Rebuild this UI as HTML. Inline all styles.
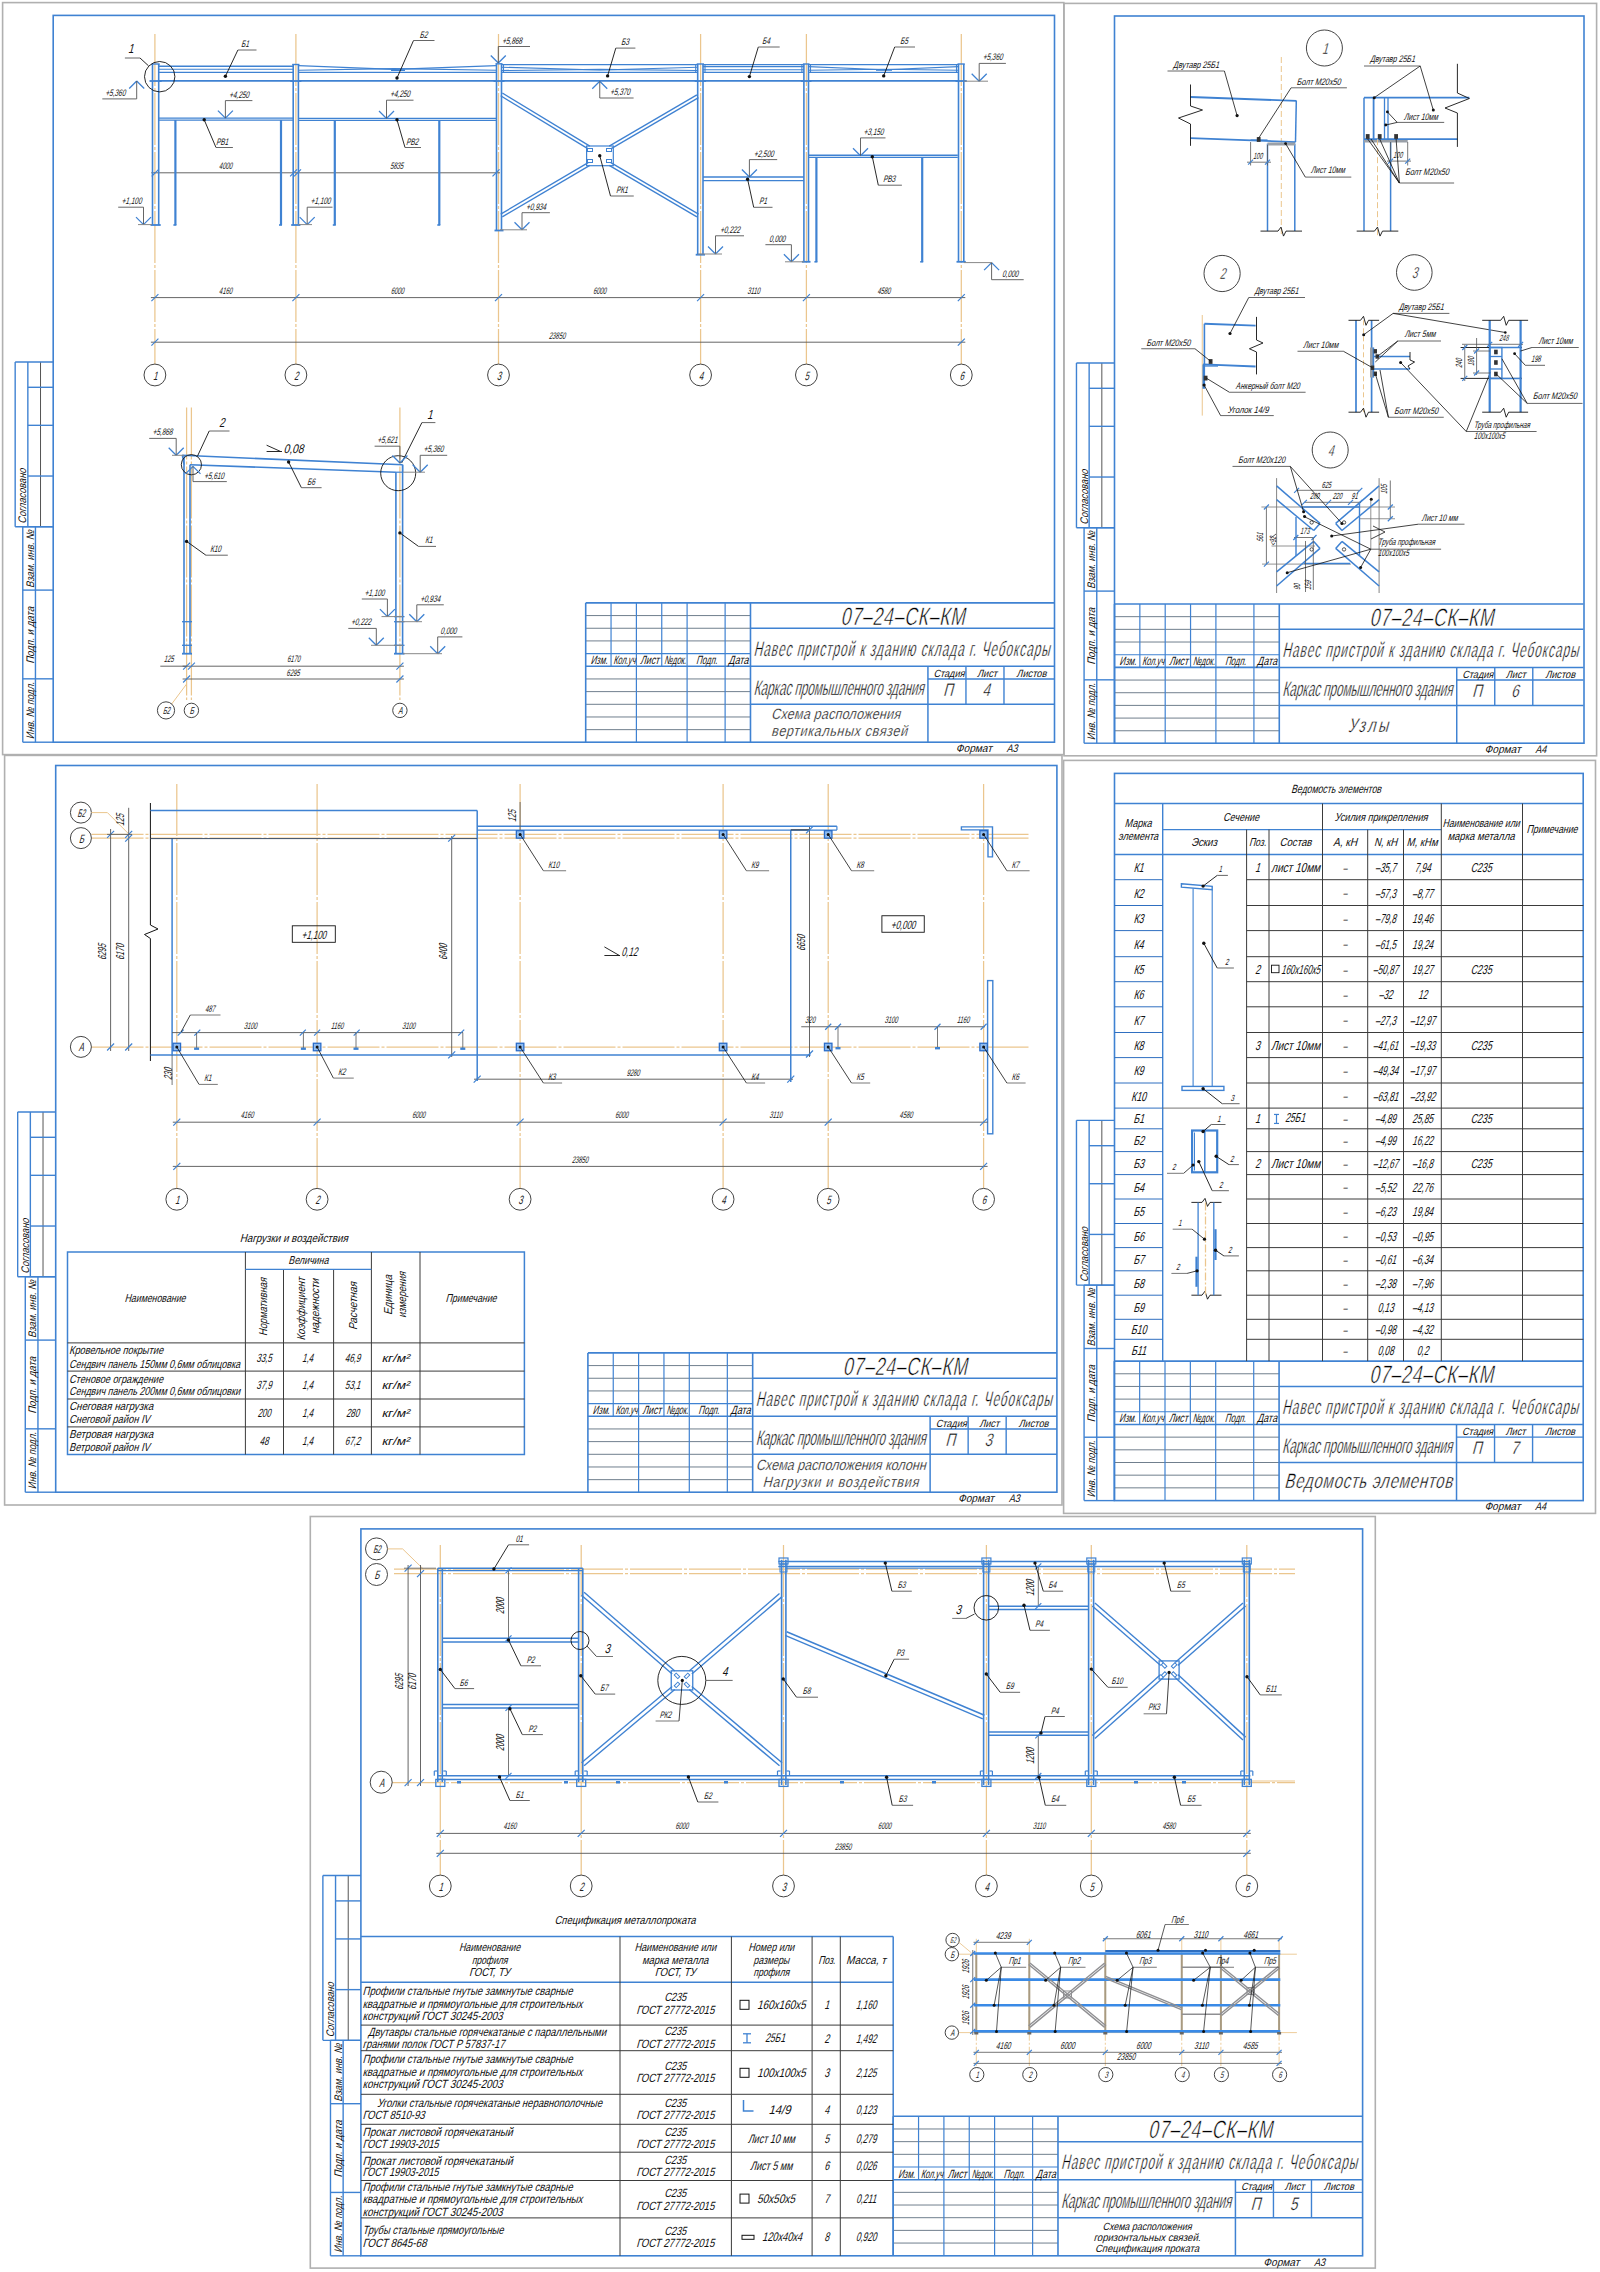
<!DOCTYPE html><html><head><meta charset="utf-8"><style>html,body{margin:0;padding:0;background:#fff;}svg{display:block;}</style></head><body><svg width="1600" height="2272" viewBox="0 0 1600 2272" font-family="Liberation Sans, sans-serif">
<rect width="1600" height="2272" fill="#fff"/>
<rect x="2.6" y="2.6" width="1061.2" height="752" fill="none" stroke="#b0b0b0" stroke-width="1.6"/>
<rect x="53.2" y="15.4" width="1001.3" height="726.8" fill="none" stroke="#3f82d2" stroke-width="1.6"/>
<line x1="22.78" y1="526.73" x2="22.78" y2="742.2" stroke="#3f82d2" stroke-width="1.4"/>
<line x1="35.45" y1="526.73" x2="35.45" y2="742.2" stroke="#3f82d2" stroke-width="1.4"/>
<line x1="22.78" y1="742.2" x2="53.2" y2="742.2" stroke="#3f82d2" stroke-width="1.4"/>
<line x1="22.78" y1="678.83" x2="53.2" y2="678.83" stroke="#3f82d2" stroke-width="1.4"/>
<line x1="22.78" y1="590.1" x2="53.2" y2="590.1" stroke="#3f82d2" stroke-width="1.4"/>
<line x1="22.78" y1="526.73" x2="53.2" y2="526.73" stroke="#3f82d2" stroke-width="1.4"/>
<text transform="translate(33.95,739.2) rotate(-90) skewX(-15) scale(0.72,1)" font-size="11" text-anchor="start" fill="#111111" textLength="79.17" lengthAdjust="spacingAndGlyphs">Инв. № подл.</text>
<text transform="translate(33.95,663.83) rotate(-90) skewX(-15) scale(0.72,1)" font-size="11" text-anchor="start" fill="#111111" textLength="79.17" lengthAdjust="spacingAndGlyphs">Подп. и дата</text>
<text transform="translate(33.95,588.1) rotate(-90) skewX(-15) scale(0.72,1)" font-size="11" text-anchor="start" fill="#111111" textLength="80.56" lengthAdjust="spacingAndGlyphs">Взам. инв. №</text>
<line x1="15.17" y1="361.95" x2="15.17" y2="526.73" stroke="#3f82d2" stroke-width="1.4"/>
<line x1="27.85" y1="361.95" x2="27.85" y2="526.73" stroke="#3f82d2" stroke-width="1.4"/>
<line x1="40.53" y1="361.95" x2="40.53" y2="526.73" stroke="#555" stroke-width="1.0"/>
<line x1="15.17" y1="361.95" x2="53.2" y2="361.95" stroke="#3f82d2" stroke-width="1.4"/>
<line x1="15.17" y1="526.73" x2="53.2" y2="526.73" stroke="#3f82d2" stroke-width="1.4"/>
<line x1="27.85" y1="476.03" x2="53.2" y2="476.03" stroke="#3f82d2" stroke-width="1.4"/>
<line x1="27.85" y1="425.33" x2="53.2" y2="425.33" stroke="#3f82d2" stroke-width="1.4"/>
<line x1="27.85" y1="387.3" x2="53.2" y2="387.3" stroke="#3f82d2" stroke-width="1.4"/>
<text transform="translate(26.35,523.73) rotate(-90) skewX(-15) scale(0.72,1)" font-size="11" text-anchor="start" fill="#111111" textLength="76.39" lengthAdjust="spacingAndGlyphs">Согласовано</text>
<line x1="585.7" y1="615.57" x2="750.48" y2="615.57" stroke="#607080" stroke-width="0.9"/>
<line x1="585.7" y1="628.25" x2="750.48" y2="628.25" stroke="#607080" stroke-width="0.9"/>
<line x1="585.7" y1="640.92" x2="750.48" y2="640.92" stroke="#607080" stroke-width="0.9"/>
<line x1="585.7" y1="653.6" x2="750.48" y2="653.6" stroke="#3f82d2" stroke-width="1.1"/>
<line x1="585.7" y1="666.27" x2="750.48" y2="666.27" stroke="#3f82d2" stroke-width="1.6"/>
<line x1="585.7" y1="678.95" x2="750.48" y2="678.95" stroke="#607080" stroke-width="0.9"/>
<line x1="585.7" y1="691.62" x2="750.48" y2="691.62" stroke="#607080" stroke-width="0.9"/>
<line x1="585.7" y1="704.3" x2="750.48" y2="704.3" stroke="#607080" stroke-width="0.9"/>
<line x1="585.7" y1="716.98" x2="750.48" y2="716.98" stroke="#607080" stroke-width="0.9"/>
<line x1="585.7" y1="729.65" x2="750.48" y2="729.65" stroke="#607080" stroke-width="0.9"/>
<line x1="611.05" y1="602.9" x2="611.05" y2="666.27" stroke="#3f82d2" stroke-width="1.2"/>
<line x1="636.4" y1="602.9" x2="636.4" y2="666.27" stroke="#3f82d2" stroke-width="1.2"/>
<line x1="661.75" y1="602.9" x2="661.75" y2="666.27" stroke="#3f82d2" stroke-width="1.2"/>
<line x1="687.1" y1="602.9" x2="687.1" y2="666.27" stroke="#3f82d2" stroke-width="1.2"/>
<line x1="725.12" y1="602.9" x2="725.12" y2="666.27" stroke="#3f82d2" stroke-width="1.2"/>
<line x1="636.4" y1="666.27" x2="636.4" y2="742.33" stroke="#3f82d2" stroke-width="1.2"/>
<line x1="687.1" y1="666.27" x2="687.1" y2="742.33" stroke="#3f82d2" stroke-width="1.2"/>
<line x1="725.12" y1="666.27" x2="725.12" y2="742.33" stroke="#3f82d2" stroke-width="1.2"/>
<line x1="585.7" y1="602.9" x2="585.7" y2="742.33" stroke="#3f82d2" stroke-width="1.6"/>
<line x1="750.48" y1="602.9" x2="750.48" y2="742.33" stroke="#3f82d2" stroke-width="1.6"/>
<line x1="585.7" y1="602.9" x2="1054.68" y2="602.9" stroke="#3f82d2" stroke-width="1.6"/>
<line x1="750.48" y1="628.25" x2="1054.68" y2="628.25" stroke="#3f82d2" stroke-width="1.5"/>
<line x1="750.48" y1="666.27" x2="1054.68" y2="666.27" stroke="#3f82d2" stroke-width="1.5"/>
<line x1="750.48" y1="704.3" x2="1054.68" y2="704.3" stroke="#3f82d2" stroke-width="1.5"/>
<line x1="927.93" y1="678.95" x2="1054.68" y2="678.95" stroke="#3f82d2" stroke-width="1.4"/>
<line x1="927.93" y1="666.27" x2="927.93" y2="742.33" stroke="#3f82d2" stroke-width="1.5"/>
<line x1="965.95" y1="666.27" x2="965.95" y2="704.3" stroke="#3f82d2" stroke-width="1.4"/>
<line x1="1003.98" y1="666.27" x2="1003.98" y2="704.3" stroke="#3f82d2" stroke-width="1.4"/>
<text transform="translate(598.88,664.25) skewX(-15) scale(0.62,1)" font-size="12" text-anchor="middle" fill="#111111" textLength="27.42" lengthAdjust="spacingAndGlyphs">Изм.</text>
<text transform="translate(624.23,664.25) skewX(-15) scale(0.62,1)" font-size="12" text-anchor="middle" fill="#111111" textLength="35.48" lengthAdjust="spacingAndGlyphs">Кол.уч</text>
<text transform="translate(649.58,664.25) skewX(-15) scale(0.62,1)" font-size="12" text-anchor="middle" fill="#111111" textLength="30.65" lengthAdjust="spacingAndGlyphs">Лист</text>
<text transform="translate(674.93,664.25) skewX(-15) scale(0.62,1)" font-size="12" text-anchor="middle" fill="#111111" textLength="35.48" lengthAdjust="spacingAndGlyphs">№док.</text>
<text transform="translate(706.61,664.25) skewX(-15) scale(0.62,1)" font-size="12" text-anchor="middle" fill="#111111" textLength="33.87" lengthAdjust="spacingAndGlyphs">Подп.</text>
<text transform="translate(738.3,664.25) skewX(-15) scale(0.62,1)" font-size="12" text-anchor="middle" fill="#111111" textLength="32.26" lengthAdjust="spacingAndGlyphs">Дата</text>
<text transform="translate(902.58,624.7) skewX(-12) scale(0.7,1)" font-size="25" text-anchor="middle" fill="#000" stroke="#fff" stroke-width="0.55" textLength="177.14" lengthAdjust="spacing">07–24–СК–КМ</text>
<text transform="translate(753.48,655.63) skewX(-13) scale(0.56,1)" font-size="21" text-anchor="start" fill="#000" stroke="#fff" stroke-width="0.46" textLength="528.57" lengthAdjust="spacing">Навес пристрой к зданию склада г. Чебоксары</text>
<text transform="translate(753.48,694.92) skewX(-13) scale(0.58,1)" font-size="21" text-anchor="start" fill="#000" stroke="#fff" stroke-width="0.46" textLength="293.1" lengthAdjust="spacingAndGlyphs">Каркас промышленного здания</text>
<text transform="translate(948.94,676.92) skewX(-15) scale(0.65,1)" font-size="10.5" text-anchor="middle" fill="#111111" textLength="47.69" lengthAdjust="spacingAndGlyphs">Стадия</text>
<text transform="translate(986.96,676.92) skewX(-15) scale(0.65,1)" font-size="10.5" text-anchor="middle" fill="#111111" textLength="30.77" lengthAdjust="spacingAndGlyphs">Лист</text>
<text transform="translate(1031.33,676.92) skewX(-15) scale(0.65,1)" font-size="10.5" text-anchor="middle" fill="#111111" textLength="46.15" lengthAdjust="spacingAndGlyphs">Листов</text>
<text transform="translate(947.94,696.19) skewX(-15) scale(0.75,1)" font-size="18" text-anchor="middle" fill="#000" stroke="#fff" stroke-width="0.4">П</text>
<text transform="translate(985.96,696.19) skewX(-15) scale(0.75,1)" font-size="18" text-anchor="middle" fill="#000" stroke="#fff" stroke-width="0.4">4</text>
<text transform="translate(955.81,752.12) skewX(-15) scale(0.68,1)" font-size="11" text-anchor="start" fill="#111111" textLength="52.94" lengthAdjust="spacingAndGlyphs">Формат</text>
<text transform="translate(1006.51,752.12) skewX(-15) scale(0.75,1)" font-size="11" text-anchor="start" fill="#111111" textLength="14.67" lengthAdjust="spacingAndGlyphs">А3</text>
<text transform="translate(771,718.6) skewX(-15) scale(0.84,1)" font-size="15" text-anchor="start" fill="#000" stroke="#fff" stroke-width="0.33" textLength="153.57" lengthAdjust="spacing">Схема расположения</text>
<text transform="translate(771,735.5) skewX(-15) scale(0.84,1)" font-size="15" text-anchor="start" fill="#000" stroke="#fff" stroke-width="0.33" textLength="161.9" lengthAdjust="spacing">вертикальных связей</text>
<line x1="154.9" y1="34" x2="154.9" y2="364" stroke="#ebc68e" stroke-width="1.25" stroke-dasharray="52 2 3 2"/>
<line x1="295.9" y1="34" x2="295.9" y2="364" stroke="#ebc68e" stroke-width="1.25" stroke-dasharray="52 2 3 2"/>
<line x1="498.5" y1="34" x2="498.5" y2="364" stroke="#ebc68e" stroke-width="1.25" stroke-dasharray="52 2 3 2"/>
<line x1="700.6" y1="34" x2="700.6" y2="364" stroke="#ebc68e" stroke-width="1.25" stroke-dasharray="52 2 3 2"/>
<line x1="806.4" y1="34" x2="806.4" y2="364" stroke="#ebc68e" stroke-width="1.25" stroke-dasharray="52 2 3 2"/>
<line x1="961.3" y1="34" x2="961.3" y2="364" stroke="#ebc68e" stroke-width="1.25" stroke-dasharray="52 2 3 2"/>
<circle cx="154.9" cy="375" r="10.9" fill="#fff" stroke="#3a3a3a" stroke-width="0.95"/>
<text transform="translate(155.2,379.55) skewX(-15) scale(0.644,1)" font-size="12.09" text-anchor="middle" fill="#222">1</text>
<circle cx="295.9" cy="375" r="10.9" fill="#fff" stroke="#3a3a3a" stroke-width="0.95"/>
<text transform="translate(296.2,379.55) skewX(-15) scale(0.644,1)" font-size="12.09" text-anchor="middle" fill="#222">2</text>
<circle cx="498.5" cy="375" r="10.9" fill="#fff" stroke="#3a3a3a" stroke-width="0.95"/>
<text transform="translate(498.8,379.55) skewX(-15) scale(0.644,1)" font-size="12.09" text-anchor="middle" fill="#222">3</text>
<circle cx="700.6" cy="375" r="10.9" fill="#fff" stroke="#3a3a3a" stroke-width="0.95"/>
<text transform="translate(700.9,379.55) skewX(-15) scale(0.644,1)" font-size="12.09" text-anchor="middle" fill="#222">4</text>
<circle cx="806.4" cy="375" r="10.9" fill="#fff" stroke="#3a3a3a" stroke-width="0.95"/>
<text transform="translate(806.7,379.55) skewX(-15) scale(0.644,1)" font-size="12.09" text-anchor="middle" fill="#222">5</text>
<circle cx="961.3" cy="375" r="10.9" fill="#fff" stroke="#3a3a3a" stroke-width="0.95"/>
<text transform="translate(961.6,379.55) skewX(-15) scale(0.644,1)" font-size="12.09" text-anchor="middle" fill="#222">6</text>
<line x1="150.9" y1="297.6" x2="965.3" y2="297.6" stroke="#555555" stroke-width="0.9"/>
<line x1="151.4" y1="301.1" x2="158.4" y2="294.1" stroke="#3f82d2" stroke-width="1.2"/>
<line x1="292.4" y1="301.1" x2="299.4" y2="294.1" stroke="#3f82d2" stroke-width="1.2"/>
<line x1="495" y1="301.1" x2="502" y2="294.1" stroke="#3f82d2" stroke-width="1.2"/>
<line x1="697.1" y1="301.1" x2="704.1" y2="294.1" stroke="#3f82d2" stroke-width="1.2"/>
<line x1="802.9" y1="301.1" x2="809.9" y2="294.1" stroke="#3f82d2" stroke-width="1.2"/>
<line x1="957.8" y1="301.1" x2="964.8" y2="294.1" stroke="#3f82d2" stroke-width="1.2"/>
<text transform="translate(225.4,294.2) skewX(-15) scale(0.62,1)" font-size="9.5" text-anchor="middle" fill="#111111">4160</text>
<text transform="translate(397.2,294.2) skewX(-15) scale(0.62,1)" font-size="9.5" text-anchor="middle" fill="#111111">6000</text>
<text transform="translate(599.55,294.2) skewX(-15) scale(0.62,1)" font-size="9.5" text-anchor="middle" fill="#111111">6000</text>
<text transform="translate(753.5,294.2) skewX(-15) scale(0.62,1)" font-size="9.5" text-anchor="middle" fill="#111111">3110</text>
<text transform="translate(883.85,294.2) skewX(-15) scale(0.62,1)" font-size="9.5" text-anchor="middle" fill="#111111">4580</text>
<line x1="150.9" y1="342.2" x2="965.3" y2="342.2" stroke="#555555" stroke-width="0.9"/>
<line x1="151.4" y1="345.7" x2="158.4" y2="338.7" stroke="#3f82d2" stroke-width="1.2"/>
<line x1="957.8" y1="345.7" x2="964.8" y2="338.7" stroke="#3f82d2" stroke-width="1.2"/>
<text transform="translate(557,338.8) skewX(-15) scale(0.62,1)" font-size="9.5" text-anchor="middle" fill="#111111">23850</text>
<line x1="151.2" y1="172.8" x2="500" y2="172.8" stroke="#555555" stroke-width="0.9"/>
<line x1="151.7" y1="176.3" x2="158.7" y2="169.3" stroke="#3f82d2" stroke-width="1.2"/>
<line x1="290.1" y1="176.3" x2="297.1" y2="169.3" stroke="#3f82d2" stroke-width="1.2"/>
<line x1="294" y1="176.3" x2="301" y2="169.3" stroke="#3f82d2" stroke-width="1.2"/>
<line x1="492.5" y1="176.3" x2="499.5" y2="169.3" stroke="#3f82d2" stroke-width="1.2"/>
<text transform="translate(225.4,169) skewX(-15) scale(0.62,1)" font-size="9.5" text-anchor="middle" fill="#111111">4000</text>
<text transform="translate(396.6,169) skewX(-15) scale(0.62,1)" font-size="9.5" text-anchor="middle" fill="#111111">5835</text>
<line x1="152.5" y1="64" x2="152.5" y2="225" stroke="#3f82d2" stroke-width="1.6"/>
<line x1="158.7" y1="64" x2="158.7" y2="225" stroke="#3f82d2" stroke-width="1.6"/>
<line x1="151.5" y1="64" x2="159.7" y2="64" stroke="#3f82d2" stroke-width="1.4"/>
<line x1="150.5" y1="225" x2="160.7" y2="225" stroke="#3f82d2" stroke-width="1.8"/>
<line x1="293.2" y1="64.5" x2="293.2" y2="225" stroke="#3f82d2" stroke-width="1.6"/>
<line x1="298.4" y1="64.5" x2="298.4" y2="225" stroke="#3f82d2" stroke-width="1.6"/>
<line x1="292.2" y1="64.5" x2="299.4" y2="64.5" stroke="#3f82d2" stroke-width="1.4"/>
<line x1="291.2" y1="225" x2="300.4" y2="225" stroke="#3f82d2" stroke-width="1.8"/>
<line x1="496.5" y1="63.8" x2="496.5" y2="230.5" stroke="#3f82d2" stroke-width="1.6"/>
<line x1="501.5" y1="63.8" x2="501.5" y2="230.5" stroke="#3f82d2" stroke-width="1.6"/>
<line x1="495.5" y1="63.8" x2="502.5" y2="63.8" stroke="#3f82d2" stroke-width="1.4"/>
<line x1="494.5" y1="230.5" x2="503.5" y2="230.5" stroke="#3f82d2" stroke-width="1.8"/>
<line x1="697.7" y1="64" x2="697.7" y2="254.7" stroke="#3f82d2" stroke-width="1.6"/>
<line x1="703" y1="64" x2="703" y2="254.7" stroke="#3f82d2" stroke-width="1.6"/>
<line x1="696.7" y1="64" x2="704" y2="64" stroke="#3f82d2" stroke-width="1.4"/>
<line x1="695.7" y1="254.7" x2="705" y2="254.7" stroke="#3f82d2" stroke-width="1.8"/>
<line x1="803.9" y1="64" x2="803.9" y2="261.8" stroke="#3f82d2" stroke-width="1.6"/>
<line x1="808.5" y1="64" x2="808.5" y2="261.8" stroke="#3f82d2" stroke-width="1.6"/>
<line x1="802.9" y1="64" x2="809.5" y2="64" stroke="#3f82d2" stroke-width="1.4"/>
<line x1="801.9" y1="261.8" x2="810.5" y2="261.8" stroke="#3f82d2" stroke-width="1.8"/>
<line x1="958.5" y1="64" x2="958.5" y2="261.8" stroke="#3f82d2" stroke-width="1.6"/>
<line x1="963.8" y1="64" x2="963.8" y2="261.8" stroke="#3f82d2" stroke-width="1.6"/>
<line x1="957.5" y1="64" x2="964.8" y2="64" stroke="#3f82d2" stroke-width="1.4"/>
<line x1="956.5" y1="261.8" x2="965.8" y2="261.8" stroke="#3f82d2" stroke-width="1.8"/>
<line x1="158.7" y1="80.8" x2="293.2" y2="80.8" stroke="#3f82d2" stroke-width="1.8"/>
<line x1="158.7" y1="72.3" x2="293.2" y2="72.3" stroke="#3f82d2" stroke-width="1.3"/>
<line x1="298.4" y1="80.8" x2="496.5" y2="80.8" stroke="#3f82d2" stroke-width="1.8"/>
<line x1="298.4" y1="72.3" x2="496.5" y2="72.3" stroke="#3f82d2" stroke-width="1.3"/>
<line x1="501.5" y1="80.8" x2="697.7" y2="80.8" stroke="#3f82d2" stroke-width="1.8"/>
<line x1="501.5" y1="72.3" x2="697.7" y2="72.3" stroke="#3f82d2" stroke-width="1.3"/>
<line x1="501.5" y1="64.6" x2="697.7" y2="64.6" stroke="#3f82d2" stroke-width="1.4"/>
<line x1="503.5" y1="64.6" x2="503.5" y2="72.3" stroke="#3f82d2" stroke-width="1.1"/>
<line x1="695.7" y1="64.6" x2="695.7" y2="72.3" stroke="#3f82d2" stroke-width="1.1"/>
<line x1="703" y1="80.8" x2="803.9" y2="80.8" stroke="#3f82d2" stroke-width="1.8"/>
<line x1="703" y1="72.3" x2="803.9" y2="72.3" stroke="#3f82d2" stroke-width="1.3"/>
<line x1="703" y1="64.6" x2="803.9" y2="64.6" stroke="#3f82d2" stroke-width="1.4"/>
<line x1="705" y1="64.6" x2="705" y2="72.3" stroke="#3f82d2" stroke-width="1.1"/>
<line x1="801.9" y1="64.6" x2="801.9" y2="72.3" stroke="#3f82d2" stroke-width="1.1"/>
<line x1="808.5" y1="80.8" x2="958.5" y2="80.8" stroke="#3f82d2" stroke-width="1.8"/>
<line x1="808.5" y1="72.3" x2="958.5" y2="72.3" stroke="#3f82d2" stroke-width="1.3"/>
<line x1="808.5" y1="64.6" x2="958.5" y2="64.6" stroke="#3f82d2" stroke-width="1.4"/>
<line x1="810.5" y1="64.6" x2="810.5" y2="72.3" stroke="#3f82d2" stroke-width="1.1"/>
<line x1="956.5" y1="64.6" x2="956.5" y2="72.3" stroke="#3f82d2" stroke-width="1.1"/>
<line x1="158.7" y1="66.2" x2="293.2" y2="66.2" stroke="#3f82d2" stroke-width="1.4"/>
<line x1="158.7" y1="69.2" x2="293.2" y2="69.2" stroke="#3f82d2" stroke-width="1.1"/>
<polyline points="298.4,65.6 394,69.4 496.5,65.6" fill="none" stroke="#3f82d2" stroke-width="1.4"/>
<polyline points="298.4,70.2 394,68.6 496.5,70.2" fill="none" stroke="#3f82d2" stroke-width="1.1"/>
<line x1="391" y1="70.2" x2="405" y2="70.2" stroke="#3f82d2" stroke-width="1.6"/>
<polyline points="501.5,67.2 600,70 697.7,67.2" fill="none" stroke="#3f82d2" stroke-width="1.1"/>
<polyline points="501.5,70.5 600,69.4 697.7,70.5" fill="none" stroke="#3f82d2" stroke-width="1.1"/>
<line x1="703" y1="66.6" x2="803.9" y2="66.6" stroke="#3f82d2" stroke-width="1.1"/>
<line x1="703" y1="69.8" x2="803.9" y2="69.8" stroke="#3f82d2" stroke-width="1.1"/>
<polyline points="808.5,66.6 884,69.8 958.5,66.6" fill="none" stroke="#3f82d2" stroke-width="1.1"/>
<polyline points="808.5,70.3 884,69.2 958.5,70.3" fill="none" stroke="#3f82d2" stroke-width="1.1"/>
<line x1="876" y1="70" x2="892" y2="70" stroke="#3f82d2" stroke-width="1.6"/>
<line x1="149.5" y1="81" x2="161.7" y2="81" stroke="#3f82d2" stroke-width="1.8"/>
<line x1="290.2" y1="81" x2="301.4" y2="81" stroke="#3f82d2" stroke-width="1.8"/>
<line x1="493.5" y1="81" x2="504.5" y2="81" stroke="#3f82d2" stroke-width="1.8"/>
<line x1="694.7" y1="81" x2="706" y2="81" stroke="#3f82d2" stroke-width="1.8"/>
<line x1="800.9" y1="81" x2="811.5" y2="81" stroke="#3f82d2" stroke-width="1.8"/>
<line x1="955.5" y1="81" x2="966.8" y2="81" stroke="#3f82d2" stroke-width="1.8"/>
<line x1="158.7" y1="118.2" x2="293.2" y2="118.2" stroke="#3f82d2" stroke-width="1.3"/>
<line x1="158.7" y1="120.2" x2="293.2" y2="120.2" stroke="#3f82d2" stroke-width="1.3"/>
<line x1="175.4" y1="120" x2="175.4" y2="225" stroke="#3f82d2" stroke-width="2.2"/>
<line x1="173.4" y1="225" x2="176.4" y2="225" stroke="#3f82d2" stroke-width="1.6"/>
<line x1="281" y1="120" x2="281" y2="225" stroke="#3f82d2" stroke-width="2.2"/>
<line x1="279" y1="225" x2="282" y2="225" stroke="#3f82d2" stroke-width="1.6"/>
<line x1="298.4" y1="118.4" x2="496.5" y2="118.4" stroke="#3f82d2" stroke-width="1.3"/>
<line x1="298.4" y1="120.4" x2="496.5" y2="120.4" stroke="#3f82d2" stroke-width="1.3"/>
<line x1="334.8" y1="120" x2="334.8" y2="225" stroke="#3f82d2" stroke-width="2.2"/>
<line x1="332.8" y1="225" x2="335.8" y2="225" stroke="#3f82d2" stroke-width="1.6"/>
<line x1="439.3" y1="120" x2="439.3" y2="225" stroke="#3f82d2" stroke-width="2.2"/>
<line x1="437.3" y1="225" x2="440.3" y2="225" stroke="#3f82d2" stroke-width="1.6"/>
<line x1="500.67" y1="95.77" x2="588.17" y2="148.87" stroke="#3f82d2" stroke-width="1.3"/>
<line x1="502.33" y1="93.03" x2="589.83" y2="146.13" stroke="#3f82d2" stroke-width="1.3"/>
<line x1="610.81" y1="148.88" x2="698.51" y2="97.58" stroke="#3f82d2" stroke-width="1.3"/>
<line x1="609.19" y1="146.12" x2="696.89" y2="94.82" stroke="#3f82d2" stroke-width="1.3"/>
<line x1="502.31" y1="216.88" x2="589.81" y2="165.38" stroke="#3f82d2" stroke-width="1.3"/>
<line x1="500.69" y1="214.12" x2="588.19" y2="162.62" stroke="#3f82d2" stroke-width="1.3"/>
<line x1="609.19" y1="165.38" x2="696.89" y2="216.88" stroke="#3f82d2" stroke-width="1.3"/>
<line x1="610.81" y1="162.62" x2="698.51" y2="214.12" stroke="#3f82d2" stroke-width="1.3"/>
<rect x="586.6" y="146" width="26.7" height="19.7" fill="none" stroke="#3f82d2" stroke-width="1.2"/>
<rect x="587.5" y="148.5" width="5" height="3" fill="none" stroke="#3f82d2" stroke-width="1.0"/>
<rect x="606.5" y="148.5" width="5" height="3" fill="none" stroke="#3f82d2" stroke-width="1.0"/>
<rect x="587.5" y="159.5" width="5" height="3" fill="none" stroke="#3f82d2" stroke-width="1.0"/>
<rect x="606.5" y="159.5" width="5" height="3" fill="none" stroke="#3f82d2" stroke-width="1.0"/>
<line x1="703" y1="177" x2="803.9" y2="177" stroke="#3f82d2" stroke-width="1.3"/>
<line x1="703" y1="180.6" x2="803.9" y2="180.6" stroke="#3f82d2" stroke-width="1.3"/>
<line x1="808.5" y1="155.2" x2="957.8" y2="155.2" stroke="#3f82d2" stroke-width="1.4"/>
<line x1="808.5" y1="157.4" x2="957.8" y2="157.4" stroke="#3f82d2" stroke-width="1.4"/>
<line x1="816.4" y1="157" x2="816.4" y2="261.8" stroke="#3f82d2" stroke-width="2.2"/>
<line x1="814.4" y1="261.8" x2="817.4" y2="261.8" stroke="#3f82d2" stroke-width="1.6"/>
<line x1="922.2" y1="157" x2="922.2" y2="261.8" stroke="#3f82d2" stroke-width="2.2"/>
<line x1="920.2" y1="261.8" x2="923.2" y2="261.8" stroke="#3f82d2" stroke-width="1.6"/>
<circle cx="159.7" cy="76.7" r="15.2" fill="none" stroke="#111111" stroke-width="0.9"/>
<line x1="124.9" y1="58" x2="140" y2="58" stroke="#555555" stroke-width="0.9"/>
<line x1="140" y1="58" x2="148.5" y2="65.8" stroke="#111111" stroke-width="0.9"/>
<text transform="translate(128,53.3) skewX(-15) scale(0.75,1)" font-size="13" text-anchor="start" fill="#111111">1</text>
<circle cx="225.4" cy="76.3" r="1.7" fill="#111"/>
<line x1="225.4" y1="76.3" x2="237.9" y2="50" stroke="#111111" stroke-width="0.9"/>
<line x1="237.9" y1="50" x2="256.5" y2="50" stroke="#555555" stroke-width="0.9"/>
<text transform="translate(240.9,47) skewX(-15) scale(0.68,1)" font-size="9.5" text-anchor="start" fill="#111111">Б1</text>
<circle cx="397" cy="78" r="1.7" fill="#111"/>
<line x1="397" y1="78" x2="413.5" y2="40.5" stroke="#111111" stroke-width="0.9"/>
<line x1="413.5" y1="40.5" x2="434.5" y2="40.5" stroke="#555555" stroke-width="0.9"/>
<text transform="translate(419.5,37.5) skewX(-15) scale(0.68,1)" font-size="9.5" text-anchor="start" fill="#111111">Б2</text>
<circle cx="607.6" cy="75.9" r="1.7" fill="#111"/>
<line x1="607.6" y1="75.9" x2="615.8" y2="48.1" stroke="#111111" stroke-width="0.9"/>
<line x1="615.8" y1="48.1" x2="635.4" y2="48.1" stroke="#555555" stroke-width="0.9"/>
<text transform="translate(621,45.1) skewX(-15) scale(0.68,1)" font-size="9.5" text-anchor="start" fill="#111111">Б3</text>
<circle cx="749.4" cy="76.6" r="1.7" fill="#111"/>
<line x1="749.4" y1="76.6" x2="758.3" y2="47" stroke="#111111" stroke-width="0.9"/>
<line x1="758.3" y1="47" x2="779.7" y2="47" stroke="#555555" stroke-width="0.9"/>
<text transform="translate(762,44) skewX(-15) scale(0.68,1)" font-size="9.5" text-anchor="start" fill="#111111">Б4</text>
<circle cx="883.7" cy="75.9" r="1.7" fill="#111"/>
<line x1="883.7" y1="75.9" x2="894.7" y2="47" stroke="#111111" stroke-width="0.9"/>
<line x1="894.7" y1="47" x2="915" y2="47" stroke="#555555" stroke-width="0.9"/>
<text transform="translate(900,44) skewX(-15) scale(0.68,1)" font-size="9.5" text-anchor="start" fill="#111111">Б5</text>
<circle cx="204.2" cy="119.8" r="1.7" fill="#111"/>
<line x1="204.2" y1="119.8" x2="216" y2="147.5" stroke="#111111" stroke-width="0.9"/>
<line x1="216" y1="147.5" x2="232.9" y2="147.5" stroke="#555555" stroke-width="0.9"/>
<text transform="translate(216,144.5) skewX(-15) scale(0.68,1)" font-size="9.5" text-anchor="start" fill="#111111">РВ1</text>
<circle cx="397" cy="119.8" r="1.7" fill="#111"/>
<line x1="397" y1="119.8" x2="405" y2="147.5" stroke="#111111" stroke-width="0.9"/>
<line x1="405" y1="147.5" x2="421" y2="147.5" stroke="#555555" stroke-width="0.9"/>
<text transform="translate(406,144.5) skewX(-15) scale(0.68,1)" font-size="9.5" text-anchor="start" fill="#111111">РВ2</text>
<circle cx="599.75" cy="155.7" r="1.7" fill="#111"/>
<line x1="599.75" y1="155.7" x2="610.5" y2="196" stroke="#111111" stroke-width="0.9"/>
<line x1="610.5" y1="196" x2="633.75" y2="196" stroke="#555555" stroke-width="0.9"/>
<text transform="translate(616,193) skewX(-15) scale(0.68,1)" font-size="9.5" text-anchor="start" fill="#111111">РК1</text>
<circle cx="747.6" cy="179.2" r="1.7" fill="#111"/>
<line x1="747.6" y1="179.2" x2="753.7" y2="207.3" stroke="#111111" stroke-width="0.9"/>
<line x1="753.7" y1="207.3" x2="772.5" y2="207.3" stroke="#555555" stroke-width="0.9"/>
<text transform="translate(759,204.3) skewX(-15) scale(0.68,1)" font-size="9.5" text-anchor="start" fill="#111111">Р1</text>
<circle cx="872.3" cy="156.7" r="1.7" fill="#111"/>
<line x1="872.3" y1="156.7" x2="878.3" y2="185.2" stroke="#111111" stroke-width="0.9"/>
<line x1="878.3" y1="185.2" x2="901.9" y2="185.2" stroke="#555555" stroke-width="0.9"/>
<text transform="translate(883,182.2) skewX(-15) scale(0.68,1)" font-size="9.5" text-anchor="start" fill="#111111">РВ3</text>
<line x1="129.2" y1="88.5" x2="136.7" y2="81" stroke="#3f82d2" stroke-width="1.3"/>
<line x1="136.7" y1="81" x2="144.2" y2="88.5" stroke="#3f82d2" stroke-width="1.3"/>
<line x1="136.7" y1="81" x2="136.7" y2="98.9" stroke="#555555" stroke-width="0.9"/>
<line x1="136.7" y1="98.9" x2="102.3" y2="98.9" stroke="#555555" stroke-width="0.9"/>
<text transform="translate(105.3,95.9) skewX(-15) scale(0.68,1)" font-size="9.5" text-anchor="start" fill="#111111">+5,360</text>
<line x1="490.8" y1="55.5" x2="498.3" y2="63" stroke="#3f82d2" stroke-width="1.3"/>
<line x1="498.3" y1="63" x2="505.8" y2="55.5" stroke="#3f82d2" stroke-width="1.3"/>
<line x1="498.3" y1="63" x2="498.3" y2="46.5" stroke="#555555" stroke-width="0.9"/>
<line x1="498.3" y1="46.5" x2="530" y2="46.5" stroke="#555555" stroke-width="0.9"/>
<text transform="translate(502,43.5) skewX(-15) scale(0.68,1)" font-size="9.5" text-anchor="start" fill="#111111">+5,868</text>
<line x1="592.25" y1="88.7" x2="599.75" y2="81.2" stroke="#3f82d2" stroke-width="1.3"/>
<line x1="599.75" y1="81.2" x2="607.25" y2="88.7" stroke="#3f82d2" stroke-width="1.3"/>
<line x1="599.75" y1="81.2" x2="599.75" y2="98" stroke="#555555" stroke-width="0.9"/>
<line x1="599.75" y1="98" x2="633.6" y2="98" stroke="#555555" stroke-width="0.9"/>
<text transform="translate(610,95) skewX(-15) scale(0.68,1)" font-size="9.5" text-anchor="start" fill="#111111">+5,370</text>
<line x1="217.9" y1="110.6" x2="225.4" y2="118.1" stroke="#3f82d2" stroke-width="1.3"/>
<line x1="225.4" y1="118.1" x2="232.9" y2="110.6" stroke="#3f82d2" stroke-width="1.3"/>
<line x1="225.4" y1="118.1" x2="225.4" y2="100.6" stroke="#555555" stroke-width="0.9"/>
<line x1="225.4" y1="100.6" x2="252.4" y2="100.6" stroke="#555555" stroke-width="0.9"/>
<text transform="translate(229,97.6) skewX(-15) scale(0.68,1)" font-size="9.5" text-anchor="start" fill="#111111">+4,250</text>
<line x1="379" y1="111" x2="386.5" y2="118.5" stroke="#3f82d2" stroke-width="1.3"/>
<line x1="386.5" y1="118.5" x2="394" y2="111" stroke="#3f82d2" stroke-width="1.3"/>
<line x1="386.5" y1="118.5" x2="386.5" y2="100.2" stroke="#555555" stroke-width="0.9"/>
<line x1="386.5" y1="100.2" x2="413.5" y2="100.2" stroke="#555555" stroke-width="0.9"/>
<text transform="translate(390,97.2) skewX(-15) scale(0.68,1)" font-size="9.5" text-anchor="start" fill="#111111">+4,250</text>
<line x1="136" y1="217.1" x2="143.5" y2="224.6" stroke="#3f82d2" stroke-width="1.3"/>
<line x1="143.5" y1="224.6" x2="151" y2="217.1" stroke="#3f82d2" stroke-width="1.3"/>
<line x1="143.5" y1="224.6" x2="143.5" y2="207.2" stroke="#555555" stroke-width="0.9"/>
<line x1="143.5" y1="207.2" x2="118.2" y2="207.2" stroke="#555555" stroke-width="0.9"/>
<line x1="138" y1="224.6" x2="152" y2="224.6" stroke="#888" stroke-width="1.0"/>
<text transform="translate(121.6,204.2) skewX(-15) scale(0.68,1)" font-size="9.5" text-anchor="start" fill="#111111">+1,100</text>
<line x1="299.7" y1="217.1" x2="307.2" y2="224.6" stroke="#3f82d2" stroke-width="1.3"/>
<line x1="307.2" y1="224.6" x2="314.7" y2="217.1" stroke="#3f82d2" stroke-width="1.3"/>
<line x1="307.2" y1="224.6" x2="307.2" y2="207.2" stroke="#555555" stroke-width="0.9"/>
<line x1="307.2" y1="207.2" x2="332.5" y2="207.2" stroke="#555555" stroke-width="0.9"/>
<line x1="298" y1="224.6" x2="312" y2="224.6" stroke="#888" stroke-width="1.0"/>
<text transform="translate(310.5,204.2) skewX(-15) scale(0.68,1)" font-size="9.5" text-anchor="start" fill="#111111">+1,100</text>
<line x1="514.5" y1="222.3" x2="522" y2="229.8" stroke="#3f82d2" stroke-width="1.3"/>
<line x1="522" y1="229.8" x2="529.5" y2="222.3" stroke="#3f82d2" stroke-width="1.3"/>
<line x1="522" y1="229.8" x2="522" y2="212.7" stroke="#555555" stroke-width="0.9"/>
<line x1="522" y1="212.7" x2="549.9" y2="212.7" stroke="#555555" stroke-width="0.9"/>
<line x1="500" y1="229.8" x2="527" y2="229.8" stroke="#888" stroke-width="1.0"/>
<text transform="translate(526,209.7) skewX(-15) scale(0.68,1)" font-size="9.5" text-anchor="start" fill="#111111">+0,934</text>
<line x1="741.9" y1="169.5" x2="749.4" y2="177" stroke="#3f82d2" stroke-width="1.3"/>
<line x1="749.4" y1="177" x2="756.9" y2="169.5" stroke="#3f82d2" stroke-width="1.3"/>
<line x1="749.4" y1="177" x2="749.4" y2="159.6" stroke="#555555" stroke-width="0.9"/>
<line x1="749.4" y1="159.6" x2="777.2" y2="159.6" stroke="#555555" stroke-width="0.9"/>
<text transform="translate(753.7,156.6) skewX(-15) scale(0.68,1)" font-size="9.5" text-anchor="start" fill="#111111">+2,500</text>
<line x1="708" y1="246.5" x2="715.5" y2="254" stroke="#3f82d2" stroke-width="1.3"/>
<line x1="715.5" y1="254" x2="723" y2="246.5" stroke="#3f82d2" stroke-width="1.3"/>
<line x1="715.5" y1="254" x2="715.5" y2="235.8" stroke="#555555" stroke-width="0.9"/>
<line x1="715.5" y1="235.8" x2="744" y2="235.8" stroke="#555555" stroke-width="0.9"/>
<line x1="698" y1="254" x2="722" y2="254" stroke="#888" stroke-width="1.0"/>
<text transform="translate(720,232.8) skewX(-15) scale(0.68,1)" font-size="9.5" text-anchor="start" fill="#111111">+0,222</text>
<line x1="783.9" y1="254.3" x2="791.4" y2="261.8" stroke="#3f82d2" stroke-width="1.3"/>
<line x1="791.4" y1="261.8" x2="798.9" y2="254.3" stroke="#3f82d2" stroke-width="1.3"/>
<line x1="791.4" y1="261.8" x2="791.4" y2="244.7" stroke="#555555" stroke-width="0.9"/>
<line x1="791.4" y1="244.7" x2="765.4" y2="244.7" stroke="#555555" stroke-width="0.9"/>
<line x1="785" y1="261.8" x2="804" y2="261.8" stroke="#888" stroke-width="1.0"/>
<text transform="translate(769,241.7) skewX(-15) scale(0.68,1)" font-size="9.5" text-anchor="start" fill="#111111">0,000</text>
<line x1="971.7" y1="73.7" x2="979.2" y2="81.2" stroke="#3f82d2" stroke-width="1.3"/>
<line x1="979.2" y1="81.2" x2="986.7" y2="73.7" stroke="#3f82d2" stroke-width="1.3"/>
<line x1="979.2" y1="81.2" x2="979.2" y2="63.4" stroke="#555555" stroke-width="0.9"/>
<line x1="979.2" y1="63.4" x2="1005.9" y2="63.4" stroke="#555555" stroke-width="0.9"/>
<line x1="963.8" y1="81.2" x2="988" y2="81.2" stroke="#888" stroke-width="1.0"/>
<text transform="translate(982.7,60.4) skewX(-15) scale(0.68,1)" font-size="9.5" text-anchor="start" fill="#111111">+5,360</text>
<line x1="853" y1="148.2" x2="860.5" y2="155.7" stroke="#3f82d2" stroke-width="1.3"/>
<line x1="860.5" y1="155.7" x2="868" y2="148.2" stroke="#3f82d2" stroke-width="1.3"/>
<line x1="860.5" y1="155.7" x2="860.5" y2="137.9" stroke="#555555" stroke-width="0.9"/>
<line x1="860.5" y1="137.9" x2="885.5" y2="137.9" stroke="#555555" stroke-width="0.9"/>
<text transform="translate(863.5,134.9) skewX(-15) scale(0.68,1)" font-size="9.5" text-anchor="start" fill="#111111">+3,150</text>
<line x1="984.1" y1="270.1" x2="991.6" y2="262.6" stroke="#3f82d2" stroke-width="1.3"/>
<line x1="991.6" y1="262.6" x2="999.1" y2="270.1" stroke="#3f82d2" stroke-width="1.3"/>
<line x1="991.6" y1="262.6" x2="991.6" y2="279.7" stroke="#555555" stroke-width="0.9"/>
<line x1="991.6" y1="279.7" x2="1023.7" y2="279.7" stroke="#555555" stroke-width="0.9"/>
<line x1="963.8" y1="262.6" x2="992" y2="262.6" stroke="#888" stroke-width="1.0"/>
<text transform="translate(1002,276.7) skewX(-15) scale(0.68,1)" font-size="9.5" text-anchor="start" fill="#111111">0,000</text>
<line x1="186.6" y1="407.4" x2="186.6" y2="700" stroke="#ebc68e" stroke-width="1.25" stroke-dasharray="52 2 3 2"/>
<line x1="191.4" y1="407.4" x2="191.4" y2="700" stroke="#ebc68e" stroke-width="1.25" stroke-dasharray="52 2 3 2"/>
<line x1="399.9" y1="407.4" x2="399.9" y2="700" stroke="#ebc68e" stroke-width="1.25" stroke-dasharray="52 2 3 2"/>
<line x1="171.4" y1="704.4" x2="186.6" y2="684" stroke="#ebc68e" stroke-width="1.0"/>
<circle cx="166" cy="710.4" r="8.6" fill="#fff" stroke="#3a3a3a" stroke-width="0.95"/>
<text transform="translate(166.3,714.25) skewX(-15) scale(0.5704,1)" font-size="10.23" text-anchor="middle" fill="#222">Б2</text>
<circle cx="191.4" cy="710.4" r="7.2" fill="#fff" stroke="#3a3a3a" stroke-width="0.95"/>
<text transform="translate(191.7,714.25) skewX(-15) scale(0.644,1)" font-size="10.23" text-anchor="middle" fill="#222">Б</text>
<circle cx="399.9" cy="710.4" r="7.2" fill="#fff" stroke="#3a3a3a" stroke-width="0.95"/>
<text transform="translate(400.2,714.25) skewX(-15) scale(0.644,1)" font-size="10.23" text-anchor="middle" fill="#222">А</text>
<line x1="184" y1="455.3" x2="184" y2="653.7" stroke="#3f82d2" stroke-width="1.6"/>
<line x1="190" y1="464.7" x2="190" y2="653.7" stroke="#3f82d2" stroke-width="1.6"/>
<line x1="182" y1="653.7" x2="192" y2="653.7" stroke="#3f82d2" stroke-width="1.8"/>
<line x1="395.9" y1="472.2" x2="395.9" y2="653.7" stroke="#3f82d2" stroke-width="1.6"/>
<line x1="402.6" y1="464.7" x2="402.6" y2="653.7" stroke="#3f82d2" stroke-width="1.6"/>
<line x1="394" y1="653.7" x2="404.5" y2="653.7" stroke="#3f82d2" stroke-width="1.8"/>
<line x1="182" y1="621.7" x2="192" y2="621.7" stroke="#3f82d2" stroke-width="1.3"/>
<line x1="182" y1="645.3" x2="192" y2="645.3" stroke="#3f82d2" stroke-width="1.3"/>
<line x1="394" y1="616.6" x2="404.5" y2="616.6" stroke="#3f82d2" stroke-width="1.3"/>
<line x1="394" y1="621.7" x2="404.5" y2="621.7" stroke="#3f82d2" stroke-width="1.3"/>
<line x1="394" y1="645.3" x2="404.5" y2="645.3" stroke="#3f82d2" stroke-width="1.3"/>
<line x1="182.2" y1="455.3" x2="402.6" y2="464.7" stroke="#3f82d2" stroke-width="1.6"/>
<line x1="190" y1="464.7" x2="395.9" y2="472.2" stroke="#3f82d2" stroke-width="1.6"/>
<line x1="182.2" y1="455.3" x2="184" y2="464.7" stroke="#3f82d2" stroke-width="1.2"/>
<line x1="395.9" y1="472.2" x2="402.6" y2="472.2" stroke="#3f82d2" stroke-width="1.2"/>
<line x1="402.6" y1="464.7" x2="402.6" y2="472.2" stroke="#3f82d2" stroke-width="1.3"/>
<circle cx="191.4" cy="464.7" r="10.1" fill="none" stroke="#111111" stroke-width="0.9"/>
<circle cx="398.2" cy="473.2" r="17.5" fill="none" stroke="#111111" stroke-width="0.9"/>
<line x1="209.2" y1="431" x2="229.5" y2="431" stroke="#555555" stroke-width="0.9"/>
<line x1="209.2" y1="431" x2="197.4" y2="456.3" stroke="#111111" stroke-width="0.9"/>
<text transform="translate(219,427) skewX(-15) scale(0.75,1)" font-size="13" text-anchor="start" fill="#111111">2</text>
<line x1="421.9" y1="422.6" x2="435.4" y2="422.6" stroke="#555555" stroke-width="0.9"/>
<line x1="421.9" y1="422.6" x2="401.6" y2="463" stroke="#111111" stroke-width="0.9"/>
<text transform="translate(427,419.2) skewX(-15) scale(0.75,1)" font-size="13" text-anchor="start" fill="#111111">1</text>
<line x1="168.7" y1="447.8" x2="176.2" y2="455.3" stroke="#3f82d2" stroke-width="1.3"/>
<line x1="176.2" y1="455.3" x2="183.7" y2="447.8" stroke="#3f82d2" stroke-width="1.3"/>
<line x1="176.2" y1="455.3" x2="176.2" y2="438.4" stroke="#555555" stroke-width="0.9"/>
<line x1="176.2" y1="438.4" x2="149.2" y2="438.4" stroke="#555555" stroke-width="0.9"/>
<line x1="172" y1="455.3" x2="184" y2="455.3" stroke="#888" stroke-width="1.0"/>
<text transform="translate(152.5,435.4) skewX(-15) scale(0.68,1)" font-size="9.5" text-anchor="start" fill="#111111">+5,868</text>
<line x1="266.6" y1="445.2" x2="280.6" y2="451.5" stroke="#111111" stroke-width="0.9"/>
<line x1="266.6" y1="451.5" x2="282" y2="451.5" stroke="#111111" stroke-width="0.9"/>
<text transform="translate(283.5,453) skewX(-15) scale(0.62,1)" font-size="12.5" text-anchor="start" fill="#111111" textLength="32.26" lengthAdjust="spacingAndGlyphs">0,08</text>
<circle cx="288.6" cy="462" r="1.7" fill="#111"/>
<line x1="288.6" y1="462" x2="301.4" y2="487.7" stroke="#111111" stroke-width="0.9"/>
<line x1="301.4" y1="487.7" x2="321.6" y2="487.7" stroke="#555555" stroke-width="0.9"/>
<text transform="translate(307,484.7) skewX(-15) scale(0.68,1)" font-size="9.5" text-anchor="start" fill="#111111">Б6</text>
<line x1="185.5" y1="473.9" x2="193" y2="466.4" stroke="#3f82d2" stroke-width="1.3"/>
<line x1="193" y1="466.4" x2="200.5" y2="473.9" stroke="#3f82d2" stroke-width="1.3"/>
<line x1="193" y1="466.4" x2="193" y2="481.6" stroke="#555555" stroke-width="0.9"/>
<line x1="193" y1="481.6" x2="226.8" y2="481.6" stroke="#555555" stroke-width="0.9"/>
<text transform="translate(204,478.6) skewX(-15) scale(0.68,1)" font-size="9.5" text-anchor="start" fill="#111111">+5,610</text>
<line x1="392.4" y1="455.5" x2="399.9" y2="463" stroke="#3f82d2" stroke-width="1.3"/>
<line x1="399.9" y1="463" x2="407.4" y2="455.5" stroke="#3f82d2" stroke-width="1.3"/>
<line x1="399.9" y1="463" x2="399.9" y2="446.2" stroke="#555555" stroke-width="0.9"/>
<line x1="399.9" y1="446.2" x2="374.6" y2="446.2" stroke="#555555" stroke-width="0.9"/>
<text transform="translate(377.3,443.2) skewX(-15) scale(0.68,1)" font-size="9.5" text-anchor="start" fill="#111111">+5,621</text>
<line x1="412.7" y1="464.7" x2="420.2" y2="472.2" stroke="#3f82d2" stroke-width="1.3"/>
<line x1="420.2" y1="472.2" x2="427.7" y2="464.7" stroke="#3f82d2" stroke-width="1.3"/>
<line x1="420.2" y1="472.2" x2="420.2" y2="455.3" stroke="#555555" stroke-width="0.9"/>
<line x1="420.2" y1="455.3" x2="447.2" y2="455.3" stroke="#555555" stroke-width="0.9"/>
<line x1="403" y1="472.2" x2="425" y2="472.2" stroke="#888" stroke-width="1.0"/>
<text transform="translate(423.5,452.3) skewX(-15) scale(0.68,1)" font-size="9.5" text-anchor="start" fill="#111111">+5,360</text>
<circle cx="186.6" cy="541.4" r="1.7" fill="#111"/>
<line x1="186.6" y1="541.4" x2="205.9" y2="555.2" stroke="#111111" stroke-width="0.9"/>
<line x1="205.9" y1="555.2" x2="227.8" y2="555.2" stroke="#555555" stroke-width="0.9"/>
<text transform="translate(210,552.2) skewX(-15) scale(0.68,1)" font-size="9.5" text-anchor="start" fill="#111111">К10</text>
<circle cx="399.9" cy="532.9" r="1.7" fill="#111"/>
<line x1="399.9" y1="532.9" x2="418.5" y2="546.4" stroke="#111111" stroke-width="0.9"/>
<line x1="418.5" y1="546.4" x2="436" y2="546.4" stroke="#555555" stroke-width="0.9"/>
<text transform="translate(425,543.4) skewX(-15) scale(0.68,1)" font-size="9.5" text-anchor="start" fill="#111111">К1</text>
<line x1="379.9" y1="609.1" x2="387.4" y2="616.6" stroke="#3f82d2" stroke-width="1.3"/>
<line x1="387.4" y1="616.6" x2="394.9" y2="609.1" stroke="#3f82d2" stroke-width="1.3"/>
<line x1="387.4" y1="616.6" x2="387.4" y2="599" stroke="#555555" stroke-width="0.9"/>
<line x1="387.4" y1="599" x2="361.8" y2="599" stroke="#555555" stroke-width="0.9"/>
<line x1="381.5" y1="616.6" x2="403" y2="616.6" stroke="#888" stroke-width="1.0"/>
<text transform="translate(364.5,596) skewX(-15) scale(0.68,1)" font-size="9.5" text-anchor="start" fill="#111111">+1,100</text>
<line x1="409.3" y1="614.2" x2="416.8" y2="621.7" stroke="#3f82d2" stroke-width="1.3"/>
<line x1="416.8" y1="621.7" x2="424.3" y2="614.2" stroke="#3f82d2" stroke-width="1.3"/>
<line x1="416.8" y1="621.7" x2="416.8" y2="604.8" stroke="#555555" stroke-width="0.9"/>
<line x1="416.8" y1="604.8" x2="443.8" y2="604.8" stroke="#555555" stroke-width="0.9"/>
<line x1="396.5" y1="621.7" x2="422" y2="621.7" stroke="#888" stroke-width="1.0"/>
<text transform="translate(420.2,601.8) skewX(-15) scale(0.68,1)" font-size="9.5" text-anchor="start" fill="#111111">+0,934</text>
<line x1="368.8" y1="637.8" x2="376.3" y2="645.3" stroke="#3f82d2" stroke-width="1.3"/>
<line x1="376.3" y1="645.3" x2="383.8" y2="637.8" stroke="#3f82d2" stroke-width="1.3"/>
<line x1="376.3" y1="645.3" x2="376.3" y2="628.4" stroke="#555555" stroke-width="0.9"/>
<line x1="376.3" y1="628.4" x2="348.3" y2="628.4" stroke="#555555" stroke-width="0.9"/>
<line x1="371" y1="645.3" x2="403" y2="645.3" stroke="#888" stroke-width="1.0"/>
<text transform="translate(351,625.4) skewX(-15) scale(0.68,1)" font-size="9.5" text-anchor="start" fill="#111111">+0,222</text>
<line x1="430.2" y1="646.2" x2="437.7" y2="653.7" stroke="#3f82d2" stroke-width="1.3"/>
<line x1="437.7" y1="653.7" x2="445.2" y2="646.2" stroke="#3f82d2" stroke-width="1.3"/>
<line x1="437.7" y1="653.7" x2="437.7" y2="636.9" stroke="#555555" stroke-width="0.9"/>
<line x1="437.7" y1="636.9" x2="462.4" y2="636.9" stroke="#555555" stroke-width="0.9"/>
<line x1="403" y1="653.7" x2="442" y2="653.7" stroke="#888" stroke-width="1.0"/>
<text transform="translate(440.3,633.9) skewX(-15) scale(0.68,1)" font-size="9.5" text-anchor="start" fill="#111111">0,000</text>
<line x1="182.6" y1="666.2" x2="403.9" y2="666.2" stroke="#555555" stroke-width="0.9"/>
<line x1="183.1" y1="669.7" x2="190.1" y2="662.7" stroke="#3f82d2" stroke-width="1.2"/>
<line x1="187.9" y1="669.7" x2="194.9" y2="662.7" stroke="#3f82d2" stroke-width="1.2"/>
<line x1="396.4" y1="669.7" x2="403.4" y2="662.7" stroke="#3f82d2" stroke-width="1.2"/>
<line x1="160.3" y1="666.2" x2="186.6" y2="666.2" stroke="#555555" stroke-width="0.9"/>
<text transform="translate(163.7,662.2) skewX(-15) scale(0.62,1)" font-size="9.5" text-anchor="start" fill="#111111">125</text>
<text transform="translate(293.6,662.2) skewX(-15) scale(0.62,1)" font-size="9.5" text-anchor="middle" fill="#111111">6170</text>
<line x1="182.6" y1="679" x2="403.9" y2="679" stroke="#555555" stroke-width="0.9"/>
<line x1="183.1" y1="682.5" x2="190.1" y2="675.5" stroke="#3f82d2" stroke-width="1.2"/>
<line x1="396.4" y1="682.5" x2="403.4" y2="675.5" stroke="#3f82d2" stroke-width="1.2"/>
<text transform="translate(292.9,675.7) skewX(-15) scale(0.62,1)" font-size="9.5" text-anchor="middle" fill="#111111">6295</text>
<rect x="1064" y="3.4" width="532.6" height="752.4" fill="none" stroke="#b0b0b0" stroke-width="1.6"/>
<rect x="1114.5" y="16" width="469.5" height="727.2" fill="none" stroke="#3f82d2" stroke-width="1.6"/>
<line x1="1084.08" y1="527.73" x2="1084.08" y2="743.2" stroke="#3f82d2" stroke-width="1.4"/>
<line x1="1096.76" y1="527.73" x2="1096.76" y2="743.2" stroke="#3f82d2" stroke-width="1.4"/>
<line x1="1084.08" y1="743.2" x2="1114.5" y2="743.2" stroke="#3f82d2" stroke-width="1.4"/>
<line x1="1084.08" y1="679.83" x2="1114.5" y2="679.83" stroke="#3f82d2" stroke-width="1.4"/>
<line x1="1084.08" y1="591.1" x2="1114.5" y2="591.1" stroke="#3f82d2" stroke-width="1.4"/>
<line x1="1084.08" y1="527.73" x2="1114.5" y2="527.73" stroke="#3f82d2" stroke-width="1.4"/>
<text transform="translate(1095.26,740.2) rotate(-90) skewX(-15) scale(0.72,1)" font-size="11" text-anchor="start" fill="#111111" textLength="79.17" lengthAdjust="spacingAndGlyphs">Инв. № подл.</text>
<text transform="translate(1095.26,664.83) rotate(-90) skewX(-15) scale(0.72,1)" font-size="11" text-anchor="start" fill="#111111" textLength="79.17" lengthAdjust="spacingAndGlyphs">Подп. и дата</text>
<text transform="translate(1095.26,589.1) rotate(-90) skewX(-15) scale(0.72,1)" font-size="11" text-anchor="start" fill="#111111" textLength="80.56" lengthAdjust="spacingAndGlyphs">Взам. инв. №</text>
<line x1="1076.47" y1="362.95" x2="1076.47" y2="527.73" stroke="#3f82d2" stroke-width="1.4"/>
<line x1="1089.15" y1="362.95" x2="1089.15" y2="527.73" stroke="#3f82d2" stroke-width="1.4"/>
<line x1="1101.83" y1="362.95" x2="1101.83" y2="527.73" stroke="#555" stroke-width="1.0"/>
<line x1="1076.47" y1="362.95" x2="1114.5" y2="362.95" stroke="#3f82d2" stroke-width="1.4"/>
<line x1="1076.47" y1="527.73" x2="1114.5" y2="527.73" stroke="#3f82d2" stroke-width="1.4"/>
<line x1="1089.15" y1="477.03" x2="1114.5" y2="477.03" stroke="#3f82d2" stroke-width="1.4"/>
<line x1="1089.15" y1="426.33" x2="1114.5" y2="426.33" stroke="#3f82d2" stroke-width="1.4"/>
<line x1="1089.15" y1="388.3" x2="1114.5" y2="388.3" stroke="#3f82d2" stroke-width="1.4"/>
<text transform="translate(1087.65,524.73) rotate(-90) skewX(-15) scale(0.72,1)" font-size="11" text-anchor="start" fill="#111111" textLength="76.39" lengthAdjust="spacingAndGlyphs">Согласовано</text>
<line x1="1114.5" y1="616.67" x2="1279.28" y2="616.67" stroke="#607080" stroke-width="0.9"/>
<line x1="1114.5" y1="629.35" x2="1279.28" y2="629.35" stroke="#607080" stroke-width="0.9"/>
<line x1="1114.5" y1="642.02" x2="1279.28" y2="642.02" stroke="#607080" stroke-width="0.9"/>
<line x1="1114.5" y1="654.7" x2="1279.28" y2="654.7" stroke="#3f82d2" stroke-width="1.1"/>
<line x1="1114.5" y1="667.38" x2="1279.28" y2="667.38" stroke="#3f82d2" stroke-width="1.6"/>
<line x1="1114.5" y1="680.05" x2="1279.28" y2="680.05" stroke="#607080" stroke-width="0.9"/>
<line x1="1114.5" y1="692.73" x2="1279.28" y2="692.73" stroke="#607080" stroke-width="0.9"/>
<line x1="1114.5" y1="705.4" x2="1279.28" y2="705.4" stroke="#607080" stroke-width="0.9"/>
<line x1="1114.5" y1="718.08" x2="1279.28" y2="718.08" stroke="#607080" stroke-width="0.9"/>
<line x1="1114.5" y1="730.75" x2="1279.28" y2="730.75" stroke="#607080" stroke-width="0.9"/>
<line x1="1139.85" y1="604" x2="1139.85" y2="667.38" stroke="#3f82d2" stroke-width="1.2"/>
<line x1="1165.2" y1="604" x2="1165.2" y2="667.38" stroke="#3f82d2" stroke-width="1.2"/>
<line x1="1190.55" y1="604" x2="1190.55" y2="667.38" stroke="#3f82d2" stroke-width="1.2"/>
<line x1="1215.9" y1="604" x2="1215.9" y2="667.38" stroke="#3f82d2" stroke-width="1.2"/>
<line x1="1253.92" y1="604" x2="1253.92" y2="667.38" stroke="#3f82d2" stroke-width="1.2"/>
<line x1="1165.2" y1="667.38" x2="1165.2" y2="743.42" stroke="#3f82d2" stroke-width="1.2"/>
<line x1="1215.9" y1="667.38" x2="1215.9" y2="743.42" stroke="#3f82d2" stroke-width="1.2"/>
<line x1="1253.92" y1="667.38" x2="1253.92" y2="743.42" stroke="#3f82d2" stroke-width="1.2"/>
<line x1="1114.5" y1="604" x2="1114.5" y2="743.42" stroke="#3f82d2" stroke-width="1.6"/>
<line x1="1279.28" y1="604" x2="1279.28" y2="743.42" stroke="#3f82d2" stroke-width="1.6"/>
<line x1="1114.5" y1="604" x2="1583.47" y2="604" stroke="#3f82d2" stroke-width="1.6"/>
<line x1="1279.28" y1="629.35" x2="1583.47" y2="629.35" stroke="#3f82d2" stroke-width="1.5"/>
<line x1="1279.28" y1="667.38" x2="1583.47" y2="667.38" stroke="#3f82d2" stroke-width="1.5"/>
<line x1="1279.28" y1="705.4" x2="1583.47" y2="705.4" stroke="#3f82d2" stroke-width="1.5"/>
<line x1="1456.72" y1="680.05" x2="1583.47" y2="680.05" stroke="#3f82d2" stroke-width="1.4"/>
<line x1="1456.72" y1="667.38" x2="1456.72" y2="743.42" stroke="#3f82d2" stroke-width="1.5"/>
<line x1="1494.75" y1="667.38" x2="1494.75" y2="705.4" stroke="#3f82d2" stroke-width="1.4"/>
<line x1="1532.78" y1="667.38" x2="1532.78" y2="705.4" stroke="#3f82d2" stroke-width="1.4"/>
<text transform="translate(1127.67,665.35) skewX(-15) scale(0.62,1)" font-size="12" text-anchor="middle" fill="#111111" textLength="27.42" lengthAdjust="spacingAndGlyphs">Изм.</text>
<text transform="translate(1153.03,665.35) skewX(-15) scale(0.62,1)" font-size="12" text-anchor="middle" fill="#111111" textLength="35.48" lengthAdjust="spacingAndGlyphs">Кол.уч</text>
<text transform="translate(1178.38,665.35) skewX(-15) scale(0.62,1)" font-size="12" text-anchor="middle" fill="#111111" textLength="30.65" lengthAdjust="spacingAndGlyphs">Лист</text>
<text transform="translate(1203.72,665.35) skewX(-15) scale(0.62,1)" font-size="12" text-anchor="middle" fill="#111111" textLength="35.48" lengthAdjust="spacingAndGlyphs">№док.</text>
<text transform="translate(1235.41,665.35) skewX(-15) scale(0.62,1)" font-size="12" text-anchor="middle" fill="#111111" textLength="33.87" lengthAdjust="spacingAndGlyphs">Подп.</text>
<text transform="translate(1267.1,665.35) skewX(-15) scale(0.62,1)" font-size="12" text-anchor="middle" fill="#111111" textLength="32.26" lengthAdjust="spacingAndGlyphs">Дата</text>
<text transform="translate(1431.38,625.8) skewX(-12) scale(0.7,1)" font-size="25" text-anchor="middle" fill="#000" stroke="#fff" stroke-width="0.55" textLength="177.14" lengthAdjust="spacing">07–24–СК–КМ</text>
<text transform="translate(1282.28,656.73) skewX(-13) scale(0.56,1)" font-size="21" text-anchor="start" fill="#000" stroke="#fff" stroke-width="0.46" textLength="528.57" lengthAdjust="spacing">Навес пристрой к зданию склада г. Чебоксары</text>
<text transform="translate(1282.28,696.02) skewX(-13) scale(0.58,1)" font-size="21" text-anchor="start" fill="#000" stroke="#fff" stroke-width="0.46" textLength="293.1" lengthAdjust="spacingAndGlyphs">Каркас промышленного здания</text>
<text transform="translate(1477.74,678.02) skewX(-15) scale(0.65,1)" font-size="10.5" text-anchor="middle" fill="#111111" textLength="47.69" lengthAdjust="spacingAndGlyphs">Стадия</text>
<text transform="translate(1515.76,678.02) skewX(-15) scale(0.65,1)" font-size="10.5" text-anchor="middle" fill="#111111" textLength="30.77" lengthAdjust="spacingAndGlyphs">Лист</text>
<text transform="translate(1560.12,678.02) skewX(-15) scale(0.65,1)" font-size="10.5" text-anchor="middle" fill="#111111" textLength="46.15" lengthAdjust="spacingAndGlyphs">Листов</text>
<text transform="translate(1476.74,697.29) skewX(-15) scale(0.75,1)" font-size="18" text-anchor="middle" fill="#000" stroke="#fff" stroke-width="0.4">П</text>
<text transform="translate(1514.76,697.29) skewX(-15) scale(0.75,1)" font-size="18" text-anchor="middle" fill="#000" stroke="#fff" stroke-width="0.4">6</text>
<text transform="translate(1484.61,753.22) skewX(-15) scale(0.68,1)" font-size="11" text-anchor="start" fill="#111111" textLength="52.94" lengthAdjust="spacingAndGlyphs">Формат</text>
<text transform="translate(1535.31,753.22) skewX(-15) scale(0.75,1)" font-size="11" text-anchor="start" fill="#111111" textLength="14.67" lengthAdjust="spacingAndGlyphs">А4</text>
<text transform="translate(1367.7,732) skewX(-15) scale(0.7,1)" font-size="20" text-anchor="middle" fill="#000" stroke="#fff" stroke-width="0.44" textLength="57.14" lengthAdjust="spacing">Узлы</text>
<circle cx="1324.4" cy="48" r="18" fill="#fff" stroke="#3a3a3a" stroke-width="0.95"/>
<text transform="translate(1324.7,53.95) skewX(-15) scale(0.644,1)" font-size="15.81" text-anchor="middle" fill="#000" stroke="#fff" stroke-width="0.35">1</text>
<line x1="1281.3" y1="57" x2="1281.3" y2="236.6" stroke="#ebc68e" stroke-width="1.0" stroke-dasharray="6 3"/>
<line x1="1190.5" y1="97" x2="1296.6" y2="100.9" stroke="#3f82d2" stroke-width="1.8"/>
<line x1="1190.5" y1="138.1" x2="1295.5" y2="142.1" stroke="#3f82d2" stroke-width="1.8"/>
<line x1="1296.3" y1="100.9" x2="1295.5" y2="142.1" stroke="#3f82d2" stroke-width="1.5"/>
<line x1="1190.5" y1="84.5" x2="1190.5" y2="106" stroke="#111111" stroke-width="0.9"/>
<polyline points="1190.5,106 1202.5,110 1178.5,118 1190.5,124" fill="none" stroke="#111111" stroke-width="0.9"/>
<line x1="1190.5" y1="124" x2="1190.5" y2="145.8" stroke="#111111" stroke-width="0.9"/>
<line x1="1267.5" y1="143.6" x2="1267.5" y2="231.1" stroke="#3f82d2" stroke-width="1.5"/>
<line x1="1294.8" y1="143.6" x2="1294.8" y2="231.1" stroke="#3f82d2" stroke-width="1.5"/>
<rect x="1267.5" y="142.5" width="27.5" height="3" fill="#9aa0a8"/>
<line x1="1250.6" y1="140" x2="1267.5" y2="140" stroke="#3f82d2" stroke-width="1.2"/>
<line x1="1260.5" y1="231.1" x2="1278" y2="231.1" stroke="#111111" stroke-width="0.9"/>
<polyline points="1278,231.1 1281,227.1 1283.5,236.1 1286,231.1" fill="none" stroke="#111111" stroke-width="0.9"/>
<line x1="1286" y1="231.1" x2="1302" y2="231.1" stroke="#111111" stroke-width="0.9"/>
<rect x="1256.8" y="137.1" width="3.8" height="4.8" fill="#333"/>
<line x1="1250.6" y1="142" x2="1250.6" y2="165.5" stroke="#555555" stroke-width="0.8"/>
<line x1="1267.5" y1="145" x2="1267.5" y2="165.5" stroke="#555555" stroke-width="0.8"/>
<line x1="1247" y1="162.2" x2="1271" y2="162.2" stroke="#555555" stroke-width="0.8"/>
<line x1="1248.1" y1="164.7" x2="1253.1" y2="159.7" stroke="#3f82d2" stroke-width="1.2"/>
<line x1="1265" y1="164.7" x2="1270" y2="159.7" stroke="#3f82d2" stroke-width="1.2"/>
<text transform="translate(1253,158.5) skewX(-15) scale(0.62,1)" font-size="9" text-anchor="start" fill="#111111">100</text>
<circle cx="1237.1" cy="115.6" r="1.6" fill="#111"/>
<text transform="translate(1173,68.1) skewX(-15) scale(0.68,1)" font-size="9.5" text-anchor="start" fill="#111111" textLength="67.65" lengthAdjust="spacingAndGlyphs">Двутавр 25Б1</text>
<line x1="1167.5" y1="71" x2="1224.4" y2="71" stroke="#555555" stroke-width="0.9"/>
<line x1="1224.4" y1="71" x2="1237.1" y2="115.6" stroke="#111111" stroke-width="0.8"/>
<text transform="translate(1296.6,84.5) skewX(-15) scale(0.68,1)" font-size="9.5" text-anchor="start" fill="#111111" textLength="64.71" lengthAdjust="spacingAndGlyphs">Болт М20х50</text>
<line x1="1291.1" y1="87.8" x2="1346.9" y2="87.8" stroke="#555555" stroke-width="0.9"/>
<line x1="1291.1" y1="87.8" x2="1258.7" y2="138.1" stroke="#111111" stroke-width="0.8"/>
<circle cx="1285.6" cy="143.6" r="1.4" fill="#111"/>
<text transform="translate(1310.8,173.1) skewX(-15) scale(0.68,1)" font-size="9.5" text-anchor="start" fill="#111111" textLength="50" lengthAdjust="spacingAndGlyphs">Лист 10мм</text>
<line x1="1305.3" y1="177.1" x2="1351.3" y2="177.1" stroke="#555555" stroke-width="0.9"/>
<line x1="1305.3" y1="177.1" x2="1285.6" y2="143.6" stroke="#111111" stroke-width="0.8"/>
<line x1="1364" y1="97.7" x2="1364" y2="231.1" stroke="#3f82d2" stroke-width="1.5"/>
<line x1="1390.6" y1="139.2" x2="1390.6" y2="231.1" stroke="#3f82d2" stroke-width="1.5"/>
<line x1="1373.6" y1="97.7" x2="1373.6" y2="139.2" stroke="#3f82d2" stroke-width="1.8"/>
<line x1="1384.5" y1="97.7" x2="1384.5" y2="139.2" stroke="#3f82d2" stroke-width="1.3"/>
<line x1="1388" y1="97.7" x2="1388" y2="139.2" stroke="#3f82d2" stroke-width="1.3"/>
<line x1="1364" y1="97.7" x2="1469.4" y2="97.7" stroke="#3f82d2" stroke-width="1.8"/>
<line x1="1364" y1="139.2" x2="1457.4" y2="139.2" stroke="#3f82d2" stroke-width="1.8"/>
<rect x="1364" y="140" width="43.7" height="2.5" fill="#9aa0a8"/>
<line x1="1377.5" y1="139.2" x2="1377.5" y2="236.6" stroke="#ebc68e" stroke-width="1.0" stroke-dasharray="6 3"/>
<line x1="1356.7" y1="231.1" x2="1374.5" y2="231.1" stroke="#111111" stroke-width="0.9"/>
<polyline points="1374.5,231.1 1377.5,227.1 1380,236.1 1382.5,231.1" fill="none" stroke="#111111" stroke-width="0.9"/>
<line x1="1382.5" y1="231.1" x2="1398.3" y2="231.1" stroke="#111111" stroke-width="0.9"/>
<line x1="1457.4" y1="63.8" x2="1457.4" y2="93" stroke="#111111" stroke-width="0.9"/>
<polyline points="1457.4,93 1469.4,98.5 1445,108 1457.4,113" fill="none" stroke="#111111" stroke-width="0.9"/>
<line x1="1457.4" y1="113" x2="1457.4" y2="146.9" stroke="#111111" stroke-width="0.9"/>
<rect x="1365.8" y="134.1" width="3.8" height="4.8" fill="#333"/>
<rect x="1377.8" y="134.1" width="3.8" height="4.8" fill="#333"/>
<rect x="1394.2" y="134.1" width="3.8" height="4.8" fill="#333"/>
<line x1="1390.6" y1="142" x2="1390.6" y2="165.5" stroke="#555555" stroke-width="0.8"/>
<line x1="1407.7" y1="142" x2="1407.7" y2="165.5" stroke="#555555" stroke-width="0.8"/>
<line x1="1387" y1="161.1" x2="1411" y2="161.1" stroke="#555555" stroke-width="0.8"/>
<line x1="1388.1" y1="163.6" x2="1393.1" y2="158.6" stroke="#3f82d2" stroke-width="1.2"/>
<line x1="1405.2" y1="163.6" x2="1410.2" y2="158.6" stroke="#3f82d2" stroke-width="1.2"/>
<text transform="translate(1393,157.5) skewX(-15) scale(0.62,1)" font-size="9" text-anchor="start" fill="#111111">100</text>
<circle cx="1374.2" cy="97.7" r="1.5" fill="#111"/>
<circle cx="1433.3" cy="110.1" r="1.5" fill="#111"/>
<text transform="translate(1369.9,62) skewX(-15) scale(0.68,1)" font-size="9.5" text-anchor="start" fill="#111111" textLength="66.18" lengthAdjust="spacingAndGlyphs">Двутавр 25Б1</text>
<line x1="1364" y1="66" x2="1420.2" y2="66" stroke="#555555" stroke-width="0.9"/>
<line x1="1420.2" y1="66" x2="1374.2" y2="97.7" stroke="#111111" stroke-width="0.8"/>
<line x1="1420.2" y1="66" x2="1433.3" y2="110.1" stroke="#111111" stroke-width="0.8"/>
<circle cx="1387.4" cy="111.9" r="1.4" fill="#111"/>
<circle cx="1385.8" cy="125" r="1.4" fill="#111"/>
<text transform="translate(1403.8,119.5) skewX(-15) scale(0.68,1)" font-size="9.5" text-anchor="start" fill="#111111" textLength="50" lengthAdjust="spacingAndGlyphs">Лист 10мм</text>
<line x1="1397.2" y1="122.4" x2="1444.2" y2="122.4" stroke="#555555" stroke-width="0.9"/>
<line x1="1397.2" y1="122.4" x2="1387.4" y2="111.9" stroke="#111111" stroke-width="0.8"/>
<line x1="1397.2" y1="122.4" x2="1385.8" y2="125" stroke="#111111" stroke-width="0.8"/>
<text transform="translate(1404.9,175.3) skewX(-15) scale(0.68,1)" font-size="9.5" text-anchor="start" fill="#111111" textLength="64.71" lengthAdjust="spacingAndGlyphs">Болт М20х50</text>
<line x1="1399.4" y1="183" x2="1454.1" y2="183" stroke="#555555" stroke-width="0.9"/>
<line x1="1399.4" y1="183" x2="1367.7" y2="139" stroke="#111111" stroke-width="0.8"/>
<line x1="1399.4" y1="183" x2="1371" y2="139" stroke="#111111" stroke-width="0.8"/>
<line x1="1399.4" y1="183" x2="1379.7" y2="139" stroke="#111111" stroke-width="0.8"/>
<line x1="1399.4" y1="183" x2="1396.1" y2="139" stroke="#111111" stroke-width="0.8"/>
<circle cx="1222.1" cy="273.5" r="18.1" fill="#fff" stroke="#3a3a3a" stroke-width="0.95"/>
<text transform="translate(1222.4,279.45) skewX(-15) scale(0.644,1)" font-size="15.81" text-anchor="middle" fill="#000" stroke="#fff" stroke-width="0.35">2</text>
<line x1="1202.25" y1="315" x2="1202.25" y2="415.6" stroke="#ebc68e" stroke-width="1.0" stroke-dasharray="40 0"/>
<line x1="1204.4" y1="323.75" x2="1255.6" y2="325.6" stroke="#3f82d2" stroke-width="1.8"/>
<line x1="1203.1" y1="364.4" x2="1255.6" y2="366.5" stroke="#3f82d2" stroke-width="1.8"/>
<line x1="1204.4" y1="323.75" x2="1204.4" y2="364.4" stroke="#3f82d2" stroke-width="1.6"/>
<line x1="1256.5" y1="316.9" x2="1256.5" y2="340" stroke="#111111" stroke-width="0.9"/>
<polyline points="1256.5,340 1263,343 1249.4,348.75 1256.5,352" fill="none" stroke="#111111" stroke-width="0.9"/>
<line x1="1256.5" y1="352" x2="1256.5" y2="374.4" stroke="#111111" stroke-width="0.9"/>
<line x1="1203.8" y1="364.4" x2="1203.8" y2="388.75" stroke="#3f82d2" stroke-width="2.6"/>
<line x1="1203" y1="366" x2="1218" y2="366" stroke="#3f82d2" stroke-width="1.3"/>
<rect x="1208.7" y="359.1" width="3.8" height="4.8" fill="#333"/>
<rect x="1203.7" y="375.7" width="3.8" height="4.8" fill="#333"/>
<circle cx="1204.1" cy="385" r="1.6" fill="#111"/>
<circle cx="1230" cy="333.5" r="1.6" fill="#111"/>
<text transform="translate(1254.4,294.4) skewX(-15) scale(0.68,1)" font-size="9.5" text-anchor="start" fill="#111111" textLength="64.71" lengthAdjust="spacingAndGlyphs">Двутавр 25Б1</text>
<line x1="1248.75" y1="297.5" x2="1305" y2="297.5" stroke="#555555" stroke-width="0.9"/>
<line x1="1248.75" y1="297.5" x2="1230" y2="333.5" stroke="#111111" stroke-width="0.8"/>
<text transform="translate(1146.25,345.6) skewX(-15) scale(0.68,1)" font-size="9.5" text-anchor="start" fill="#111111" textLength="64.71" lengthAdjust="spacingAndGlyphs">Болт М20х50</text>
<line x1="1141.25" y1="348.75" x2="1195" y2="348.75" stroke="#555555" stroke-width="0.9"/>
<line x1="1195" y1="348.75" x2="1210.6" y2="361.25" stroke="#111111" stroke-width="0.8"/>
<text transform="translate(1235.6,388.75) skewX(-15) scale(0.68,1)" font-size="9.5" text-anchor="start" fill="#111111" textLength="94.12" lengthAdjust="spacingAndGlyphs">Анкерный болт М20</text>
<line x1="1229.4" y1="392.25" x2="1305.6" y2="392.25" stroke="#555555" stroke-width="0.9"/>
<line x1="1229.4" y1="392.25" x2="1206.25" y2="378.1" stroke="#111111" stroke-width="0.8"/>
<text transform="translate(1227.5,412.5) skewX(-15) scale(0.68,1)" font-size="9.5" text-anchor="start" fill="#111111" textLength="60.29" lengthAdjust="spacingAndGlyphs">Уголок 14/9</text>
<line x1="1220.6" y1="415.6" x2="1273.75" y2="415.6" stroke="#555555" stroke-width="0.9"/>
<line x1="1220.6" y1="415.6" x2="1204.1" y2="385" stroke="#111111" stroke-width="0.8"/>
<circle cx="1414.3" cy="272.5" r="17.8" fill="#fff" stroke="#3a3a3a" stroke-width="0.95"/>
<text transform="translate(1414.6,278.45) skewX(-15) scale(0.644,1)" font-size="15.81" text-anchor="middle" fill="#000" stroke="#fff" stroke-width="0.35">3</text>
<line x1="1356" y1="320.3" x2="1356" y2="412.2" stroke="#3f82d2" stroke-width="1.7"/>
<line x1="1371.6" y1="320.3" x2="1371.6" y2="412.2" stroke="#3f82d2" stroke-width="1.7"/>
<line x1="1363.5" y1="320.3" x2="1363.5" y2="412.2" stroke="#ebc68e" stroke-width="1.0" stroke-dasharray="5 3"/>
<line x1="1348.5" y1="320.3" x2="1360.5" y2="320.3" stroke="#111111" stroke-width="0.9"/>
<polyline points="1360.5,320.3 1363.5,316.3 1366,325.3 1368.5,320.3" fill="none" stroke="#111111" stroke-width="0.9"/>
<line x1="1368.5" y1="320.3" x2="1379.1" y2="320.3" stroke="#111111" stroke-width="0.9"/>
<line x1="1348.5" y1="412.2" x2="1360.5" y2="412.2" stroke="#111111" stroke-width="0.9"/>
<polyline points="1360.5,412.2 1363.5,408.2 1366,417.2 1368.5,412.2" fill="none" stroke="#111111" stroke-width="0.9"/>
<line x1="1368.5" y1="412.2" x2="1379.1" y2="412.2" stroke="#111111" stroke-width="0.9"/>
<rect x="1370" y="347.5" width="3.5" height="30" fill="#9aa0a8"/>
<line x1="1373.4" y1="347.5" x2="1373.4" y2="377.5" stroke="#3f82d2" stroke-width="1.6"/>
<line x1="1373.5" y1="356.5" x2="1410" y2="356.5" stroke="#3f82d2" stroke-width="1.5"/>
<line x1="1373.5" y1="369" x2="1410" y2="369" stroke="#3f82d2" stroke-width="1.5"/>
<line x1="1410" y1="352" x2="1410" y2="360" stroke="#111111" stroke-width="0.9"/>
<polyline points="1410,360 1414.6,362 1408,366 1410,369" fill="none" stroke="#111111" stroke-width="0.9"/>
<rect x="1373.6" y="349.1" width="3.4" height="4.4" fill="#333"/>
<rect x="1375.5" y="354.3" width="3.4" height="4.4" fill="#333"/>
<rect x="1370.8" y="365.55" width="3.4" height="4.4" fill="#333"/>
<rect x="1373.6" y="371.55" width="3.4" height="4.4" fill="#333"/>
<circle cx="1363.7" cy="334.75" r="1.5" fill="#111"/>
<circle cx="1505.3" cy="332.5" r="1.3" fill="#111"/>
<circle cx="1400.6" cy="362.5" r="1.5" fill="#111"/>
<text transform="translate(1398.75,310) skewX(-15) scale(0.68,1)" font-size="9.5" text-anchor="start" fill="#111111" textLength="66.18" lengthAdjust="spacingAndGlyphs">Двутавр 25Б1</text>
<line x1="1393.1" y1="313.4" x2="1449.4" y2="313.4" stroke="#555555" stroke-width="0.9"/>
<line x1="1393.1" y1="313.4" x2="1363.7" y2="334.75" stroke="#111111" stroke-width="0.8"/>
<line x1="1393.1" y1="313.4" x2="1505.3" y2="332.5" stroke="#111111" stroke-width="0.8"/>
<text transform="translate(1404.4,337.2) skewX(-15) scale(0.68,1)" font-size="9.5" text-anchor="start" fill="#111111" textLength="45.59" lengthAdjust="spacingAndGlyphs">Лист 5мм</text>
<line x1="1397.8" y1="341" x2="1441" y2="341" stroke="#555555" stroke-width="0.9"/>
<line x1="1397.8" y1="341" x2="1377.2" y2="356.5" stroke="#111111" stroke-width="0.8"/>
<line x1="1397.8" y1="341" x2="1375.3" y2="362" stroke="#111111" stroke-width="0.8"/>
<text transform="translate(1303.1,347.5) skewX(-15) scale(0.68,1)" font-size="9.5" text-anchor="start" fill="#111111" textLength="51.47" lengthAdjust="spacingAndGlyphs">Лист 10мм</text>
<line x1="1297.5" y1="351.25" x2="1343.4" y2="351.25" stroke="#555555" stroke-width="0.9"/>
<line x1="1343.4" y1="351.25" x2="1372.5" y2="367.75" stroke="#111111" stroke-width="0.8"/>
<text transform="translate(1394,414) skewX(-15) scale(0.68,1)" font-size="9.5" text-anchor="start" fill="#111111" textLength="64.71" lengthAdjust="spacingAndGlyphs">Болт М20х50</text>
<line x1="1388.4" y1="417.25" x2="1443.75" y2="417.25" stroke="#555555" stroke-width="0.9"/>
<line x1="1388.4" y1="417.25" x2="1375.3" y2="373.75" stroke="#111111" stroke-width="0.8"/>
<line x1="1388.4" y1="417.25" x2="1380" y2="370" stroke="#111111" stroke-width="0.8"/>
<text transform="translate(1473.75,428.1) skewX(-15) scale(0.68,1)" font-size="9.5" text-anchor="start" fill="#111111" textLength="82.35" lengthAdjust="spacingAndGlyphs">Труба профильная</text>
<text transform="translate(1473.75,439.4) skewX(-15) scale(0.68,1)" font-size="9.5" text-anchor="start" fill="#111111" textLength="45.59" lengthAdjust="spacingAndGlyphs">100х100х5</text>
<line x1="1466.25" y1="431.5" x2="1536.6" y2="431.5" stroke="#555555" stroke-width="0.9"/>
<line x1="1466.25" y1="431.5" x2="1400.6" y2="362.5" stroke="#111111" stroke-width="0.8"/>
<line x1="1466.25" y1="431.5" x2="1490.6" y2="371.9" stroke="#111111" stroke-width="0.8"/>
<line x1="1489.7" y1="320.3" x2="1489.7" y2="412.2" stroke="#3f82d2" stroke-width="2.2"/>
<line x1="1520.6" y1="320.3" x2="1520.6" y2="412.2" stroke="#3f82d2" stroke-width="2.2"/>
<line x1="1482.2" y1="320.3" x2="1500.7" y2="320.3" stroke="#111111" stroke-width="0.9"/>
<polyline points="1500.7,320.3 1503.7,316.3 1506.2,325.3 1508.7,320.3" fill="none" stroke="#111111" stroke-width="0.9"/>
<line x1="1508.7" y1="320.3" x2="1528.1" y2="320.3" stroke="#111111" stroke-width="0.9"/>
<line x1="1482.2" y1="412.2" x2="1500.7" y2="412.2" stroke="#111111" stroke-width="0.9"/>
<polyline points="1500.7,412.2 1503.7,408.2 1506.2,417.2 1508.7,412.2" fill="none" stroke="#111111" stroke-width="0.9"/>
<line x1="1508.7" y1="412.2" x2="1528.1" y2="412.2" stroke="#111111" stroke-width="0.9"/>
<line x1="1460.6" y1="347.5" x2="1521.6" y2="347.5" stroke="#111111" stroke-width="0.9"/>
<line x1="1460.6" y1="378.4" x2="1521.6" y2="378.4" stroke="#111111" stroke-width="0.9"/>
<line x1="1489.7" y1="347.5" x2="1521.6" y2="347.5" stroke="#3f82d2" stroke-width="1.5"/>
<line x1="1489.7" y1="378.4" x2="1521.6" y2="378.4" stroke="#3f82d2" stroke-width="1.5"/>
<rect x="1489.7" y="347.5" width="12.2" height="30.9" fill="none" stroke="#3f82d2" stroke-width="1.4"/>
<line x1="1489.7" y1="356.5" x2="1501.9" y2="356.5" stroke="#3f82d2" stroke-width="1.3"/>
<line x1="1489.7" y1="369" x2="1501.9" y2="369" stroke="#3f82d2" stroke-width="1.3"/>
<line x1="1462" y1="344.3" x2="1523" y2="344.3" stroke="#555555" stroke-width="0.8"/>
<line x1="1487.2" y1="346.8" x2="1492.2" y2="341.8" stroke="#3f82d2" stroke-width="1.2"/>
<line x1="1518.1" y1="346.8" x2="1523.1" y2="341.8" stroke="#3f82d2" stroke-width="1.2"/>
<text transform="translate(1499,341) skewX(-15) scale(0.62,1)" font-size="9" text-anchor="start" fill="#111111">248</text>
<line x1="1464.75" y1="345" x2="1464.75" y2="381" stroke="#555555" stroke-width="0.8"/>
<line x1="1462.25" y1="350" x2="1467.25" y2="345" stroke="#3f82d2" stroke-width="1.2"/>
<line x1="1462.25" y1="380.9" x2="1467.25" y2="375.9" stroke="#3f82d2" stroke-width="1.2"/>
<text transform="translate(1461.5,368) rotate(-90) skewX(-15) scale(0.62,1)" font-size="9" text-anchor="start" fill="#111111">240</text>
<line x1="1476.6" y1="338" x2="1476.6" y2="375" stroke="#555555" stroke-width="0.8"/>
<line x1="1473" y1="351" x2="1490" y2="351" stroke="#555555" stroke-width="0.8"/>
<line x1="1473" y1="373" x2="1490" y2="373" stroke="#555555" stroke-width="0.8"/>
<line x1="1474.1" y1="353.5" x2="1479.1" y2="348.5" stroke="#3f82d2" stroke-width="1.2"/>
<line x1="1474.1" y1="375.5" x2="1479.1" y2="370.5" stroke="#3f82d2" stroke-width="1.2"/>
<text transform="translate(1473.5,366) rotate(-90) skewX(-15) scale(0.62,1)" font-size="9" text-anchor="start" fill="#111111">180</text>
<rect x="1494.1" y="349.7" width="3.6" height="4.6" fill="#333"/>
<rect x="1494.1" y="360.2" width="3.6" height="4.6" fill="#333"/>
<rect x="1494.1" y="371.7" width="3.6" height="4.6" fill="#333"/>
<circle cx="1514.6" cy="353.7" r="1.4" fill="#111"/>
<text transform="translate(1538.4,343.75) skewX(-15) scale(0.68,1)" font-size="9.5" text-anchor="start" fill="#111111" textLength="50" lengthAdjust="spacingAndGlyphs">Лист 10мм</text>
<line x1="1531.9" y1="347.5" x2="1578.75" y2="347.5" stroke="#555555" stroke-width="0.9"/>
<line x1="1531.9" y1="347.5" x2="1520.6" y2="351" stroke="#111111" stroke-width="0.8"/>
<text transform="translate(1531,362.1) skewX(-15) scale(0.68,1)" font-size="9.5" text-anchor="start" fill="#111111" textLength="13.97" lengthAdjust="spacingAndGlyphs">198</text>
<line x1="1525.3" y1="365.3" x2="1545" y2="365.3" stroke="#555555" stroke-width="0.9"/>
<line x1="1525.3" y1="365.3" x2="1514.6" y2="353.7" stroke="#111111" stroke-width="0.8"/>
<text transform="translate(1532.8,399) skewX(-15) scale(0.68,1)" font-size="9.5" text-anchor="start" fill="#111111" textLength="64.71" lengthAdjust="spacingAndGlyphs">Болт М20х50</text>
<line x1="1527.2" y1="403.4" x2="1582.5" y2="403.4" stroke="#555555" stroke-width="0.9"/>
<line x1="1527.2" y1="403.4" x2="1495.9" y2="373.75" stroke="#111111" stroke-width="0.8"/>
<line x1="1527.2" y1="403.4" x2="1501.9" y2="358.75" stroke="#111111" stroke-width="0.8"/>
<circle cx="1330.2" cy="450" r="18" fill="#fff" stroke="#3a3a3a" stroke-width="0.95"/>
<text transform="translate(1330.5,455.95) skewX(-15) scale(0.644,1)" font-size="15.81" text-anchor="middle" fill="#000" stroke="#fff" stroke-width="0.35">4</text>
<line x1="1276.6" y1="478.1" x2="1276.6" y2="593" stroke="#777" stroke-width="0.9"/>
<line x1="1379.1" y1="478.1" x2="1379.1" y2="593" stroke="#777" stroke-width="0.9"/>
<line x1="1261.4" y1="507" x2="1395" y2="507" stroke="#777" stroke-width="0.8"/>
<line x1="1359.1" y1="518.75" x2="1395" y2="518.75" stroke="#777" stroke-width="0.8"/>
<line x1="1262" y1="564.1" x2="1351" y2="564.1" stroke="#777" stroke-width="0.8"/>
<line x1="1271.5" y1="546" x2="1315" y2="546" stroke="#777" stroke-width="0.8"/>
<line x1="1370.8" y1="499" x2="1370.8" y2="549" stroke="#777" stroke-width="0.8"/>
<line x1="1302.5" y1="507" x2="1360" y2="507" stroke="#3f82d2" stroke-width="1.4"/>
<line x1="1359.5" y1="503" x2="1359.5" y2="556" stroke="#3f82d2" stroke-width="1.4"/>
<line x1="1304" y1="563.5" x2="1350" y2="563.5" stroke="#3f82d2" stroke-width="1.4"/>
<line x1="1296" y1="517" x2="1296" y2="556" stroke="#3f82d2" stroke-width="1.4"/>
<line x1="1276.6" y1="485.9" x2="1320" y2="523.4" stroke="#3f82d2" stroke-width="1.5"/>
<line x1="1276.6" y1="499.7" x2="1313.75" y2="530.5" stroke="#3f82d2" stroke-width="1.5"/>
<line x1="1320" y1="523.4" x2="1313.75" y2="530.5" stroke="#3f82d2" stroke-width="1.5"/>
<circle cx="1311.67" cy="522.45" r="1.7" fill="none" stroke="#111111" stroke-width="0.7"/>
<line x1="1379.1" y1="485.9" x2="1335.7" y2="523.4" stroke="#3f82d2" stroke-width="1.5"/>
<line x1="1379.1" y1="499.7" x2="1341.95" y2="530.5" stroke="#3f82d2" stroke-width="1.5"/>
<line x1="1335.7" y1="523.4" x2="1341.95" y2="530.5" stroke="#3f82d2" stroke-width="1.5"/>
<circle cx="1344.03" cy="522.45" r="1.7" fill="none" stroke="#111111" stroke-width="0.7"/>
<line x1="1276.6" y1="586" x2="1320" y2="548.4" stroke="#3f82d2" stroke-width="1.5"/>
<line x1="1276.6" y1="571.9" x2="1313.75" y2="541.4" stroke="#3f82d2" stroke-width="1.5"/>
<line x1="1320" y1="548.4" x2="1313.75" y2="541.4" stroke="#3f82d2" stroke-width="1.5"/>
<circle cx="1311.67" cy="549.41" r="1.7" fill="none" stroke="#111111" stroke-width="0.7"/>
<line x1="1379.1" y1="586" x2="1335.7" y2="548.4" stroke="#3f82d2" stroke-width="1.5"/>
<line x1="1379.1" y1="571.9" x2="1341.95" y2="541.4" stroke="#3f82d2" stroke-width="1.5"/>
<line x1="1335.7" y1="548.4" x2="1341.95" y2="541.4" stroke="#3f82d2" stroke-width="1.5"/>
<circle cx="1344.03" cy="549.41" r="1.7" fill="none" stroke="#111111" stroke-width="0.7"/>
<line x1="1296.6" y1="490.3" x2="1359.8" y2="490.3" stroke="#555555" stroke-width="0.8"/>
<line x1="1294.1" y1="492.8" x2="1299.1" y2="487.8" stroke="#3f82d2" stroke-width="1.2"/>
<line x1="1357.3" y1="492.8" x2="1362.3" y2="487.8" stroke="#3f82d2" stroke-width="1.2"/>
<text transform="translate(1321.6,487.5) skewX(-15) scale(0.62,1)" font-size="9" text-anchor="start" fill="#111111">625</text>
<line x1="1304.4" y1="502.3" x2="1361" y2="502.3" stroke="#555555" stroke-width="0.8"/>
<line x1="1301.9" y1="504.8" x2="1306.9" y2="499.8" stroke="#3f82d2" stroke-width="1.2"/>
<line x1="1326.1" y1="504.8" x2="1331.1" y2="499.8" stroke="#3f82d2" stroke-width="1.2"/>
<line x1="1348" y1="504.8" x2="1353" y2="499.8" stroke="#3f82d2" stroke-width="1.2"/>
<line x1="1357.3" y1="504.8" x2="1362.3" y2="499.8" stroke="#3f82d2" stroke-width="1.2"/>
<text transform="translate(1309.8,499.2) skewX(-15) scale(0.62,1)" font-size="9" text-anchor="start" fill="#111111">280</text>
<text transform="translate(1332.5,499.2) skewX(-15) scale(0.62,1)" font-size="9" text-anchor="start" fill="#111111">220</text>
<text transform="translate(1351.3,499.2) skewX(-15) scale(0.62,1)" font-size="9" text-anchor="start" fill="#111111">91</text>
<line x1="1266.4" y1="507" x2="1266.4" y2="564.1" stroke="#555555" stroke-width="0.8"/>
<line x1="1263.9" y1="509.5" x2="1268.9" y2="504.5" stroke="#3f82d2" stroke-width="1.2"/>
<line x1="1263.9" y1="566.6" x2="1268.9" y2="561.6" stroke="#3f82d2" stroke-width="1.2"/>
<text transform="translate(1262.5,542) rotate(-90) skewX(-15) scale(0.62,1)" font-size="9" text-anchor="start" fill="#111111">561</text>
<text transform="translate(1276,546) rotate(-90) skewX(-15) scale(0.62,1)" font-size="9" text-anchor="start" fill="#111111">&lt;92</text>
<line x1="1271" y1="538" x2="1276" y2="534" stroke="#111111" stroke-width="0.7"/>
<line x1="1294" y1="537.5" x2="1315" y2="537.5" stroke="#555555" stroke-width="0.8"/>
<line x1="1293.3" y1="540" x2="1298.3" y2="535" stroke="#3f82d2" stroke-width="1.2"/>
<line x1="1311.5" y1="540" x2="1316.5" y2="535" stroke="#3f82d2" stroke-width="1.2"/>
<text transform="translate(1300,534) skewX(-15) scale(0.62,1)" font-size="9" text-anchor="start" fill="#111111">173</text>
<line x1="1305.5" y1="541" x2="1305.5" y2="592" stroke="#555555" stroke-width="0.8"/>
<line x1="1313.3" y1="538" x2="1313.3" y2="590" stroke="#555555" stroke-width="0.8"/>
<text transform="translate(1299.5,590) rotate(-90) skewX(-15) scale(0.62,1)" font-size="9" text-anchor="start" fill="#111111">90</text>
<text transform="translate(1311,590) rotate(-90) skewX(-15) scale(0.62,1)" font-size="9" text-anchor="start" fill="#111111">159</text>
<line x1="1390.3" y1="480.5" x2="1390.3" y2="518.75" stroke="#555555" stroke-width="0.8"/>
<line x1="1387.8" y1="509.5" x2="1392.8" y2="504.5" stroke="#3f82d2" stroke-width="1.2"/>
<line x1="1387.8" y1="521.25" x2="1392.8" y2="516.25" stroke="#3f82d2" stroke-width="1.2"/>
<text transform="translate(1386.5,494) rotate(-90) skewX(-15) scale(0.62,1)" font-size="9" text-anchor="start" fill="#111111">105</text>
<circle cx="1303.6" cy="511.7" r="1.5" fill="#111"/>
<circle cx="1304.6" cy="516.5" r="1.5" fill="#111"/>
<circle cx="1341.9" cy="523.4" r="1.5" fill="#111"/>
<circle cx="1331.7" cy="536" r="1.5" fill="#111"/>
<circle cx="1287.2" cy="572.7" r="1.5" fill="#111"/>
<circle cx="1360.6" cy="567.5" r="1.5" fill="#111"/>
<circle cx="1371.25" cy="499.2" r="1.5" fill="#111"/>
<text transform="translate(1238,463.3) skewX(-15) scale(0.68,1)" font-size="9.5" text-anchor="start" fill="#111111" textLength="69.12" lengthAdjust="spacingAndGlyphs">Болт М20х120</text>
<line x1="1232.5" y1="466.4" x2="1290.3" y2="466.4" stroke="#555555" stroke-width="0.9"/>
<line x1="1290.3" y1="466.4" x2="1303.6" y2="511.7" stroke="#111111" stroke-width="0.8"/>
<line x1="1290.3" y1="466.4" x2="1341.9" y2="523.4" stroke="#111111" stroke-width="0.8"/>
<text transform="translate(1421.6,520.6) skewX(-15) scale(0.68,1)" font-size="9.5" text-anchor="start" fill="#111111" textLength="52.94" lengthAdjust="spacingAndGlyphs">Лист 10 мм</text>
<line x1="1418.4" y1="524.2" x2="1464.5" y2="524.2" stroke="#555555" stroke-width="0.9"/>
<line x1="1418.4" y1="524.2" x2="1331.7" y2="536" stroke="#111111" stroke-width="0.8"/>
<polyline points="1373,526 1385,532 1371,539" fill="none" stroke="#111111" stroke-width="0.8"/>
<text transform="translate(1377.8,545.3) skewX(-15) scale(0.68,1)" font-size="9.5" text-anchor="start" fill="#111111" textLength="83.82" lengthAdjust="spacingAndGlyphs">Труба профильная</text>
<text transform="translate(1377.8,556.25) skewX(-15) scale(0.68,1)" font-size="9.5" text-anchor="start" fill="#111111" textLength="45.59" lengthAdjust="spacingAndGlyphs">100х100х5</text>
<line x1="1370.8" y1="549.2" x2="1441.1" y2="549.2" stroke="#555555" stroke-width="0.9"/>
<line x1="1370.8" y1="549.2" x2="1287.2" y2="572.7" stroke="#111111" stroke-width="0.8"/>
<line x1="1370.8" y1="549.2" x2="1360.6" y2="567.5" stroke="#111111" stroke-width="0.8"/>
<line x1="1370.8" y1="549.2" x2="1303" y2="516" stroke="#111111" stroke-width="0.8"/>
<rect x="4.6" y="755.4" width="1057.4" height="749.6" fill="none" stroke="#b0b0b0" stroke-width="1.6"/>
<rect x="55.7" y="765.5" width="1001.2" height="726.7" fill="none" stroke="#3f82d2" stroke-width="1.6"/>
<line x1="25.28" y1="1276.72" x2="25.28" y2="1492.2" stroke="#3f82d2" stroke-width="1.4"/>
<line x1="37.95" y1="1276.72" x2="37.95" y2="1492.2" stroke="#3f82d2" stroke-width="1.4"/>
<line x1="25.28" y1="1492.2" x2="55.7" y2="1492.2" stroke="#3f82d2" stroke-width="1.4"/>
<line x1="25.28" y1="1428.83" x2="55.7" y2="1428.83" stroke="#3f82d2" stroke-width="1.4"/>
<line x1="25.28" y1="1340.1" x2="55.7" y2="1340.1" stroke="#3f82d2" stroke-width="1.4"/>
<line x1="25.28" y1="1276.72" x2="55.7" y2="1276.72" stroke="#3f82d2" stroke-width="1.4"/>
<text transform="translate(36.45,1489.2) rotate(-90) skewX(-15) scale(0.72,1)" font-size="11" text-anchor="start" fill="#111111" textLength="79.17" lengthAdjust="spacingAndGlyphs">Инв. № подл.</text>
<text transform="translate(36.45,1413.83) rotate(-90) skewX(-15) scale(0.72,1)" font-size="11" text-anchor="start" fill="#111111" textLength="79.17" lengthAdjust="spacingAndGlyphs">Подп. и дата</text>
<text transform="translate(36.45,1338.1) rotate(-90) skewX(-15) scale(0.72,1)" font-size="11" text-anchor="start" fill="#111111" textLength="80.56" lengthAdjust="spacingAndGlyphs">Взам. инв. №</text>
<line x1="17.67" y1="1111.95" x2="17.67" y2="1276.72" stroke="#3f82d2" stroke-width="1.4"/>
<line x1="30.35" y1="1111.95" x2="30.35" y2="1276.72" stroke="#3f82d2" stroke-width="1.4"/>
<line x1="43.03" y1="1111.95" x2="43.03" y2="1276.72" stroke="#555" stroke-width="1.0"/>
<line x1="17.67" y1="1111.95" x2="55.7" y2="1111.95" stroke="#3f82d2" stroke-width="1.4"/>
<line x1="17.67" y1="1276.72" x2="55.7" y2="1276.72" stroke="#3f82d2" stroke-width="1.4"/>
<line x1="30.35" y1="1226.03" x2="55.7" y2="1226.03" stroke="#3f82d2" stroke-width="1.4"/>
<line x1="30.35" y1="1175.33" x2="55.7" y2="1175.33" stroke="#3f82d2" stroke-width="1.4"/>
<line x1="30.35" y1="1137.3" x2="55.7" y2="1137.3" stroke="#3f82d2" stroke-width="1.4"/>
<text transform="translate(28.85,1273.72) rotate(-90) skewX(-15) scale(0.72,1)" font-size="11" text-anchor="start" fill="#111111" textLength="76.39" lengthAdjust="spacingAndGlyphs">Согласовано</text>
<line x1="587.9" y1="1365.58" x2="752.67" y2="1365.58" stroke="#607080" stroke-width="0.9"/>
<line x1="587.9" y1="1378.25" x2="752.67" y2="1378.25" stroke="#607080" stroke-width="0.9"/>
<line x1="587.9" y1="1390.93" x2="752.67" y2="1390.93" stroke="#607080" stroke-width="0.9"/>
<line x1="587.9" y1="1403.6" x2="752.67" y2="1403.6" stroke="#3f82d2" stroke-width="1.1"/>
<line x1="587.9" y1="1416.28" x2="752.67" y2="1416.28" stroke="#3f82d2" stroke-width="1.6"/>
<line x1="587.9" y1="1428.95" x2="752.67" y2="1428.95" stroke="#607080" stroke-width="0.9"/>
<line x1="587.9" y1="1441.62" x2="752.67" y2="1441.62" stroke="#607080" stroke-width="0.9"/>
<line x1="587.9" y1="1454.3" x2="752.67" y2="1454.3" stroke="#607080" stroke-width="0.9"/>
<line x1="587.9" y1="1466.98" x2="752.67" y2="1466.98" stroke="#607080" stroke-width="0.9"/>
<line x1="587.9" y1="1479.65" x2="752.67" y2="1479.65" stroke="#607080" stroke-width="0.9"/>
<line x1="613.25" y1="1352.9" x2="613.25" y2="1416.28" stroke="#3f82d2" stroke-width="1.2"/>
<line x1="638.6" y1="1352.9" x2="638.6" y2="1416.28" stroke="#3f82d2" stroke-width="1.2"/>
<line x1="663.95" y1="1352.9" x2="663.95" y2="1416.28" stroke="#3f82d2" stroke-width="1.2"/>
<line x1="689.3" y1="1352.9" x2="689.3" y2="1416.28" stroke="#3f82d2" stroke-width="1.2"/>
<line x1="727.33" y1="1352.9" x2="727.33" y2="1416.28" stroke="#3f82d2" stroke-width="1.2"/>
<line x1="638.6" y1="1416.28" x2="638.6" y2="1492.33" stroke="#3f82d2" stroke-width="1.2"/>
<line x1="689.3" y1="1416.28" x2="689.3" y2="1492.33" stroke="#3f82d2" stroke-width="1.2"/>
<line x1="727.33" y1="1416.28" x2="727.33" y2="1492.33" stroke="#3f82d2" stroke-width="1.2"/>
<line x1="587.9" y1="1352.9" x2="587.9" y2="1492.33" stroke="#3f82d2" stroke-width="1.6"/>
<line x1="752.67" y1="1352.9" x2="752.67" y2="1492.33" stroke="#3f82d2" stroke-width="1.6"/>
<line x1="587.9" y1="1352.9" x2="1056.88" y2="1352.9" stroke="#3f82d2" stroke-width="1.6"/>
<line x1="752.67" y1="1378.25" x2="1056.88" y2="1378.25" stroke="#3f82d2" stroke-width="1.5"/>
<line x1="752.67" y1="1416.28" x2="1056.88" y2="1416.28" stroke="#3f82d2" stroke-width="1.5"/>
<line x1="752.67" y1="1454.3" x2="1056.88" y2="1454.3" stroke="#3f82d2" stroke-width="1.5"/>
<line x1="930.12" y1="1428.95" x2="1056.88" y2="1428.95" stroke="#3f82d2" stroke-width="1.4"/>
<line x1="930.12" y1="1416.28" x2="930.12" y2="1492.33" stroke="#3f82d2" stroke-width="1.5"/>
<line x1="968.15" y1="1416.28" x2="968.15" y2="1454.3" stroke="#3f82d2" stroke-width="1.4"/>
<line x1="1006.17" y1="1416.28" x2="1006.17" y2="1454.3" stroke="#3f82d2" stroke-width="1.4"/>
<text transform="translate(601.07,1414.25) skewX(-15) scale(0.62,1)" font-size="12" text-anchor="middle" fill="#111111" textLength="27.42" lengthAdjust="spacingAndGlyphs">Изм.</text>
<text transform="translate(626.42,1414.25) skewX(-15) scale(0.62,1)" font-size="12" text-anchor="middle" fill="#111111" textLength="35.48" lengthAdjust="spacingAndGlyphs">Кол.уч</text>
<text transform="translate(651.77,1414.25) skewX(-15) scale(0.62,1)" font-size="12" text-anchor="middle" fill="#111111" textLength="30.65" lengthAdjust="spacingAndGlyphs">Лист</text>
<text transform="translate(677.12,1414.25) skewX(-15) scale(0.62,1)" font-size="12" text-anchor="middle" fill="#111111" textLength="35.48" lengthAdjust="spacingAndGlyphs">№док.</text>
<text transform="translate(708.81,1414.25) skewX(-15) scale(0.62,1)" font-size="12" text-anchor="middle" fill="#111111" textLength="33.87" lengthAdjust="spacingAndGlyphs">Подп.</text>
<text transform="translate(740.5,1414.25) skewX(-15) scale(0.62,1)" font-size="12" text-anchor="middle" fill="#111111" textLength="32.26" lengthAdjust="spacingAndGlyphs">Дата</text>
<text transform="translate(904.77,1374.7) skewX(-12) scale(0.7,1)" font-size="25" text-anchor="middle" fill="#000" stroke="#fff" stroke-width="0.55" textLength="177.14" lengthAdjust="spacing">07–24–СК–КМ</text>
<text transform="translate(755.67,1405.63) skewX(-13) scale(0.56,1)" font-size="21" text-anchor="start" fill="#000" stroke="#fff" stroke-width="0.46" textLength="528.57" lengthAdjust="spacing">Навес пристрой к зданию склада г. Чебоксары</text>
<text transform="translate(755.67,1444.92) skewX(-13) scale(0.58,1)" font-size="21" text-anchor="start" fill="#000" stroke="#fff" stroke-width="0.46" textLength="293.1" lengthAdjust="spacingAndGlyphs">Каркас промышленного здания</text>
<text transform="translate(951.14,1426.92) skewX(-15) scale(0.65,1)" font-size="10.5" text-anchor="middle" fill="#111111" textLength="47.69" lengthAdjust="spacingAndGlyphs">Стадия</text>
<text transform="translate(989.16,1426.92) skewX(-15) scale(0.65,1)" font-size="10.5" text-anchor="middle" fill="#111111" textLength="30.77" lengthAdjust="spacingAndGlyphs">Лист</text>
<text transform="translate(1033.53,1426.92) skewX(-15) scale(0.65,1)" font-size="10.5" text-anchor="middle" fill="#111111" textLength="46.15" lengthAdjust="spacingAndGlyphs">Листов</text>
<text transform="translate(950.14,1446.19) skewX(-15) scale(0.75,1)" font-size="18" text-anchor="middle" fill="#000" stroke="#fff" stroke-width="0.4">П</text>
<text transform="translate(988.16,1446.19) skewX(-15) scale(0.75,1)" font-size="18" text-anchor="middle" fill="#000" stroke="#fff" stroke-width="0.4">3</text>
<text transform="translate(958.01,1502.12) skewX(-15) scale(0.68,1)" font-size="11" text-anchor="start" fill="#111111" textLength="52.94" lengthAdjust="spacingAndGlyphs">Формат</text>
<text transform="translate(1008.71,1502.12) skewX(-15) scale(0.75,1)" font-size="11" text-anchor="start" fill="#111111" textLength="14.67" lengthAdjust="spacingAndGlyphs">А3</text>
<text transform="translate(755.7,1470) skewX(-15) scale(0.84,1)" font-size="15" text-anchor="start" fill="#000" stroke="#fff" stroke-width="0.33" textLength="202.38" lengthAdjust="spacing">Схема расположения колонн</text>
<text transform="translate(762.4,1487) skewX(-15) scale(0.84,1)" font-size="15" text-anchor="start" fill="#000" stroke="#fff" stroke-width="0.33" textLength="185.71" lengthAdjust="spacing">Нагрузки и воздействия</text>
<line x1="176.8" y1="784" x2="176.8" y2="1188.5" stroke="#ebc68e" stroke-width="1.25" stroke-dasharray="52 2 3 2"/>
<line x1="317.1" y1="784" x2="317.1" y2="1188.5" stroke="#ebc68e" stroke-width="1.25" stroke-dasharray="52 2 3 2"/>
<line x1="520.1" y1="784" x2="520.1" y2="1188.5" stroke="#ebc68e" stroke-width="1.25" stroke-dasharray="52 2 3 2"/>
<line x1="723.1" y1="784" x2="723.1" y2="1188.5" stroke="#ebc68e" stroke-width="1.25" stroke-dasharray="52 2 3 2"/>
<line x1="828.2" y1="784" x2="828.2" y2="1188.5" stroke="#ebc68e" stroke-width="1.25" stroke-dasharray="52 2 3 2"/>
<line x1="983.6" y1="784" x2="983.6" y2="1188.5" stroke="#ebc68e" stroke-width="1.25" stroke-dasharray="52 2 3 2"/>
<circle cx="176.8" cy="1199.3" r="10.9" fill="#fff" stroke="#3a3a3a" stroke-width="0.95"/>
<text transform="translate(177.1,1203.85) skewX(-15) scale(0.644,1)" font-size="12.09" text-anchor="middle" fill="#222">1</text>
<circle cx="317.1" cy="1199.3" r="10.9" fill="#fff" stroke="#3a3a3a" stroke-width="0.95"/>
<text transform="translate(317.4,1203.85) skewX(-15) scale(0.644,1)" font-size="12.09" text-anchor="middle" fill="#222">2</text>
<circle cx="520.1" cy="1199.3" r="10.9" fill="#fff" stroke="#3a3a3a" stroke-width="0.95"/>
<text transform="translate(520.4,1203.85) skewX(-15) scale(0.644,1)" font-size="12.09" text-anchor="middle" fill="#222">3</text>
<circle cx="723.1" cy="1199.3" r="10.9" fill="#fff" stroke="#3a3a3a" stroke-width="0.95"/>
<text transform="translate(723.4,1203.85) skewX(-15) scale(0.644,1)" font-size="12.09" text-anchor="middle" fill="#222">4</text>
<circle cx="828.2" cy="1199.3" r="10.9" fill="#fff" stroke="#3a3a3a" stroke-width="0.95"/>
<text transform="translate(828.5,1203.85) skewX(-15) scale(0.644,1)" font-size="12.09" text-anchor="middle" fill="#222">5</text>
<circle cx="983.6" cy="1199.3" r="10.9" fill="#fff" stroke="#3a3a3a" stroke-width="0.95"/>
<text transform="translate(983.9,1203.85) skewX(-15) scale(0.644,1)" font-size="12.09" text-anchor="middle" fill="#222">6</text>
<line x1="91.5" y1="834.4" x2="1030" y2="834.4" stroke="#ebc68e" stroke-width="1.25" stroke-dasharray="52 2 3 2"/>
<line x1="91.5" y1="838.1" x2="1030" y2="838.1" stroke="#ebc68e" stroke-width="1.25" stroke-dasharray="52 2 3 2"/>
<line x1="91.5" y1="1047" x2="1030" y2="1047" stroke="#ebc68e" stroke-width="1.25" stroke-dasharray="52 2 3 2"/>
<circle cx="80.9" cy="812.6" r="10.5" fill="#fff" stroke="#3a3a3a" stroke-width="0.95"/>
<text transform="translate(81.2,816.8) skewX(-15) scale(0.5704,1)" font-size="11.16" text-anchor="middle" fill="#222">Б2</text>
<circle cx="80.9" cy="838.1" r="10.5" fill="#fff" stroke="#3a3a3a" stroke-width="0.95"/>
<text transform="translate(81.2,842.65) skewX(-15) scale(0.644,1)" font-size="12.09" text-anchor="middle" fill="#222">Б</text>
<circle cx="80.9" cy="1046.9" r="10.5" fill="#fff" stroke="#3a3a3a" stroke-width="0.95"/>
<text transform="translate(81.2,1051.45) skewX(-15) scale(0.644,1)" font-size="12.09" text-anchor="middle" fill="#222">А</text>
<polyline points="91.4,812.6 107.4,812.6 128.1,833.3" fill="none" stroke="#ebc68e" stroke-width="1.0"/>
<line x1="110.6" y1="829" x2="110.6" y2="1051" stroke="#555555" stroke-width="0.9"/>
<line x1="107.1" y1="837.9" x2="114.1" y2="830.9" stroke="#3f82d2" stroke-width="1.2"/>
<line x1="107.1" y1="1050.5" x2="114.1" y2="1043.5" stroke="#3f82d2" stroke-width="1.2"/>
<line x1="128.7" y1="807.8" x2="128.7" y2="1051" stroke="#555555" stroke-width="0.9"/>
<line x1="125.2" y1="837.9" x2="132.2" y2="830.9" stroke="#3f82d2" stroke-width="1.2"/>
<line x1="125.2" y1="841.6" x2="132.2" y2="834.6" stroke="#3f82d2" stroke-width="1.2"/>
<line x1="125.2" y1="1050.5" x2="132.2" y2="1043.5" stroke="#3f82d2" stroke-width="1.2"/>
<line x1="107" y1="834.4" x2="132" y2="834.4" stroke="#555555" stroke-width="0.8"/>
<text transform="translate(106,960) rotate(-90) skewX(-15) scale(0.62,1)" font-size="11.5" text-anchor="start" fill="#111111">6295</text>
<text transform="translate(124,960) rotate(-90) skewX(-15) scale(0.62,1)" font-size="11.5" text-anchor="start" fill="#111111">6170</text>
<text transform="translate(124,826) rotate(-90) skewX(-15) scale(0.62,1)" font-size="11.5" text-anchor="start" fill="#111111">125</text>
<line x1="150.4" y1="803" x2="150.4" y2="925" stroke="#111111" stroke-width="1.0"/>
<polyline points="150.4,925 158,929 144.5,934.5 150.4,938.5" fill="none" stroke="#111111" stroke-width="1.0"/>
<line x1="150.4" y1="938.5" x2="150.4" y2="1061" stroke="#111111" stroke-width="1.0"/>
<line x1="150.4" y1="810.4" x2="477.2" y2="810.4" stroke="#3f82d2" stroke-width="1.5"/>
<line x1="477.2" y1="810.4" x2="477.2" y2="1081" stroke="#3f82d2" stroke-width="1.5"/>
<line x1="172.1" y1="838.1" x2="172.1" y2="1054.9" stroke="#3f82d2" stroke-width="1.5"/>
<line x1="150.4" y1="838.6" x2="477.2" y2="838.6" stroke="#3b4f6b" stroke-width="1.0"/>
<line x1="150.4" y1="1054.9" x2="810.6" y2="1054.9" stroke="#3f82d2" stroke-width="1.5"/>
<line x1="477.2" y1="826.3" x2="836.9" y2="826.3" stroke="#3f82d2" stroke-width="1.4"/>
<line x1="477.2" y1="830.1" x2="836.9" y2="830.1" stroke="#3f82d2" stroke-width="1.4"/>
<line x1="836.9" y1="826.3" x2="836.9" y2="830.1" stroke="#3f82d2" stroke-width="1.2"/>
<line x1="790.75" y1="829.9" x2="790.75" y2="1082" stroke="#3f82d2" stroke-width="1.5"/>
<line x1="790.75" y1="829.9" x2="810" y2="829.9" stroke="#111111" stroke-width="0.9"/>
<line x1="451.7" y1="836" x2="451.7" y2="1057" stroke="#555555" stroke-width="0.9"/>
<line x1="448.2" y1="841.6" x2="455.2" y2="834.6" stroke="#3f82d2" stroke-width="1.2"/>
<line x1="448.2" y1="1058.4" x2="455.2" y2="1051.4" stroke="#3f82d2" stroke-width="1.2"/>
<text transform="translate(447,960) rotate(-90) skewX(-15) scale(0.62,1)" font-size="11.5" text-anchor="start" fill="#111111">6400</text>
<line x1="809.5" y1="827" x2="809.5" y2="1057" stroke="#555555" stroke-width="0.9"/>
<line x1="806" y1="833.4" x2="813" y2="826.4" stroke="#3f82d2" stroke-width="1.2"/>
<line x1="806" y1="1057.5" x2="813" y2="1050.5" stroke="#3f82d2" stroke-width="1.2"/>
<text transform="translate(805,951) rotate(-90) skewX(-15) scale(0.62,1)" font-size="11.5" text-anchor="start" fill="#111111">6650</text>
<line x1="474" y1="1079.2" x2="793" y2="1079.2" stroke="#555555" stroke-width="0.9"/>
<line x1="473.7" y1="1082.7" x2="480.7" y2="1075.7" stroke="#3f82d2" stroke-width="1.2"/>
<line x1="787.25" y1="1082.7" x2="794.25" y2="1075.7" stroke="#3f82d2" stroke-width="1.2"/>
<text transform="translate(633,1075.5) skewX(-15) scale(0.62,1)" font-size="9.5" text-anchor="middle" fill="#111111">9280</text>
<line x1="520.1" y1="802" x2="520.1" y2="834" stroke="#555555" stroke-width="0.8"/>
<text transform="translate(515.5,822) rotate(-90) skewX(-15) scale(0.62,1)" font-size="11.5" text-anchor="start" fill="#111111">125</text>
<line x1="172.1" y1="1032.6" x2="463" y2="1032.6" stroke="#555555" stroke-width="0.9"/>
<line x1="177.7" y1="1035.6" x2="183.7" y2="1029.6" stroke="#3f82d2" stroke-width="1.2"/>
<line x1="194.3" y1="1035.6" x2="200.3" y2="1029.6" stroke="#3f82d2" stroke-width="1.2"/>
<line x1="299.8" y1="1035.6" x2="305.8" y2="1029.6" stroke="#3f82d2" stroke-width="1.2"/>
<line x1="314.1" y1="1035.6" x2="320.1" y2="1029.6" stroke="#3f82d2" stroke-width="1.2"/>
<line x1="353.7" y1="1035.6" x2="359.7" y2="1029.6" stroke="#3f82d2" stroke-width="1.2"/>
<line x1="458.2" y1="1035.6" x2="464.2" y2="1029.6" stroke="#3f82d2" stroke-width="1.2"/>
<text transform="translate(250.2,1029.4) skewX(-15) scale(0.62,1)" font-size="9.5" text-anchor="middle" fill="#111111">3100</text>
<text transform="translate(337,1029.4) skewX(-15) scale(0.62,1)" font-size="9.5" text-anchor="middle" fill="#111111">1160</text>
<text transform="translate(408.6,1029.4) skewX(-15) scale(0.62,1)" font-size="9.5" text-anchor="middle" fill="#111111">3100</text>
<line x1="190.3" y1="1015" x2="220.5" y2="1015" stroke="#555555" stroke-width="0.8"/>
<line x1="190.3" y1="1015" x2="181" y2="1032" stroke="#111111" stroke-width="0.8"/>
<text transform="translate(205,1012) skewX(-15) scale(0.62,1)" font-size="9.5" text-anchor="start" fill="#111111">487</text>
<line x1="196.6" y1="1032.6" x2="196.6" y2="1048.5" stroke="#555555" stroke-width="0.8"/>
<rect x="194.1" y="1047.5" width="5" height="2.4" fill="#3f82d2"/>
<line x1="303.4" y1="1032.6" x2="303.4" y2="1048.5" stroke="#555555" stroke-width="0.8"/>
<rect x="300.9" y="1047.5" width="5" height="2.4" fill="#3f82d2"/>
<line x1="356" y1="1032.6" x2="356" y2="1048.5" stroke="#555555" stroke-width="0.8"/>
<rect x="353.5" y="1047.5" width="5" height="2.4" fill="#3f82d2"/>
<line x1="462.8" y1="1032.6" x2="462.8" y2="1048.5" stroke="#555555" stroke-width="0.8"/>
<rect x="460.3" y="1047.5" width="5" height="2.4" fill="#3f82d2"/>
<line x1="801.25" y1="1026.75" x2="985" y2="1026.75" stroke="#555555" stroke-width="0.9"/>
<line x1="825.2" y1="1029.75" x2="831.2" y2="1023.75" stroke="#3f82d2" stroke-width="1.2"/>
<line x1="835" y1="1029.75" x2="841" y2="1023.75" stroke="#3f82d2" stroke-width="1.2"/>
<line x1="934.5" y1="1029.75" x2="940.5" y2="1023.75" stroke="#3f82d2" stroke-width="1.2"/>
<line x1="980.6" y1="1029.75" x2="986.6" y2="1023.75" stroke="#3f82d2" stroke-width="1.2"/>
<text transform="translate(810,1023) skewX(-15) scale(0.62,1)" font-size="9.5" text-anchor="middle" fill="#111111">320</text>
<text transform="translate(891,1023) skewX(-15) scale(0.62,1)" font-size="9.5" text-anchor="middle" fill="#111111">3100</text>
<text transform="translate(963,1023) skewX(-15) scale(0.62,1)" font-size="9.5" text-anchor="middle" fill="#111111">1160</text>
<line x1="838" y1="1026.75" x2="838" y2="1048" stroke="#555555" stroke-width="0.8"/>
<rect x="835.5" y="1047" width="5" height="2.4" fill="#3f82d2"/>
<line x1="937.5" y1="1026.75" x2="937.5" y2="1048" stroke="#555555" stroke-width="0.8"/>
<rect x="935" y="1047" width="5" height="2.4" fill="#3f82d2"/>
<polygon points="961.4,826.9 992.5,826.9 992.5,856.9 988,856.9 988,829.9 961.4,829.9" fill="none" stroke="#3f82d2" stroke-width="1.4"/>
<rect x="987.6" y="980.6" width="5.2" height="153.2" fill="none" stroke="#3f82d2" stroke-width="1.4"/>
<rect x="173.05" y="1043.25" width="7.5" height="7.5" fill="#8fbcf0"/>
<rect x="173.05" y="1043.25" width="7.5" height="7.5" fill="none" stroke="#2a6cc8" stroke-width="1.3"/>
<circle cx="176.8" cy="1047" r="1.5" fill="#111"/>
<rect x="313.35" y="1043.25" width="7.5" height="7.5" fill="#8fbcf0"/>
<rect x="313.35" y="1043.25" width="7.5" height="7.5" fill="none" stroke="#2a6cc8" stroke-width="1.3"/>
<circle cx="317.1" cy="1047" r="1.5" fill="#111"/>
<rect x="516.35" y="1043.25" width="7.5" height="7.5" fill="#8fbcf0"/>
<rect x="516.35" y="1043.25" width="7.5" height="7.5" fill="none" stroke="#2a6cc8" stroke-width="1.3"/>
<circle cx="520.1" cy="1047" r="1.5" fill="#111"/>
<rect x="719.35" y="1043.25" width="7.5" height="7.5" fill="#8fbcf0"/>
<rect x="719.35" y="1043.25" width="7.5" height="7.5" fill="none" stroke="#2a6cc8" stroke-width="1.3"/>
<circle cx="723.1" cy="1047" r="1.5" fill="#111"/>
<rect x="824.45" y="1043.25" width="7.5" height="7.5" fill="#8fbcf0"/>
<rect x="824.45" y="1043.25" width="7.5" height="7.5" fill="none" stroke="#2a6cc8" stroke-width="1.3"/>
<circle cx="828.2" cy="1047" r="1.5" fill="#111"/>
<rect x="979.85" y="1043.25" width="7.5" height="7.5" fill="#8fbcf0"/>
<rect x="979.85" y="1043.25" width="7.5" height="7.5" fill="none" stroke="#2a6cc8" stroke-width="1.3"/>
<circle cx="983.6" cy="1047" r="1.5" fill="#111"/>
<rect x="516.35" y="830.65" width="7.5" height="7.5" fill="#8fbcf0"/>
<rect x="516.35" y="830.65" width="7.5" height="7.5" fill="none" stroke="#2a6cc8" stroke-width="1.3"/>
<circle cx="520.1" cy="834.4" r="1.5" fill="#111"/>
<rect x="719.35" y="830.65" width="7.5" height="7.5" fill="#8fbcf0"/>
<rect x="719.35" y="830.65" width="7.5" height="7.5" fill="none" stroke="#2a6cc8" stroke-width="1.3"/>
<circle cx="723.1" cy="834.4" r="1.5" fill="#111"/>
<rect x="824.45" y="830.65" width="7.5" height="7.5" fill="#8fbcf0"/>
<rect x="824.45" y="830.65" width="7.5" height="7.5" fill="none" stroke="#2a6cc8" stroke-width="1.3"/>
<circle cx="828.2" cy="834.4" r="1.5" fill="#111"/>
<rect x="979.85" y="830.65" width="7.5" height="7.5" fill="#8fbcf0"/>
<rect x="979.85" y="830.65" width="7.5" height="7.5" fill="none" stroke="#2a6cc8" stroke-width="1.3"/>
<circle cx="983.6" cy="834.4" r="1.5" fill="#111"/>
<line x1="520.1" y1="834.4" x2="543.4" y2="870.75" stroke="#111111" stroke-width="0.8"/>
<line x1="543.4" y1="870.75" x2="566.1" y2="870.75" stroke="#555555" stroke-width="0.8"/>
<text transform="translate(548.1,868) skewX(-15) scale(0.68,1)" font-size="9.5" text-anchor="start" fill="#111111">К10</text>
<line x1="723.1" y1="834.4" x2="746.4" y2="870.75" stroke="#111111" stroke-width="0.8"/>
<line x1="746.4" y1="870.75" x2="769.1" y2="870.75" stroke="#555555" stroke-width="0.8"/>
<text transform="translate(751.1,868) skewX(-15) scale(0.68,1)" font-size="9.5" text-anchor="start" fill="#111111">К9</text>
<line x1="828.2" y1="834.4" x2="851.5" y2="870.75" stroke="#111111" stroke-width="0.8"/>
<line x1="851.5" y1="870.75" x2="874.2" y2="870.75" stroke="#555555" stroke-width="0.8"/>
<text transform="translate(856.2,868) skewX(-15) scale(0.68,1)" font-size="9.5" text-anchor="start" fill="#111111">К8</text>
<line x1="983.6" y1="834.4" x2="1006.9" y2="870.75" stroke="#111111" stroke-width="0.8"/>
<line x1="1006.9" y1="870.75" x2="1029.6" y2="870.75" stroke="#555555" stroke-width="0.8"/>
<text transform="translate(1011.6,868) skewX(-15) scale(0.68,1)" font-size="9.5" text-anchor="start" fill="#111111">К7</text>
<line x1="520.1" y1="1047" x2="543.4" y2="1083" stroke="#111111" stroke-width="0.8"/>
<line x1="543.4" y1="1083" x2="562.1" y2="1083" stroke="#555555" stroke-width="0.8"/>
<text transform="translate(548.1,1080) skewX(-15) scale(0.68,1)" font-size="9.5" text-anchor="start" fill="#111111">К3</text>
<line x1="723.1" y1="1047" x2="746.4" y2="1083" stroke="#111111" stroke-width="0.8"/>
<line x1="746.4" y1="1083" x2="765.1" y2="1083" stroke="#555555" stroke-width="0.8"/>
<text transform="translate(751.1,1080) skewX(-15) scale(0.68,1)" font-size="9.5" text-anchor="start" fill="#111111">К4</text>
<line x1="828.2" y1="1047" x2="851.5" y2="1083" stroke="#111111" stroke-width="0.8"/>
<line x1="851.5" y1="1083" x2="870.2" y2="1083" stroke="#555555" stroke-width="0.8"/>
<text transform="translate(856.2,1080) skewX(-15) scale(0.68,1)" font-size="9.5" text-anchor="start" fill="#111111">К5</text>
<line x1="983.6" y1="1047" x2="1006.9" y2="1083" stroke="#111111" stroke-width="0.8"/>
<line x1="1006.9" y1="1083" x2="1025.6" y2="1083" stroke="#555555" stroke-width="0.8"/>
<text transform="translate(1011.6,1080) skewX(-15) scale(0.68,1)" font-size="9.5" text-anchor="start" fill="#111111">К6</text>
<line x1="176.8" y1="1047" x2="199" y2="1084.4" stroke="#111111" stroke-width="0.8"/>
<line x1="199" y1="1084.4" x2="217.8" y2="1084.4" stroke="#555555" stroke-width="0.8"/>
<text transform="translate(204,1080.6) skewX(-15) scale(0.68,1)" font-size="9.5" text-anchor="start" fill="#111111">К1</text>
<line x1="317.1" y1="1047" x2="333.4" y2="1078.1" stroke="#111111" stroke-width="0.8"/>
<line x1="333.4" y1="1078.1" x2="353.75" y2="1078.1" stroke="#555555" stroke-width="0.8"/>
<text transform="translate(338,1074.5) skewX(-15) scale(0.68,1)" font-size="9.5" text-anchor="start" fill="#111111">К2</text>
<text transform="translate(172,1080) rotate(-90) skewX(-15) scale(0.62,1)" font-size="11.5" text-anchor="start" fill="#111111">230</text>
<line x1="172.1" y1="1055" x2="172.1" y2="1085" stroke="#555555" stroke-width="0.8"/>
<rect x="292.3" y="925.8" width="43" height="16.5" fill="none" stroke="#111111" stroke-width="0.9"/>
<text transform="translate(313.8,938.5) skewX(-15) scale(0.66,1)" font-size="12" text-anchor="middle" fill="#111111">+1,100</text>
<rect x="881.9" y="915.75" width="42.35" height="16.5" fill="none" stroke="#111111" stroke-width="0.9"/>
<text transform="translate(903,928.5) skewX(-15) scale(0.66,1)" font-size="12" text-anchor="middle" fill="#111111">+0,000</text>
<line x1="604.4" y1="946.9" x2="619.4" y2="955.5" stroke="#111111" stroke-width="0.9"/>
<line x1="604.4" y1="955.5" x2="620" y2="955.5" stroke="#111111" stroke-width="0.9"/>
<text transform="translate(621.25,956.25) skewX(-15) scale(0.66,1)" font-size="12.5" text-anchor="start" fill="#111111">0,12</text>
<line x1="172.8" y1="1122.2" x2="987.6" y2="1122.2" stroke="#555555" stroke-width="0.9"/>
<line x1="173.3" y1="1125.7" x2="180.3" y2="1118.7" stroke="#3f82d2" stroke-width="1.2"/>
<line x1="313.6" y1="1125.7" x2="320.6" y2="1118.7" stroke="#3f82d2" stroke-width="1.2"/>
<line x1="516.6" y1="1125.7" x2="523.6" y2="1118.7" stroke="#3f82d2" stroke-width="1.2"/>
<line x1="719.6" y1="1125.7" x2="726.6" y2="1118.7" stroke="#3f82d2" stroke-width="1.2"/>
<line x1="824.7" y1="1125.7" x2="831.7" y2="1118.7" stroke="#3f82d2" stroke-width="1.2"/>
<line x1="980.1" y1="1125.7" x2="987.1" y2="1118.7" stroke="#3f82d2" stroke-width="1.2"/>
<text transform="translate(246.95,1118) skewX(-15) scale(0.62,1)" font-size="9.5" text-anchor="middle" fill="#111111">4160</text>
<text transform="translate(418.6,1118) skewX(-15) scale(0.62,1)" font-size="9.5" text-anchor="middle" fill="#111111">6000</text>
<text transform="translate(621.6,1118) skewX(-15) scale(0.62,1)" font-size="9.5" text-anchor="middle" fill="#111111">6000</text>
<text transform="translate(775.65,1118) skewX(-15) scale(0.62,1)" font-size="9.5" text-anchor="middle" fill="#111111">3110</text>
<text transform="translate(905.9,1118) skewX(-15) scale(0.62,1)" font-size="9.5" text-anchor="middle" fill="#111111">4580</text>
<line x1="172.8" y1="1166.4" x2="987.6" y2="1166.4" stroke="#555555" stroke-width="0.9"/>
<line x1="173.3" y1="1169.9" x2="180.3" y2="1162.9" stroke="#3f82d2" stroke-width="1.2"/>
<line x1="980.1" y1="1169.9" x2="987.1" y2="1162.9" stroke="#3f82d2" stroke-width="1.2"/>
<text transform="translate(579.8,1162.7) skewX(-15) scale(0.62,1)" font-size="9.5" text-anchor="middle" fill="#111111">23850</text>
<text transform="translate(293.7,1241.5) skewX(-15) scale(0.7,1)" font-size="11.5" text-anchor="middle" fill="#111111" textLength="154.29" lengthAdjust="spacingAndGlyphs">Нагрузки и воздействия</text>
<rect x="67.5" y="1252" width="456.9" height="202.5" fill="none" stroke="#3f82d2" stroke-width="1.5"/>
<line x1="245.4" y1="1252" x2="245.4" y2="1454.5" stroke="#3b3b3b" stroke-width="1.0"/>
<line x1="283.5" y1="1269.4" x2="283.5" y2="1454.5" stroke="#3b3b3b" stroke-width="1.0"/>
<line x1="333.6" y1="1269.4" x2="333.6" y2="1454.5" stroke="#3b3b3b" stroke-width="1.0"/>
<line x1="371.4" y1="1252" x2="371.4" y2="1454.5" stroke="#3b3b3b" stroke-width="1.0"/>
<line x1="420" y1="1252" x2="420" y2="1454.5" stroke="#3b3b3b" stroke-width="1.0"/>
<line x1="245.4" y1="1269.4" x2="371.4" y2="1269.4" stroke="#3f82d2" stroke-width="1.4"/>
<line x1="67.5" y1="1342.9" x2="524.4" y2="1342.9" stroke="#3b3b3b" stroke-width="1.0"/>
<line x1="67.5" y1="1371.1" x2="524.4" y2="1371.1" stroke="#3b3b3b" stroke-width="1.0"/>
<line x1="67.5" y1="1399" x2="524.4" y2="1399" stroke="#3b3b3b" stroke-width="1.0"/>
<line x1="67.5" y1="1426.9" x2="524.4" y2="1426.9" stroke="#3b3b3b" stroke-width="1.0"/>
<text transform="translate(155,1301.5) skewX(-15) scale(0.7,1)" font-size="11.5" text-anchor="middle" fill="#111111" textLength="87.14" lengthAdjust="spacingAndGlyphs">Наименование</text>
<text transform="translate(308.3,1264) skewX(-15) scale(0.7,1)" font-size="11.5" text-anchor="middle" fill="#111111" textLength="57.14" lengthAdjust="spacingAndGlyphs">Величина</text>
<text transform="translate(471,1301.5) skewX(-15) scale(0.7,1)" font-size="11.5" text-anchor="middle" fill="#111111" textLength="72.86" lengthAdjust="spacingAndGlyphs">Примечание</text>
<text transform="translate(267,1336) rotate(-90) skewX(-15) scale(0.7,1)" font-size="11.5" text-anchor="start" fill="#111111" textLength="82.86" lengthAdjust="spacingAndGlyphs">Нормативная</text>
<text transform="translate(304.5,1340.5) rotate(-90) skewX(-15) scale(0.7,1)" font-size="11.5" text-anchor="start" fill="#111111" textLength="90" lengthAdjust="spacingAndGlyphs">Коэффициент</text>
<text transform="translate(318.6,1334) rotate(-90) skewX(-15) scale(0.7,1)" font-size="11.5" text-anchor="start" fill="#111111" textLength="78.57" lengthAdjust="spacingAndGlyphs">надежности</text>
<text transform="translate(357,1330) rotate(-90) skewX(-15) scale(0.7,1)" font-size="11.5" text-anchor="start" fill="#111111" textLength="68.57" lengthAdjust="spacingAndGlyphs">Расчетная</text>
<text transform="translate(392.4,1315) rotate(-90) skewX(-15) scale(0.7,1)" font-size="11.5" text-anchor="start" fill="#111111" textLength="57.14" lengthAdjust="spacingAndGlyphs">Единица</text>
<text transform="translate(405.6,1318) rotate(-90) skewX(-15) scale(0.7,1)" font-size="11.5" text-anchor="start" fill="#111111" textLength="65.71" lengthAdjust="spacingAndGlyphs">измерения</text>
<text transform="translate(69,1354) skewX(-15) scale(0.7,1)" font-size="11.5" text-anchor="start" fill="#111111" textLength="134.36" lengthAdjust="spacingAndGlyphs">Кровельное покрытие</text>
<text transform="translate(69,1367.5) skewX(-15) scale(0.7,1)" font-size="11.5" text-anchor="start" fill="#111111" textLength="244.29" lengthAdjust="spacingAndGlyphs">Сендвич панель 150мм 0,6мм облицовка</text>
<text transform="translate(264,1361.5) skewX(-15) scale(0.66,1)" font-size="12" text-anchor="middle" fill="#111111">33,5</text>
<text transform="translate(307.5,1361.5) skewX(-15) scale(0.66,1)" font-size="12" text-anchor="middle" fill="#111111">1,4</text>
<text transform="translate(352.5,1361.5) skewX(-15) scale(0.66,1)" font-size="12" text-anchor="middle" fill="#111111">46,9</text>
<text transform="translate(395.5,1361.5) skewX(-15) scale(0.75,1)" font-size="11.5" text-anchor="middle" fill="#111111" textLength="37.33" lengthAdjust="spacingAndGlyphs">кг/м²</text>
<text transform="translate(69,1382.5) skewX(-15) scale(0.7,1)" font-size="11.5" text-anchor="start" fill="#111111" textLength="134.36" lengthAdjust="spacingAndGlyphs">Стеновое ограждение</text>
<text transform="translate(69,1394.5) skewX(-15) scale(0.7,1)" font-size="11.5" text-anchor="start" fill="#111111" textLength="244.29" lengthAdjust="spacingAndGlyphs">Сендвич панель 200мм 0,6мм облицовки</text>
<text transform="translate(264,1388.5) skewX(-15) scale(0.66,1)" font-size="12" text-anchor="middle" fill="#111111">37,9</text>
<text transform="translate(307.5,1388.5) skewX(-15) scale(0.66,1)" font-size="12" text-anchor="middle" fill="#111111">1,4</text>
<text transform="translate(352.5,1388.5) skewX(-15) scale(0.66,1)" font-size="12" text-anchor="middle" fill="#111111">53,1</text>
<text transform="translate(395.5,1388.5) skewX(-15) scale(0.75,1)" font-size="11.5" text-anchor="middle" fill="#111111" textLength="37.33" lengthAdjust="spacingAndGlyphs">кг/м²</text>
<text transform="translate(69,1410.4) skewX(-15) scale(0.7,1)" font-size="11.5" text-anchor="start" fill="#111111" textLength="120.21" lengthAdjust="spacingAndGlyphs">Снеговая нагрузка</text>
<text transform="translate(69,1423) skewX(-15) scale(0.7,1)" font-size="11.5" text-anchor="start" fill="#111111" textLength="115.36" lengthAdjust="spacingAndGlyphs">Снеговой район IV</text>
<text transform="translate(264,1417) skewX(-15) scale(0.66,1)" font-size="12" text-anchor="middle" fill="#111111">200</text>
<text transform="translate(307.5,1417) skewX(-15) scale(0.66,1)" font-size="12" text-anchor="middle" fill="#111111">1,4</text>
<text transform="translate(352.5,1417) skewX(-15) scale(0.66,1)" font-size="12" text-anchor="middle" fill="#111111">280</text>
<text transform="translate(395.5,1417) skewX(-15) scale(0.75,1)" font-size="11.5" text-anchor="middle" fill="#111111" textLength="37.33" lengthAdjust="spacingAndGlyphs">кг/м²</text>
<text transform="translate(69,1438) skewX(-15) scale(0.7,1)" font-size="11.5" text-anchor="start" fill="#111111" textLength="120.21" lengthAdjust="spacingAndGlyphs">Ветровая нагрузка</text>
<text transform="translate(69,1450.6) skewX(-15) scale(0.7,1)" font-size="11.5" text-anchor="start" fill="#111111" textLength="115.36" lengthAdjust="spacingAndGlyphs">Ветровой район IV</text>
<text transform="translate(264,1445) skewX(-15) scale(0.66,1)" font-size="12" text-anchor="middle" fill="#111111">48</text>
<text transform="translate(307.5,1445) skewX(-15) scale(0.66,1)" font-size="12" text-anchor="middle" fill="#111111">1,4</text>
<text transform="translate(352.5,1445) skewX(-15) scale(0.66,1)" font-size="12" text-anchor="middle" fill="#111111">67,2</text>
<text transform="translate(395.5,1445) skewX(-15) scale(0.75,1)" font-size="11.5" text-anchor="middle" fill="#111111" textLength="37.33" lengthAdjust="spacingAndGlyphs">кг/м²</text>
<rect x="1063.6" y="760.4" width="531.9" height="753" fill="none" stroke="#b0b0b0" stroke-width="1.6"/>
<rect x="1114.5" y="773.4" width="468.7" height="727.2" fill="none" stroke="#3f82d2" stroke-width="1.6"/>
<line x1="1084.08" y1="1285.12" x2="1084.08" y2="1500.6" stroke="#3f82d2" stroke-width="1.4"/>
<line x1="1096.76" y1="1285.12" x2="1096.76" y2="1500.6" stroke="#3f82d2" stroke-width="1.4"/>
<line x1="1084.08" y1="1500.6" x2="1114.5" y2="1500.6" stroke="#3f82d2" stroke-width="1.4"/>
<line x1="1084.08" y1="1437.22" x2="1114.5" y2="1437.22" stroke="#3f82d2" stroke-width="1.4"/>
<line x1="1084.08" y1="1348.5" x2="1114.5" y2="1348.5" stroke="#3f82d2" stroke-width="1.4"/>
<line x1="1084.08" y1="1285.12" x2="1114.5" y2="1285.12" stroke="#3f82d2" stroke-width="1.4"/>
<text transform="translate(1095.26,1497.6) rotate(-90) skewX(-15) scale(0.72,1)" font-size="11" text-anchor="start" fill="#111111" textLength="79.17" lengthAdjust="spacingAndGlyphs">Инв. № подл.</text>
<text transform="translate(1095.26,1422.22) rotate(-90) skewX(-15) scale(0.72,1)" font-size="11" text-anchor="start" fill="#111111" textLength="79.17" lengthAdjust="spacingAndGlyphs">Подп. и дата</text>
<text transform="translate(1095.26,1346.5) rotate(-90) skewX(-15) scale(0.72,1)" font-size="11" text-anchor="start" fill="#111111" textLength="80.56" lengthAdjust="spacingAndGlyphs">Взам. инв. №</text>
<line x1="1076.47" y1="1120.35" x2="1076.47" y2="1285.12" stroke="#3f82d2" stroke-width="1.4"/>
<line x1="1089.15" y1="1120.35" x2="1089.15" y2="1285.12" stroke="#3f82d2" stroke-width="1.4"/>
<line x1="1101.83" y1="1120.35" x2="1101.83" y2="1285.12" stroke="#555" stroke-width="1.0"/>
<line x1="1076.47" y1="1120.35" x2="1114.5" y2="1120.35" stroke="#3f82d2" stroke-width="1.4"/>
<line x1="1076.47" y1="1285.12" x2="1114.5" y2="1285.12" stroke="#3f82d2" stroke-width="1.4"/>
<line x1="1089.15" y1="1234.42" x2="1114.5" y2="1234.42" stroke="#3f82d2" stroke-width="1.4"/>
<line x1="1089.15" y1="1183.72" x2="1114.5" y2="1183.72" stroke="#3f82d2" stroke-width="1.4"/>
<line x1="1089.15" y1="1145.7" x2="1114.5" y2="1145.7" stroke="#3f82d2" stroke-width="1.4"/>
<text transform="translate(1087.65,1282.12) rotate(-90) skewX(-15) scale(0.72,1)" font-size="11" text-anchor="start" fill="#111111" textLength="76.39" lengthAdjust="spacingAndGlyphs">Согласовано</text>
<line x1="1114.3" y1="1373.77" x2="1279.08" y2="1373.77" stroke="#607080" stroke-width="0.9"/>
<line x1="1114.3" y1="1386.45" x2="1279.08" y2="1386.45" stroke="#607080" stroke-width="0.9"/>
<line x1="1114.3" y1="1399.12" x2="1279.08" y2="1399.12" stroke="#607080" stroke-width="0.9"/>
<line x1="1114.3" y1="1411.8" x2="1279.08" y2="1411.8" stroke="#3f82d2" stroke-width="1.1"/>
<line x1="1114.3" y1="1424.47" x2="1279.08" y2="1424.47" stroke="#3f82d2" stroke-width="1.6"/>
<line x1="1114.3" y1="1437.15" x2="1279.08" y2="1437.15" stroke="#607080" stroke-width="0.9"/>
<line x1="1114.3" y1="1449.82" x2="1279.08" y2="1449.82" stroke="#607080" stroke-width="0.9"/>
<line x1="1114.3" y1="1462.5" x2="1279.08" y2="1462.5" stroke="#607080" stroke-width="0.9"/>
<line x1="1114.3" y1="1475.17" x2="1279.08" y2="1475.17" stroke="#607080" stroke-width="0.9"/>
<line x1="1114.3" y1="1487.85" x2="1279.08" y2="1487.85" stroke="#607080" stroke-width="0.9"/>
<line x1="1139.65" y1="1361.1" x2="1139.65" y2="1424.47" stroke="#3f82d2" stroke-width="1.2"/>
<line x1="1165" y1="1361.1" x2="1165" y2="1424.47" stroke="#3f82d2" stroke-width="1.2"/>
<line x1="1190.35" y1="1361.1" x2="1190.35" y2="1424.47" stroke="#3f82d2" stroke-width="1.2"/>
<line x1="1215.7" y1="1361.1" x2="1215.7" y2="1424.47" stroke="#3f82d2" stroke-width="1.2"/>
<line x1="1253.72" y1="1361.1" x2="1253.72" y2="1424.47" stroke="#3f82d2" stroke-width="1.2"/>
<line x1="1165" y1="1424.47" x2="1165" y2="1500.52" stroke="#3f82d2" stroke-width="1.2"/>
<line x1="1215.7" y1="1424.47" x2="1215.7" y2="1500.52" stroke="#3f82d2" stroke-width="1.2"/>
<line x1="1253.72" y1="1424.47" x2="1253.72" y2="1500.52" stroke="#3f82d2" stroke-width="1.2"/>
<line x1="1114.3" y1="1361.1" x2="1114.3" y2="1500.52" stroke="#3f82d2" stroke-width="1.6"/>
<line x1="1279.08" y1="1361.1" x2="1279.08" y2="1500.52" stroke="#3f82d2" stroke-width="1.6"/>
<line x1="1114.3" y1="1361.1" x2="1583.28" y2="1361.1" stroke="#3f82d2" stroke-width="1.6"/>
<line x1="1279.08" y1="1386.45" x2="1583.28" y2="1386.45" stroke="#3f82d2" stroke-width="1.5"/>
<line x1="1279.08" y1="1424.47" x2="1583.28" y2="1424.47" stroke="#3f82d2" stroke-width="1.5"/>
<line x1="1279.08" y1="1462.5" x2="1583.28" y2="1462.5" stroke="#3f82d2" stroke-width="1.5"/>
<line x1="1456.53" y1="1437.15" x2="1583.28" y2="1437.15" stroke="#3f82d2" stroke-width="1.4"/>
<line x1="1456.53" y1="1424.47" x2="1456.53" y2="1500.52" stroke="#3f82d2" stroke-width="1.5"/>
<line x1="1494.55" y1="1424.47" x2="1494.55" y2="1462.5" stroke="#3f82d2" stroke-width="1.4"/>
<line x1="1532.58" y1="1424.47" x2="1532.58" y2="1462.5" stroke="#3f82d2" stroke-width="1.4"/>
<text transform="translate(1127.47,1422.45) skewX(-15) scale(0.62,1)" font-size="12" text-anchor="middle" fill="#111111" textLength="27.42" lengthAdjust="spacingAndGlyphs">Изм.</text>
<text transform="translate(1152.83,1422.45) skewX(-15) scale(0.62,1)" font-size="12" text-anchor="middle" fill="#111111" textLength="35.48" lengthAdjust="spacingAndGlyphs">Кол.уч</text>
<text transform="translate(1178.17,1422.45) skewX(-15) scale(0.62,1)" font-size="12" text-anchor="middle" fill="#111111" textLength="30.65" lengthAdjust="spacingAndGlyphs">Лист</text>
<text transform="translate(1203.52,1422.45) skewX(-15) scale(0.62,1)" font-size="12" text-anchor="middle" fill="#111111" textLength="35.48" lengthAdjust="spacingAndGlyphs">№док.</text>
<text transform="translate(1235.21,1422.45) skewX(-15) scale(0.62,1)" font-size="12" text-anchor="middle" fill="#111111" textLength="33.87" lengthAdjust="spacingAndGlyphs">Подп.</text>
<text transform="translate(1266.9,1422.45) skewX(-15) scale(0.62,1)" font-size="12" text-anchor="middle" fill="#111111" textLength="32.26" lengthAdjust="spacingAndGlyphs">Дата</text>
<text transform="translate(1431.17,1382.9) skewX(-12) scale(0.7,1)" font-size="25" text-anchor="middle" fill="#000" stroke="#fff" stroke-width="0.55" textLength="177.14" lengthAdjust="spacing">07–24–СК–КМ</text>
<text transform="translate(1282.08,1413.83) skewX(-13) scale(0.56,1)" font-size="21" text-anchor="start" fill="#000" stroke="#fff" stroke-width="0.46" textLength="528.57" lengthAdjust="spacing">Навес пристрой к зданию склада г. Чебоксары</text>
<text transform="translate(1282.08,1453.12) skewX(-13) scale(0.58,1)" font-size="21" text-anchor="start" fill="#000" stroke="#fff" stroke-width="0.46" textLength="293.1" lengthAdjust="spacingAndGlyphs">Каркас промышленного здания</text>
<text transform="translate(1477.54,1435.12) skewX(-15) scale(0.65,1)" font-size="10.5" text-anchor="middle" fill="#111111" textLength="47.69" lengthAdjust="spacingAndGlyphs">Стадия</text>
<text transform="translate(1515.56,1435.12) skewX(-15) scale(0.65,1)" font-size="10.5" text-anchor="middle" fill="#111111" textLength="30.77" lengthAdjust="spacingAndGlyphs">Лист</text>
<text transform="translate(1559.92,1435.12) skewX(-15) scale(0.65,1)" font-size="10.5" text-anchor="middle" fill="#111111" textLength="46.15" lengthAdjust="spacingAndGlyphs">Листов</text>
<text transform="translate(1476.54,1454.39) skewX(-15) scale(0.75,1)" font-size="18" text-anchor="middle" fill="#000" stroke="#fff" stroke-width="0.4">П</text>
<text transform="translate(1514.56,1454.39) skewX(-15) scale(0.75,1)" font-size="18" text-anchor="middle" fill="#000" stroke="#fff" stroke-width="0.4">7</text>
<text transform="translate(1484.41,1510.32) skewX(-15) scale(0.68,1)" font-size="11" text-anchor="start" fill="#111111" textLength="52.94" lengthAdjust="spacingAndGlyphs">Формат</text>
<text transform="translate(1535.11,1510.32) skewX(-15) scale(0.75,1)" font-size="11" text-anchor="start" fill="#111111" textLength="14.67" lengthAdjust="spacingAndGlyphs">А4</text>
<text transform="translate(1284,1488) skewX(-15) scale(0.72,1)" font-size="21" text-anchor="start" fill="#000" stroke="#fff" stroke-width="0.46" textLength="233.33" lengthAdjust="spacing">Ведомость элементов</text>
<line x1="1114.5" y1="803.5" x2="1583.3" y2="803.5" stroke="#3f82d2" stroke-width="1.5"/>
<line x1="1162.7" y1="829.6" x2="1441.3" y2="829.6" stroke="#3f82d2" stroke-width="1.4"/>
<line x1="1114.5" y1="854.6" x2="1583.3" y2="854.6" stroke="#3f82d2" stroke-width="1.5"/>
<line x1="1162.7" y1="803.5" x2="1162.7" y2="1361.1" stroke="#3f82d2" stroke-width="1.4"/>
<line x1="1322.5" y1="803.5" x2="1322.5" y2="1361.1" stroke="#3b3b3b" stroke-width="1.0"/>
<line x1="1441.3" y1="803.5" x2="1441.3" y2="1361.1" stroke="#3b3b3b" stroke-width="1.0"/>
<line x1="1522.5" y1="803.5" x2="1522.5" y2="1361.1" stroke="#3b3b3b" stroke-width="1.0"/>
<line x1="1246.6" y1="829.6" x2="1246.6" y2="1361.1" stroke="#3b3b3b" stroke-width="1.0"/>
<line x1="1269" y1="829.6" x2="1269" y2="1361.1" stroke="#3b3b3b" stroke-width="1.0"/>
<line x1="1367.7" y1="829.6" x2="1367.7" y2="1361.1" stroke="#3b3b3b" stroke-width="1.0"/>
<line x1="1403.5" y1="829.6" x2="1403.5" y2="1361.1" stroke="#3b3b3b" stroke-width="1.0"/>
<line x1="1114.5" y1="879.7" x2="1162.7" y2="879.7" stroke="#2f6fc0" stroke-width="1.0"/>
<line x1="1246.6" y1="879.7" x2="1583.3" y2="879.7" stroke="#3b3b3b" stroke-width="1.0"/>
<line x1="1114.5" y1="905.5" x2="1162.7" y2="905.5" stroke="#2f6fc0" stroke-width="1.0"/>
<line x1="1246.6" y1="905.5" x2="1583.3" y2="905.5" stroke="#3b3b3b" stroke-width="1.0"/>
<line x1="1114.5" y1="930.6" x2="1162.7" y2="930.6" stroke="#2f6fc0" stroke-width="1.0"/>
<line x1="1246.6" y1="930.6" x2="1583.3" y2="930.6" stroke="#3b3b3b" stroke-width="1.0"/>
<line x1="1114.5" y1="956.7" x2="1162.7" y2="956.7" stroke="#2f6fc0" stroke-width="1.0"/>
<line x1="1246.6" y1="956.7" x2="1583.3" y2="956.7" stroke="#3b3b3b" stroke-width="1.0"/>
<line x1="1114.5" y1="981.7" x2="1162.7" y2="981.7" stroke="#2f6fc0" stroke-width="1.0"/>
<line x1="1246.6" y1="981.7" x2="1583.3" y2="981.7" stroke="#3b3b3b" stroke-width="1.0"/>
<line x1="1114.5" y1="1006.8" x2="1162.7" y2="1006.8" stroke="#2f6fc0" stroke-width="1.0"/>
<line x1="1246.6" y1="1006.8" x2="1583.3" y2="1006.8" stroke="#3b3b3b" stroke-width="1.0"/>
<line x1="1114.5" y1="1032.5" x2="1162.7" y2="1032.5" stroke="#2f6fc0" stroke-width="1.0"/>
<line x1="1246.6" y1="1032.5" x2="1583.3" y2="1032.5" stroke="#3b3b3b" stroke-width="1.0"/>
<line x1="1114.5" y1="1057.6" x2="1162.7" y2="1057.6" stroke="#2f6fc0" stroke-width="1.0"/>
<line x1="1246.6" y1="1057.6" x2="1583.3" y2="1057.6" stroke="#3b3b3b" stroke-width="1.0"/>
<line x1="1114.5" y1="1083" x2="1162.7" y2="1083" stroke="#2f6fc0" stroke-width="1.0"/>
<line x1="1246.6" y1="1083" x2="1583.3" y2="1083" stroke="#3b3b3b" stroke-width="1.0"/>
<line x1="1114.5" y1="1108.1" x2="1162.7" y2="1108.1" stroke="#2f6fc0" stroke-width="1.0"/>
<line x1="1246.6" y1="1108.1" x2="1583.3" y2="1108.1" stroke="#3b3b3b" stroke-width="1.0"/>
<line x1="1114.5" y1="1128.8" x2="1162.7" y2="1128.8" stroke="#2f6fc0" stroke-width="1.0"/>
<line x1="1246.6" y1="1128.8" x2="1583.3" y2="1128.8" stroke="#3b3b3b" stroke-width="1.0"/>
<line x1="1114.5" y1="1151.6" x2="1162.7" y2="1151.6" stroke="#2f6fc0" stroke-width="1.0"/>
<line x1="1246.6" y1="1151.6" x2="1583.3" y2="1151.6" stroke="#3b3b3b" stroke-width="1.0"/>
<line x1="1114.5" y1="1174.6" x2="1162.7" y2="1174.6" stroke="#2f6fc0" stroke-width="1.0"/>
<line x1="1246.6" y1="1174.6" x2="1583.3" y2="1174.6" stroke="#3b3b3b" stroke-width="1.0"/>
<line x1="1114.5" y1="1199" x2="1162.7" y2="1199" stroke="#2f6fc0" stroke-width="1.0"/>
<line x1="1246.6" y1="1199" x2="1583.3" y2="1199" stroke="#3b3b3b" stroke-width="1.0"/>
<line x1="1114.5" y1="1223.5" x2="1162.7" y2="1223.5" stroke="#2f6fc0" stroke-width="1.0"/>
<line x1="1246.6" y1="1223.5" x2="1583.3" y2="1223.5" stroke="#3b3b3b" stroke-width="1.0"/>
<line x1="1114.5" y1="1247.6" x2="1162.7" y2="1247.6" stroke="#2f6fc0" stroke-width="1.0"/>
<line x1="1246.6" y1="1247.6" x2="1583.3" y2="1247.6" stroke="#3b3b3b" stroke-width="1.0"/>
<line x1="1114.5" y1="1270.8" x2="1162.7" y2="1270.8" stroke="#2f6fc0" stroke-width="1.0"/>
<line x1="1246.6" y1="1270.8" x2="1583.3" y2="1270.8" stroke="#3b3b3b" stroke-width="1.0"/>
<line x1="1114.5" y1="1295.2" x2="1162.7" y2="1295.2" stroke="#2f6fc0" stroke-width="1.0"/>
<line x1="1246.6" y1="1295.2" x2="1583.3" y2="1295.2" stroke="#3b3b3b" stroke-width="1.0"/>
<line x1="1114.5" y1="1319.3" x2="1162.7" y2="1319.3" stroke="#2f6fc0" stroke-width="1.0"/>
<line x1="1246.6" y1="1319.3" x2="1583.3" y2="1319.3" stroke="#3b3b3b" stroke-width="1.0"/>
<line x1="1114.5" y1="1339.3" x2="1162.7" y2="1339.3" stroke="#2f6fc0" stroke-width="1.0"/>
<line x1="1246.6" y1="1339.3" x2="1583.3" y2="1339.3" stroke="#3b3b3b" stroke-width="1.0"/>
<line x1="1162.7" y1="1108.1" x2="1246.6" y2="1108.1" stroke="#666" stroke-width="0.9"/>
<text transform="translate(1336,793.4) skewX(-15) scale(0.7,1)" font-size="12" text-anchor="middle" fill="#111111" textLength="128.57" lengthAdjust="spacingAndGlyphs">Ведомость элементов</text>
<text transform="translate(1138,826.5) skewX(-15) scale(0.7,1)" font-size="11.5" text-anchor="middle" fill="#111111" textLength="38.57" lengthAdjust="spacingAndGlyphs">Марка</text>
<text transform="translate(1138,840) skewX(-15) scale(0.7,1)" font-size="11.5" text-anchor="middle" fill="#111111" textLength="57.14" lengthAdjust="spacingAndGlyphs">элемента</text>
<text transform="translate(1241,821) skewX(-15) scale(0.7,1)" font-size="11.5" text-anchor="middle" fill="#111111" textLength="51.43" lengthAdjust="spacingAndGlyphs">Сечение</text>
<text transform="translate(1381,821) skewX(-15) scale(0.7,1)" font-size="11.5" text-anchor="middle" fill="#111111" textLength="132.86" lengthAdjust="spacingAndGlyphs">Усилия прикрепления</text>
<text transform="translate(1481,826.5) skewX(-15) scale(0.7,1)" font-size="11.5" text-anchor="middle" fill="#111111" textLength="110" lengthAdjust="spacingAndGlyphs">Наименование или</text>
<text transform="translate(1481,840) skewX(-15) scale(0.7,1)" font-size="11.5" text-anchor="middle" fill="#111111" textLength="95.71" lengthAdjust="spacingAndGlyphs">марка металла</text>
<text transform="translate(1552,833) skewX(-15) scale(0.7,1)" font-size="11.5" text-anchor="middle" fill="#111111" textLength="72.86" lengthAdjust="spacingAndGlyphs">Примечание</text>
<text transform="translate(1204,846.3) skewX(-15) scale(0.7,1)" font-size="11.5" text-anchor="middle" fill="#111111" textLength="37.14" lengthAdjust="spacingAndGlyphs">Эскиз</text>
<text transform="translate(1257.5,846.3) skewX(-15) scale(0.7,1)" font-size="11.5" text-anchor="middle" fill="#111111" textLength="24.29" lengthAdjust="spacingAndGlyphs">Поз.</text>
<text transform="translate(1295.5,846.3) skewX(-15) scale(0.7,1)" font-size="11.5" text-anchor="middle" fill="#111111" textLength="45.71" lengthAdjust="spacingAndGlyphs">Состав</text>
<text transform="translate(1345,846.3) skewX(-15) scale(0.7,1)" font-size="11.5" text-anchor="middle" fill="#111111" textLength="34.29" lengthAdjust="spacingAndGlyphs">А, кН</text>
<text transform="translate(1385.5,846.3) skewX(-15) scale(0.7,1)" font-size="11.5" text-anchor="middle" fill="#111111" textLength="32.86" lengthAdjust="spacingAndGlyphs">N, кН</text>
<text transform="translate(1422,846.3) skewX(-15) scale(0.7,1)" font-size="11.5" text-anchor="middle" fill="#111111" textLength="44.29" lengthAdjust="spacingAndGlyphs">М, кНм</text>
<text transform="translate(1138.5,872.15) skewX(-15) scale(0.68,1)" font-size="13" text-anchor="middle" fill="#111111">К1</text>
<text transform="translate(1257.5,872.15) skewX(-15) scale(0.68,1)" font-size="13" text-anchor="middle" fill="#111111">1</text>
<text transform="translate(1295.5,872.15) skewX(-15) scale(0.62,1)" font-size="13" text-anchor="middle" fill="#111111" textLength="79.03" lengthAdjust="spacingAndGlyphs">лист 10мм</text>
<text transform="translate(1345,871.65) skewX(-15) scale(0.7,1)" font-size="11" text-anchor="middle" fill="#111111">–</text>
<text transform="translate(1385.5,872.15) skewX(-15) scale(0.64,1)" font-size="13" text-anchor="middle" fill="#111111">–35,7</text>
<text transform="translate(1422.5,872.15) skewX(-15) scale(0.64,1)" font-size="13" text-anchor="middle" fill="#111111">7,94</text>
<text transform="translate(1481,872.15) skewX(-15) scale(0.68,1)" font-size="13" text-anchor="middle" fill="#111111">С235</text>
<text transform="translate(1138.5,897.6) skewX(-15) scale(0.68,1)" font-size="13" text-anchor="middle" fill="#111111">К2</text>
<text transform="translate(1345,897.1) skewX(-15) scale(0.7,1)" font-size="11" text-anchor="middle" fill="#111111">–</text>
<text transform="translate(1385.5,897.6) skewX(-15) scale(0.64,1)" font-size="13" text-anchor="middle" fill="#111111">–57,3</text>
<text transform="translate(1422.5,897.6) skewX(-15) scale(0.64,1)" font-size="13" text-anchor="middle" fill="#111111">–8,77</text>
<text transform="translate(1138.5,923.05) skewX(-15) scale(0.68,1)" font-size="13" text-anchor="middle" fill="#111111">К3</text>
<text transform="translate(1345,922.55) skewX(-15) scale(0.7,1)" font-size="11" text-anchor="middle" fill="#111111">–</text>
<text transform="translate(1385.5,923.05) skewX(-15) scale(0.64,1)" font-size="13" text-anchor="middle" fill="#111111">–79,8</text>
<text transform="translate(1422.5,923.05) skewX(-15) scale(0.64,1)" font-size="13" text-anchor="middle" fill="#111111">19,46</text>
<text transform="translate(1138.5,948.65) skewX(-15) scale(0.68,1)" font-size="13" text-anchor="middle" fill="#111111">К4</text>
<text transform="translate(1345,948.15) skewX(-15) scale(0.7,1)" font-size="11" text-anchor="middle" fill="#111111">–</text>
<text transform="translate(1385.5,948.65) skewX(-15) scale(0.64,1)" font-size="13" text-anchor="middle" fill="#111111">–61,5</text>
<text transform="translate(1422.5,948.65) skewX(-15) scale(0.64,1)" font-size="13" text-anchor="middle" fill="#111111">19,24</text>
<text transform="translate(1138.5,974.2) skewX(-15) scale(0.68,1)" font-size="13" text-anchor="middle" fill="#111111">К5</text>
<text transform="translate(1257.5,974.2) skewX(-15) scale(0.68,1)" font-size="13" text-anchor="middle" fill="#111111">2</text>
<rect x="1271.5" y="965.2" width="7.5" height="7.5" fill="none" stroke="#111111" stroke-width="0.9"/>
<text transform="translate(1281,974.2) skewX(-15) scale(0.62,1)" font-size="13" text-anchor="start" fill="#111111" textLength="62.9" lengthAdjust="spacingAndGlyphs">160х160х5</text>
<text transform="translate(1345,973.7) skewX(-15) scale(0.7,1)" font-size="11" text-anchor="middle" fill="#111111">–</text>
<text transform="translate(1385.5,974.2) skewX(-15) scale(0.64,1)" font-size="13" text-anchor="middle" fill="#111111">–50,87</text>
<text transform="translate(1422.5,974.2) skewX(-15) scale(0.64,1)" font-size="13" text-anchor="middle" fill="#111111">19,27</text>
<text transform="translate(1481,974.2) skewX(-15) scale(0.68,1)" font-size="13" text-anchor="middle" fill="#111111">С235</text>
<text transform="translate(1138.5,999.25) skewX(-15) scale(0.68,1)" font-size="13" text-anchor="middle" fill="#111111">К6</text>
<text transform="translate(1345,998.75) skewX(-15) scale(0.7,1)" font-size="11" text-anchor="middle" fill="#111111">–</text>
<text transform="translate(1385.5,999.25) skewX(-15) scale(0.64,1)" font-size="13" text-anchor="middle" fill="#111111">–32</text>
<text transform="translate(1422.5,999.25) skewX(-15) scale(0.64,1)" font-size="13" text-anchor="middle" fill="#111111">12</text>
<text transform="translate(1138.5,1024.65) skewX(-15) scale(0.68,1)" font-size="13" text-anchor="middle" fill="#111111">К7</text>
<text transform="translate(1345,1024.15) skewX(-15) scale(0.7,1)" font-size="11" text-anchor="middle" fill="#111111">–</text>
<text transform="translate(1385.5,1024.65) skewX(-15) scale(0.64,1)" font-size="13" text-anchor="middle" fill="#111111">–27,3</text>
<text transform="translate(1422.5,1024.65) skewX(-15) scale(0.64,1)" font-size="13" text-anchor="middle" fill="#111111">–12,97</text>
<text transform="translate(1138.5,1050.05) skewX(-15) scale(0.68,1)" font-size="13" text-anchor="middle" fill="#111111">К8</text>
<text transform="translate(1257.5,1050.05) skewX(-15) scale(0.68,1)" font-size="13" text-anchor="middle" fill="#111111">3</text>
<text transform="translate(1295.5,1050.05) skewX(-15) scale(0.62,1)" font-size="13" text-anchor="middle" fill="#111111" textLength="79.03" lengthAdjust="spacingAndGlyphs">Лист 10мм</text>
<text transform="translate(1345,1049.55) skewX(-15) scale(0.7,1)" font-size="11" text-anchor="middle" fill="#111111">–</text>
<text transform="translate(1385.5,1050.05) skewX(-15) scale(0.64,1)" font-size="13" text-anchor="middle" fill="#111111">–41,61</text>
<text transform="translate(1422.5,1050.05) skewX(-15) scale(0.64,1)" font-size="13" text-anchor="middle" fill="#111111">–19,33</text>
<text transform="translate(1481,1050.05) skewX(-15) scale(0.68,1)" font-size="13" text-anchor="middle" fill="#111111">С235</text>
<text transform="translate(1138.5,1075.3) skewX(-15) scale(0.68,1)" font-size="13" text-anchor="middle" fill="#111111">К9</text>
<text transform="translate(1345,1074.8) skewX(-15) scale(0.7,1)" font-size="11" text-anchor="middle" fill="#111111">–</text>
<text transform="translate(1385.5,1075.3) skewX(-15) scale(0.64,1)" font-size="13" text-anchor="middle" fill="#111111">–49,34</text>
<text transform="translate(1422.5,1075.3) skewX(-15) scale(0.64,1)" font-size="13" text-anchor="middle" fill="#111111">–17,97</text>
<text transform="translate(1138.5,1100.55) skewX(-15) scale(0.68,1)" font-size="13" text-anchor="middle" fill="#111111">К10</text>
<text transform="translate(1345,1100.05) skewX(-15) scale(0.7,1)" font-size="11" text-anchor="middle" fill="#111111">–</text>
<text transform="translate(1385.5,1100.55) skewX(-15) scale(0.64,1)" font-size="13" text-anchor="middle" fill="#111111">–63,81</text>
<text transform="translate(1422.5,1100.55) skewX(-15) scale(0.64,1)" font-size="13" text-anchor="middle" fill="#111111">–23,92</text>
<text transform="translate(1138.5,1123.45) skewX(-15) scale(0.68,1)" font-size="13" text-anchor="middle" fill="#111111">Б1</text>
<text transform="translate(1257.5,1123.45) skewX(-15) scale(0.68,1)" font-size="13" text-anchor="middle" fill="#111111">1</text>
<line x1="1274" y1="1114.45" x2="1279" y2="1114.45" stroke="#3f82d2" stroke-width="1.2"/>
<line x1="1274" y1="1123.45" x2="1279" y2="1123.45" stroke="#3f82d2" stroke-width="1.2"/>
<line x1="1276.5" y1="1114.45" x2="1276.5" y2="1123.45" stroke="#3f82d2" stroke-width="1.2"/>
<text transform="translate(1285,1122.45) skewX(-15) scale(0.68,1)" font-size="13" text-anchor="start" fill="#111111" textLength="29.41" lengthAdjust="spacingAndGlyphs">25Б1</text>
<text transform="translate(1345,1122.95) skewX(-15) scale(0.7,1)" font-size="11" text-anchor="middle" fill="#111111">–</text>
<text transform="translate(1385.5,1123.45) skewX(-15) scale(0.64,1)" font-size="13" text-anchor="middle" fill="#111111">–4,89</text>
<text transform="translate(1422.5,1123.45) skewX(-15) scale(0.64,1)" font-size="13" text-anchor="middle" fill="#111111">25,85</text>
<text transform="translate(1481,1123.45) skewX(-15) scale(0.68,1)" font-size="13" text-anchor="middle" fill="#111111">С235</text>
<text transform="translate(1138.5,1145.2) skewX(-15) scale(0.68,1)" font-size="13" text-anchor="middle" fill="#111111">Б2</text>
<text transform="translate(1345,1144.7) skewX(-15) scale(0.7,1)" font-size="11" text-anchor="middle" fill="#111111">–</text>
<text transform="translate(1385.5,1145.2) skewX(-15) scale(0.64,1)" font-size="13" text-anchor="middle" fill="#111111">–4,99</text>
<text transform="translate(1422.5,1145.2) skewX(-15) scale(0.64,1)" font-size="13" text-anchor="middle" fill="#111111">16,22</text>
<text transform="translate(1138.5,1168.1) skewX(-15) scale(0.68,1)" font-size="13" text-anchor="middle" fill="#111111">Б3</text>
<text transform="translate(1257.5,1168.1) skewX(-15) scale(0.68,1)" font-size="13" text-anchor="middle" fill="#111111">2</text>
<text transform="translate(1295.5,1168.1) skewX(-15) scale(0.62,1)" font-size="13" text-anchor="middle" fill="#111111" textLength="79.03" lengthAdjust="spacingAndGlyphs">Лист 10мм</text>
<text transform="translate(1345,1167.6) skewX(-15) scale(0.7,1)" font-size="11" text-anchor="middle" fill="#111111">–</text>
<text transform="translate(1385.5,1168.1) skewX(-15) scale(0.64,1)" font-size="13" text-anchor="middle" fill="#111111">–12,67</text>
<text transform="translate(1422.5,1168.1) skewX(-15) scale(0.64,1)" font-size="13" text-anchor="middle" fill="#111111">–16,8</text>
<text transform="translate(1481,1168.1) skewX(-15) scale(0.68,1)" font-size="13" text-anchor="middle" fill="#111111">С235</text>
<text transform="translate(1138.5,1191.8) skewX(-15) scale(0.68,1)" font-size="13" text-anchor="middle" fill="#111111">Б4</text>
<text transform="translate(1345,1191.3) skewX(-15) scale(0.7,1)" font-size="11" text-anchor="middle" fill="#111111">–</text>
<text transform="translate(1385.5,1191.8) skewX(-15) scale(0.64,1)" font-size="13" text-anchor="middle" fill="#111111">–5,52</text>
<text transform="translate(1422.5,1191.8) skewX(-15) scale(0.64,1)" font-size="13" text-anchor="middle" fill="#111111">22,76</text>
<text transform="translate(1138.5,1216.25) skewX(-15) scale(0.68,1)" font-size="13" text-anchor="middle" fill="#111111">Б5</text>
<text transform="translate(1345,1215.75) skewX(-15) scale(0.7,1)" font-size="11" text-anchor="middle" fill="#111111">–</text>
<text transform="translate(1385.5,1216.25) skewX(-15) scale(0.64,1)" font-size="13" text-anchor="middle" fill="#111111">–6,23</text>
<text transform="translate(1422.5,1216.25) skewX(-15) scale(0.64,1)" font-size="13" text-anchor="middle" fill="#111111">19,84</text>
<text transform="translate(1138.5,1240.55) skewX(-15) scale(0.68,1)" font-size="13" text-anchor="middle" fill="#111111">Б6</text>
<text transform="translate(1345,1240.05) skewX(-15) scale(0.7,1)" font-size="11" text-anchor="middle" fill="#111111">–</text>
<text transform="translate(1385.5,1240.55) skewX(-15) scale(0.64,1)" font-size="13" text-anchor="middle" fill="#111111">–0,53</text>
<text transform="translate(1422.5,1240.55) skewX(-15) scale(0.64,1)" font-size="13" text-anchor="middle" fill="#111111">–0,95</text>
<text transform="translate(1138.5,1264.2) skewX(-15) scale(0.68,1)" font-size="13" text-anchor="middle" fill="#111111">Б7</text>
<text transform="translate(1345,1263.7) skewX(-15) scale(0.7,1)" font-size="11" text-anchor="middle" fill="#111111">–</text>
<text transform="translate(1385.5,1264.2) skewX(-15) scale(0.64,1)" font-size="13" text-anchor="middle" fill="#111111">–0,61</text>
<text transform="translate(1422.5,1264.2) skewX(-15) scale(0.64,1)" font-size="13" text-anchor="middle" fill="#111111">–6,34</text>
<text transform="translate(1138.5,1288) skewX(-15) scale(0.68,1)" font-size="13" text-anchor="middle" fill="#111111">Б8</text>
<text transform="translate(1345,1287.5) skewX(-15) scale(0.7,1)" font-size="11" text-anchor="middle" fill="#111111">–</text>
<text transform="translate(1385.5,1288) skewX(-15) scale(0.64,1)" font-size="13" text-anchor="middle" fill="#111111">–2,38</text>
<text transform="translate(1422.5,1288) skewX(-15) scale(0.64,1)" font-size="13" text-anchor="middle" fill="#111111">–7,96</text>
<text transform="translate(1138.5,1312.25) skewX(-15) scale(0.68,1)" font-size="13" text-anchor="middle" fill="#111111">Б9</text>
<text transform="translate(1345,1311.75) skewX(-15) scale(0.7,1)" font-size="11" text-anchor="middle" fill="#111111">–</text>
<text transform="translate(1385.5,1312.25) skewX(-15) scale(0.64,1)" font-size="13" text-anchor="middle" fill="#111111">0,13</text>
<text transform="translate(1422.5,1312.25) skewX(-15) scale(0.64,1)" font-size="13" text-anchor="middle" fill="#111111">–4,13</text>
<text transform="translate(1138.5,1334.3) skewX(-15) scale(0.68,1)" font-size="13" text-anchor="middle" fill="#111111">Б10</text>
<text transform="translate(1345,1333.8) skewX(-15) scale(0.7,1)" font-size="11" text-anchor="middle" fill="#111111">–</text>
<text transform="translate(1385.5,1334.3) skewX(-15) scale(0.64,1)" font-size="13" text-anchor="middle" fill="#111111">–0,98</text>
<text transform="translate(1422.5,1334.3) skewX(-15) scale(0.64,1)" font-size="13" text-anchor="middle" fill="#111111">–4,32</text>
<text transform="translate(1138.5,1355.2) skewX(-15) scale(0.68,1)" font-size="13" text-anchor="middle" fill="#111111">Б11</text>
<text transform="translate(1345,1354.7) skewX(-15) scale(0.7,1)" font-size="11" text-anchor="middle" fill="#111111">–</text>
<text transform="translate(1385.5,1355.2) skewX(-15) scale(0.64,1)" font-size="13" text-anchor="middle" fill="#111111">0,08</text>
<text transform="translate(1422.5,1355.2) skewX(-15) scale(0.64,1)" font-size="13" text-anchor="middle" fill="#111111">0,2</text>
<polygon points="1181.4,883.7 1212.2,886.4 1212.2,889.8 1181.4,887.1" fill="none" stroke="#3f82d2" stroke-width="1.4"/>
<line x1="1193.1" y1="888.5" x2="1193.1" y2="1086.4" stroke="#3f82d2" stroke-width="1.1"/>
<line x1="1212.2" y1="889.8" x2="1212.2" y2="1086.4" stroke="#3f82d2" stroke-width="1.1"/>
<rect x="1182" y="1086.4" width="41.9" height="4" fill="none" stroke="#3f82d2" stroke-width="1.4"/>
<circle cx="1203.1" cy="886.1" r="1.7" fill="#111"/>
<line x1="1203.1" y1="886.1" x2="1217.2" y2="875.4" stroke="#111111" stroke-width="0.9"/>
<line x1="1217.2" y1="875.4" x2="1227.9" y2="875.4" stroke="#555555" stroke-width="0.9"/>
<text transform="translate(1218.5,872.4) skewX(-15) scale(0.68,1)" font-size="9" text-anchor="start" fill="#111111">1</text>
<circle cx="1203.8" cy="943.3" r="1.7" fill="#111"/>
<line x1="1203.8" y1="943.3" x2="1217.2" y2="968" stroke="#111111" stroke-width="0.9"/>
<line x1="1217.2" y1="968" x2="1233.9" y2="968" stroke="#555555" stroke-width="0.9"/>
<text transform="translate(1225,965) skewX(-15) scale(0.68,1)" font-size="9" text-anchor="start" fill="#111111">2</text>
<circle cx="1203.1" cy="1088.7" r="1.7" fill="#111"/>
<line x1="1203.1" y1="1088.7" x2="1222.2" y2="1103.7" stroke="#111111" stroke-width="0.9"/>
<line x1="1222.2" y1="1103.7" x2="1239.6" y2="1103.7" stroke="#555555" stroke-width="0.9"/>
<text transform="translate(1230.5,1100.7) skewX(-15) scale(0.68,1)" font-size="9" text-anchor="start" fill="#111111">3</text>
<rect x="1192.1" y="1130.5" width="25.1" height="41.8" fill="none" stroke="#3f82d2" stroke-width="2.2"/>
<line x1="1204.8" y1="1130.5" x2="1204.8" y2="1172.3" stroke="#3f82d2" stroke-width="1.5"/>
<line x1="1194.5" y1="1132.5" x2="1194.5" y2="1170.5" stroke="#3f82d2" stroke-width="1.0"/>
<circle cx="1203.1" cy="1131.5" r="1.7" fill="#111"/>
<line x1="1203.1" y1="1131.5" x2="1211.2" y2="1124.5" stroke="#111111" stroke-width="0.9"/>
<line x1="1211.2" y1="1124.5" x2="1225.5" y2="1124.5" stroke="#555555" stroke-width="0.9"/>
<text transform="translate(1217,1121.5) skewX(-15) scale(0.68,1)" font-size="9" text-anchor="start" fill="#111111">1</text>
<circle cx="1216.2" cy="1156.3" r="1.7" fill="#111"/>
<line x1="1216.2" y1="1156.3" x2="1228.9" y2="1164.6" stroke="#111111" stroke-width="0.9"/>
<line x1="1228.9" y1="1164.6" x2="1238.9" y2="1164.6" stroke="#555555" stroke-width="0.9"/>
<text transform="translate(1230,1161.6) skewX(-15) scale(0.68,1)" font-size="9" text-anchor="start" fill="#111111">2</text>
<circle cx="1193.1" cy="1165" r="1.6" fill="#111"/>
<line x1="1193.1" y1="1165" x2="1183.7" y2="1173.3" stroke="#111111" stroke-width="0.8"/>
<line x1="1167" y1="1173.3" x2="1183.7" y2="1173.3" stroke="#555555" stroke-width="0.8"/>
<text transform="translate(1172,1169.5) skewX(-15) scale(0.68,1)" font-size="9" text-anchor="start" fill="#111111">2</text>
<circle cx="1198.8" cy="1161.6" r="1.7" fill="#111"/>
<line x1="1198.8" y1="1161.6" x2="1212.2" y2="1190.7" stroke="#111111" stroke-width="0.9"/>
<line x1="1212.2" y1="1190.7" x2="1228.9" y2="1190.7" stroke="#555555" stroke-width="0.9"/>
<text transform="translate(1219,1187.7) skewX(-15) scale(0.68,1)" font-size="9" text-anchor="start" fill="#111111">2</text>
<line x1="1191.4" y1="1202.4" x2="1202" y2="1202.4" stroke="#111111" stroke-width="0.9"/>
<polyline points="1202,1202.4 1205,1198.4 1207.5,1206.4 1210,1202.4" fill="none" stroke="#111111" stroke-width="0.9"/>
<line x1="1210" y1="1202.4" x2="1221.5" y2="1202.4" stroke="#111111" stroke-width="0.9"/>
<line x1="1191.4" y1="1295.2" x2="1202" y2="1295.2" stroke="#111111" stroke-width="0.9"/>
<polyline points="1202,1295.2 1205,1291.2 1207.5,1299.2 1210,1295.2" fill="none" stroke="#111111" stroke-width="0.9"/>
<line x1="1210" y1="1295.2" x2="1221.5" y2="1295.2" stroke="#111111" stroke-width="0.9"/>
<line x1="1198.1" y1="1202.4" x2="1198.1" y2="1295.2" stroke="#3f82d2" stroke-width="1.3"/>
<line x1="1213.8" y1="1202.4" x2="1213.8" y2="1295.2" stroke="#3f82d2" stroke-width="1.3"/>
<line x1="1205.5" y1="1202.4" x2="1205.5" y2="1295.2" stroke="#ebc68e" stroke-width="1.25" stroke-dasharray="8 2 2 2"/>
<line x1="1215.5" y1="1229.2" x2="1215.5" y2="1260" stroke="#3f82d2" stroke-width="2.2"/>
<line x1="1196.5" y1="1256.7" x2="1196.5" y2="1286.8" stroke="#3f82d2" stroke-width="2.2"/>
<circle cx="1204.5" cy="1239.2" r="1.6" fill="#111"/>
<line x1="1204.5" y1="1239.2" x2="1192.1" y2="1229.2" stroke="#111111" stroke-width="0.8"/>
<line x1="1172.7" y1="1229.2" x2="1192.1" y2="1229.2" stroke="#555555" stroke-width="0.8"/>
<text transform="translate(1178,1225.5) skewX(-15) scale(0.68,1)" font-size="9" text-anchor="start" fill="#111111">1</text>
<circle cx="1215.5" cy="1250.2" r="1.7" fill="#111"/>
<line x1="1215.5" y1="1250.2" x2="1223.9" y2="1255.9" stroke="#111111" stroke-width="0.9"/>
<line x1="1223.9" y1="1255.9" x2="1238.9" y2="1255.9" stroke="#555555" stroke-width="0.9"/>
<text transform="translate(1228,1252.9) skewX(-15) scale(0.68,1)" font-size="9" text-anchor="start" fill="#111111">2</text>
<circle cx="1197.1" cy="1270.8" r="1.6" fill="#111"/>
<line x1="1197.1" y1="1270.8" x2="1187.1" y2="1273.4" stroke="#111111" stroke-width="0.8"/>
<line x1="1171.4" y1="1273.4" x2="1187.1" y2="1273.4" stroke="#555555" stroke-width="0.8"/>
<text transform="translate(1176,1269.6) skewX(-15) scale(0.68,1)" font-size="9" text-anchor="start" fill="#111111">2</text>
<rect x="310.3" y="1516.5" width="1065" height="751.6" fill="none" stroke="#b0b0b0" stroke-width="1.6"/>
<rect x="360.9" y="1528.9" width="1001.7" height="726.9" fill="none" stroke="#3f82d2" stroke-width="1.6"/>
<line x1="330.48" y1="2040.33" x2="330.48" y2="2255.8" stroke="#3f82d2" stroke-width="1.4"/>
<line x1="343.15" y1="2040.33" x2="343.15" y2="2255.8" stroke="#3f82d2" stroke-width="1.4"/>
<line x1="330.48" y1="2255.8" x2="360.9" y2="2255.8" stroke="#3f82d2" stroke-width="1.4"/>
<line x1="330.48" y1="2192.43" x2="360.9" y2="2192.43" stroke="#3f82d2" stroke-width="1.4"/>
<line x1="330.48" y1="2103.7" x2="360.9" y2="2103.7" stroke="#3f82d2" stroke-width="1.4"/>
<line x1="330.48" y1="2040.33" x2="360.9" y2="2040.33" stroke="#3f82d2" stroke-width="1.4"/>
<text transform="translate(341.65,2252.8) rotate(-90) skewX(-15) scale(0.72,1)" font-size="11" text-anchor="start" fill="#111111" textLength="79.17" lengthAdjust="spacingAndGlyphs">Инв. № подл.</text>
<text transform="translate(341.65,2177.43) rotate(-90) skewX(-15) scale(0.72,1)" font-size="11" text-anchor="start" fill="#111111" textLength="79.17" lengthAdjust="spacingAndGlyphs">Подп. и дата</text>
<text transform="translate(341.65,2101.7) rotate(-90) skewX(-15) scale(0.72,1)" font-size="11" text-anchor="start" fill="#111111" textLength="80.56" lengthAdjust="spacingAndGlyphs">Взам. инв. №</text>
<line x1="322.88" y1="1875.55" x2="322.88" y2="2040.33" stroke="#3f82d2" stroke-width="1.4"/>
<line x1="335.55" y1="1875.55" x2="335.55" y2="2040.33" stroke="#3f82d2" stroke-width="1.4"/>
<line x1="348.22" y1="1875.55" x2="348.22" y2="2040.33" stroke="#555" stroke-width="1.0"/>
<line x1="322.88" y1="1875.55" x2="360.9" y2="1875.55" stroke="#3f82d2" stroke-width="1.4"/>
<line x1="322.88" y1="2040.33" x2="360.9" y2="2040.33" stroke="#3f82d2" stroke-width="1.4"/>
<line x1="335.55" y1="1989.63" x2="360.9" y2="1989.63" stroke="#3f82d2" stroke-width="1.4"/>
<line x1="335.55" y1="1938.93" x2="360.9" y2="1938.93" stroke="#3f82d2" stroke-width="1.4"/>
<line x1="335.55" y1="1900.9" x2="360.9" y2="1900.9" stroke="#3f82d2" stroke-width="1.4"/>
<text transform="translate(334.05,2037.33) rotate(-90) skewX(-15) scale(0.72,1)" font-size="11" text-anchor="start" fill="#111111" textLength="76.39" lengthAdjust="spacingAndGlyphs">Согласовано</text>
<line x1="893.2" y1="2128.98" x2="1057.98" y2="2128.98" stroke="#607080" stroke-width="0.9"/>
<line x1="893.2" y1="2141.65" x2="1057.98" y2="2141.65" stroke="#607080" stroke-width="0.9"/>
<line x1="893.2" y1="2154.33" x2="1057.98" y2="2154.33" stroke="#607080" stroke-width="0.9"/>
<line x1="893.2" y1="2167" x2="1057.98" y2="2167" stroke="#3f82d2" stroke-width="1.1"/>
<line x1="893.2" y1="2179.68" x2="1057.98" y2="2179.68" stroke="#3f82d2" stroke-width="1.6"/>
<line x1="893.2" y1="2192.35" x2="1057.98" y2="2192.35" stroke="#607080" stroke-width="0.9"/>
<line x1="893.2" y1="2205.03" x2="1057.98" y2="2205.03" stroke="#607080" stroke-width="0.9"/>
<line x1="893.2" y1="2217.7" x2="1057.98" y2="2217.7" stroke="#607080" stroke-width="0.9"/>
<line x1="893.2" y1="2230.38" x2="1057.98" y2="2230.38" stroke="#607080" stroke-width="0.9"/>
<line x1="893.2" y1="2243.05" x2="1057.98" y2="2243.05" stroke="#607080" stroke-width="0.9"/>
<line x1="918.55" y1="2116.3" x2="918.55" y2="2179.68" stroke="#3f82d2" stroke-width="1.2"/>
<line x1="943.9" y1="2116.3" x2="943.9" y2="2179.68" stroke="#3f82d2" stroke-width="1.2"/>
<line x1="969.25" y1="2116.3" x2="969.25" y2="2179.68" stroke="#3f82d2" stroke-width="1.2"/>
<line x1="994.6" y1="2116.3" x2="994.6" y2="2179.68" stroke="#3f82d2" stroke-width="1.2"/>
<line x1="1032.62" y1="2116.3" x2="1032.62" y2="2179.68" stroke="#3f82d2" stroke-width="1.2"/>
<line x1="943.9" y1="2179.68" x2="943.9" y2="2255.73" stroke="#3f82d2" stroke-width="1.2"/>
<line x1="994.6" y1="2179.68" x2="994.6" y2="2255.73" stroke="#3f82d2" stroke-width="1.2"/>
<line x1="1032.62" y1="2179.68" x2="1032.62" y2="2255.73" stroke="#3f82d2" stroke-width="1.2"/>
<line x1="893.2" y1="2116.3" x2="893.2" y2="2255.73" stroke="#3f82d2" stroke-width="1.6"/>
<line x1="1057.98" y1="2116.3" x2="1057.98" y2="2255.73" stroke="#3f82d2" stroke-width="1.6"/>
<line x1="893.2" y1="2116.3" x2="1362.18" y2="2116.3" stroke="#3f82d2" stroke-width="1.6"/>
<line x1="1057.98" y1="2141.65" x2="1362.18" y2="2141.65" stroke="#3f82d2" stroke-width="1.5"/>
<line x1="1057.98" y1="2179.68" x2="1362.18" y2="2179.68" stroke="#3f82d2" stroke-width="1.5"/>
<line x1="1057.98" y1="2217.7" x2="1362.18" y2="2217.7" stroke="#3f82d2" stroke-width="1.5"/>
<line x1="1235.43" y1="2192.35" x2="1362.18" y2="2192.35" stroke="#3f82d2" stroke-width="1.4"/>
<line x1="1235.43" y1="2179.68" x2="1235.43" y2="2255.73" stroke="#3f82d2" stroke-width="1.5"/>
<line x1="1273.45" y1="2179.68" x2="1273.45" y2="2217.7" stroke="#3f82d2" stroke-width="1.4"/>
<line x1="1311.48" y1="2179.68" x2="1311.48" y2="2217.7" stroke="#3f82d2" stroke-width="1.4"/>
<text transform="translate(906.38,2177.65) skewX(-15) scale(0.62,1)" font-size="12" text-anchor="middle" fill="#111111" textLength="27.42" lengthAdjust="spacingAndGlyphs">Изм.</text>
<text transform="translate(931.73,2177.65) skewX(-15) scale(0.62,1)" font-size="12" text-anchor="middle" fill="#111111" textLength="35.48" lengthAdjust="spacingAndGlyphs">Кол.уч</text>
<text transform="translate(957.08,2177.65) skewX(-15) scale(0.62,1)" font-size="12" text-anchor="middle" fill="#111111" textLength="30.65" lengthAdjust="spacingAndGlyphs">Лист</text>
<text transform="translate(982.43,2177.65) skewX(-15) scale(0.62,1)" font-size="12" text-anchor="middle" fill="#111111" textLength="35.48" lengthAdjust="spacingAndGlyphs">№док.</text>
<text transform="translate(1014.11,2177.65) skewX(-15) scale(0.62,1)" font-size="12" text-anchor="middle" fill="#111111" textLength="33.87" lengthAdjust="spacingAndGlyphs">Подп.</text>
<text transform="translate(1045.8,2177.65) skewX(-15) scale(0.62,1)" font-size="12" text-anchor="middle" fill="#111111" textLength="32.26" lengthAdjust="spacingAndGlyphs">Дата</text>
<text transform="translate(1210.08,2138.1) skewX(-12) scale(0.7,1)" font-size="25" text-anchor="middle" fill="#000" stroke="#fff" stroke-width="0.55" textLength="177.14" lengthAdjust="spacing">07–24–СК–КМ</text>
<text transform="translate(1060.98,2169.03) skewX(-13) scale(0.56,1)" font-size="21" text-anchor="start" fill="#000" stroke="#fff" stroke-width="0.46" textLength="528.57" lengthAdjust="spacing">Навес пристрой к зданию склада г. Чебоксары</text>
<text transform="translate(1060.98,2208.32) skewX(-13) scale(0.58,1)" font-size="21" text-anchor="start" fill="#000" stroke="#fff" stroke-width="0.46" textLength="293.1" lengthAdjust="spacingAndGlyphs">Каркас промышленного здания</text>
<text transform="translate(1256.44,2190.32) skewX(-15) scale(0.65,1)" font-size="10.5" text-anchor="middle" fill="#111111" textLength="47.69" lengthAdjust="spacingAndGlyphs">Стадия</text>
<text transform="translate(1294.46,2190.32) skewX(-15) scale(0.65,1)" font-size="10.5" text-anchor="middle" fill="#111111" textLength="30.77" lengthAdjust="spacingAndGlyphs">Лист</text>
<text transform="translate(1338.83,2190.32) skewX(-15) scale(0.65,1)" font-size="10.5" text-anchor="middle" fill="#111111" textLength="46.15" lengthAdjust="spacingAndGlyphs">Листов</text>
<text transform="translate(1255.44,2209.59) skewX(-15) scale(0.75,1)" font-size="18" text-anchor="middle" fill="#000" stroke="#fff" stroke-width="0.4">П</text>
<text transform="translate(1293.46,2209.59) skewX(-15) scale(0.75,1)" font-size="18" text-anchor="middle" fill="#000" stroke="#fff" stroke-width="0.4">5</text>
<text transform="translate(1263.31,2265.53) skewX(-15) scale(0.68,1)" font-size="11" text-anchor="start" fill="#111111" textLength="52.94" lengthAdjust="spacingAndGlyphs">Формат</text>
<text transform="translate(1314.01,2265.53) skewX(-15) scale(0.75,1)" font-size="11" text-anchor="start" fill="#111111" textLength="14.67" lengthAdjust="spacingAndGlyphs">А3</text>
<text transform="translate(1147,2229.7) skewX(-15) scale(0.7,1)" font-size="10.5" text-anchor="middle" fill="#111111" textLength="127.14" lengthAdjust="spacingAndGlyphs">Схема расположения</text>
<text transform="translate(1147,2240.6) skewX(-15) scale(0.7,1)" font-size="10.5" text-anchor="middle" fill="#111111" textLength="152.86" lengthAdjust="spacingAndGlyphs">горизонтальных связей.</text>
<text transform="translate(1147,2251.6) skewX(-15) scale(0.7,1)" font-size="10.5" text-anchor="middle" fill="#111111" textLength="148.57" lengthAdjust="spacingAndGlyphs">Спецификация проката</text>
<line x1="440.3" y1="1545" x2="440.3" y2="1875" stroke="#ebc68e" stroke-width="1.25" stroke-dasharray="52 2 3 2"/>
<line x1="581.2" y1="1545" x2="581.2" y2="1875" stroke="#ebc68e" stroke-width="1.25" stroke-dasharray="52 2 3 2"/>
<line x1="783.5" y1="1545" x2="783.5" y2="1875" stroke="#ebc68e" stroke-width="1.25" stroke-dasharray="52 2 3 2"/>
<line x1="986.4" y1="1545" x2="986.4" y2="1875" stroke="#ebc68e" stroke-width="1.25" stroke-dasharray="52 2 3 2"/>
<line x1="1091.3" y1="1545" x2="1091.3" y2="1875" stroke="#ebc68e" stroke-width="1.25" stroke-dasharray="52 2 3 2"/>
<line x1="1246.8" y1="1545" x2="1246.8" y2="1875" stroke="#ebc68e" stroke-width="1.25" stroke-dasharray="52 2 3 2"/>
<circle cx="440.3" cy="1886" r="10.9" fill="#fff" stroke="#3a3a3a" stroke-width="0.95"/>
<text transform="translate(440.6,1890.55) skewX(-15) scale(0.644,1)" font-size="12.09" text-anchor="middle" fill="#222">1</text>
<circle cx="581.2" cy="1886" r="10.9" fill="#fff" stroke="#3a3a3a" stroke-width="0.95"/>
<text transform="translate(581.5,1890.55) skewX(-15) scale(0.644,1)" font-size="12.09" text-anchor="middle" fill="#222">2</text>
<circle cx="783.5" cy="1886" r="10.9" fill="#fff" stroke="#3a3a3a" stroke-width="0.95"/>
<text transform="translate(783.8,1890.55) skewX(-15) scale(0.644,1)" font-size="12.09" text-anchor="middle" fill="#222">3</text>
<circle cx="986.4" cy="1886" r="10.9" fill="#fff" stroke="#3a3a3a" stroke-width="0.95"/>
<text transform="translate(986.7,1890.55) skewX(-15) scale(0.644,1)" font-size="12.09" text-anchor="middle" fill="#222">4</text>
<circle cx="1091.3" cy="1886" r="10.9" fill="#fff" stroke="#3a3a3a" stroke-width="0.95"/>
<text transform="translate(1091.6,1890.55) skewX(-15) scale(0.644,1)" font-size="12.09" text-anchor="middle" fill="#222">5</text>
<circle cx="1246.8" cy="1886" r="10.9" fill="#fff" stroke="#3a3a3a" stroke-width="0.95"/>
<text transform="translate(1247.1,1890.55) skewX(-15) scale(0.644,1)" font-size="12.09" text-anchor="middle" fill="#222">6</text>
<line x1="394" y1="1569" x2="1295" y2="1569" stroke="#ebc68e" stroke-width="1.25" stroke-dasharray="52 2 3 2"/>
<line x1="394" y1="1573.7" x2="1295" y2="1573.7" stroke="#ebc68e" stroke-width="1.25" stroke-dasharray="52 2 3 2"/>
<line x1="392" y1="1782.5" x2="1295" y2="1782.5" stroke="#ebc68e" stroke-width="1.25" stroke-dasharray="52 2 3 2"/>
<circle cx="376.5" cy="1548.9" r="11" fill="#fff" stroke="#3a3a3a" stroke-width="0.95"/>
<text transform="translate(376.8,1553.1) skewX(-15) scale(0.5704,1)" font-size="11.16" text-anchor="middle" fill="#222">Б2</text>
<circle cx="376.5" cy="1574.5" r="11" fill="#fff" stroke="#3a3a3a" stroke-width="0.95"/>
<text transform="translate(376.8,1579.05) skewX(-15) scale(0.644,1)" font-size="12.09" text-anchor="middle" fill="#222">Б</text>
<circle cx="381.2" cy="1782.2" r="11" fill="#fff" stroke="#3a3a3a" stroke-width="0.95"/>
<text transform="translate(381.5,1786.75) skewX(-15) scale(0.644,1)" font-size="12.09" text-anchor="middle" fill="#222">А</text>
<polyline points="387.5,1548.9 402.6,1548.9 423.25,1569" fill="none" stroke="#ebc68e" stroke-width="1.0"/>
<line x1="408.1" y1="1565" x2="408.1" y2="1786" stroke="#555555" stroke-width="0.9"/>
<line x1="404.6" y1="1571.7" x2="411.6" y2="1564.7" stroke="#3f82d2" stroke-width="1.2"/>
<line x1="404.6" y1="1786.2" x2="411.6" y2="1779.2" stroke="#3f82d2" stroke-width="1.2"/>
<line x1="420.5" y1="1565" x2="420.5" y2="1786" stroke="#555555" stroke-width="0.9"/>
<line x1="417" y1="1577.2" x2="424" y2="1570.2" stroke="#3f82d2" stroke-width="1.2"/>
<line x1="417" y1="1786.2" x2="424" y2="1779.2" stroke="#3f82d2" stroke-width="1.2"/>
<line x1="404" y1="1568.2" x2="436" y2="1568.2" stroke="#555555" stroke-width="0.8"/>
<text transform="translate(403,1690) rotate(-90) skewX(-15) scale(0.62,1)" font-size="11.5" text-anchor="start" fill="#111111">6295</text>
<text transform="translate(416,1690) rotate(-90) skewX(-15) scale(0.62,1)" font-size="11.5" text-anchor="start" fill="#111111">6170</text>
<line x1="437.8" y1="1568.2" x2="582.8" y2="1568.2" stroke="#3f82d2" stroke-width="1.5"/>
<line x1="437.8" y1="1570.6" x2="582.8" y2="1570.6" stroke="#3f82d2" stroke-width="1.2"/>
<line x1="778.3" y1="1561.4" x2="1250.3" y2="1561.4" stroke="#3f82d2" stroke-width="1.5"/>
<line x1="778.3" y1="1566.4" x2="1250.3" y2="1566.4" stroke="#3f82d2" stroke-width="1.5"/>
<line x1="785.9" y1="1568.2" x2="983.6" y2="1568.2" stroke="#3f82d2" stroke-width="1.0"/>
<line x1="437.8" y1="1775.8" x2="1250.3" y2="1775.8" stroke="#3f82d2" stroke-width="1.5"/>
<line x1="437.8" y1="1779.6" x2="1250.3" y2="1779.6" stroke="#3f82d2" stroke-width="1.5"/>
<line x1="1250" y1="1781" x2="1295" y2="1781" stroke="#ebc68e" stroke-width="1.0"/>
<line x1="437.8" y1="1568.2" x2="437.8" y2="1782" stroke="#3f82d2" stroke-width="1.6"/>
<line x1="442.3" y1="1568.2" x2="442.3" y2="1782" stroke="#3f82d2" stroke-width="1.6"/>
<line x1="578.6" y1="1568.2" x2="578.6" y2="1782" stroke="#3f82d2" stroke-width="1.6"/>
<line x1="582.8" y1="1568.2" x2="582.8" y2="1782" stroke="#3f82d2" stroke-width="1.6"/>
<line x1="781.6" y1="1559.8" x2="781.6" y2="1785" stroke="#3f82d2" stroke-width="1.6"/>
<line x1="785.9" y1="1559.8" x2="785.9" y2="1785" stroke="#3f82d2" stroke-width="1.6"/>
<line x1="983.6" y1="1559.8" x2="983.6" y2="1785" stroke="#3f82d2" stroke-width="1.6"/>
<line x1="988.6" y1="1559.8" x2="988.6" y2="1785" stroke="#3f82d2" stroke-width="1.6"/>
<line x1="1088.6" y1="1559.8" x2="1088.6" y2="1785" stroke="#3f82d2" stroke-width="1.6"/>
<line x1="1093.6" y1="1559.8" x2="1093.6" y2="1785" stroke="#3f82d2" stroke-width="1.6"/>
<line x1="1244.3" y1="1559.8" x2="1244.3" y2="1785" stroke="#3f82d2" stroke-width="1.6"/>
<line x1="1249.3" y1="1559.8" x2="1249.3" y2="1785" stroke="#3f82d2" stroke-width="1.6"/>
<rect x="435.8" y="1779.4" width="9" height="7" fill="none" stroke="#3f82d2" stroke-width="1.3"/>
<line x1="434.3" y1="1771" x2="437.3" y2="1771" stroke="#3f82d2" stroke-width="1.2"/>
<line x1="434.3" y1="1771" x2="434.3" y2="1775.8" stroke="#3f82d2" stroke-width="1.2"/>
<line x1="446.3" y1="1771" x2="443.3" y2="1771" stroke="#3f82d2" stroke-width="1.2"/>
<line x1="446.3" y1="1771" x2="446.3" y2="1775.8" stroke="#3f82d2" stroke-width="1.2"/>
<rect x="576.7" y="1779.4" width="9" height="7" fill="none" stroke="#3f82d2" stroke-width="1.3"/>
<line x1="575.2" y1="1771" x2="578.2" y2="1771" stroke="#3f82d2" stroke-width="1.2"/>
<line x1="575.2" y1="1771" x2="575.2" y2="1775.8" stroke="#3f82d2" stroke-width="1.2"/>
<line x1="587.2" y1="1771" x2="584.2" y2="1771" stroke="#3f82d2" stroke-width="1.2"/>
<line x1="587.2" y1="1771" x2="587.2" y2="1775.8" stroke="#3f82d2" stroke-width="1.2"/>
<rect x="779" y="1779.4" width="9" height="7" fill="none" stroke="#3f82d2" stroke-width="1.3"/>
<line x1="777.5" y1="1771" x2="780.5" y2="1771" stroke="#3f82d2" stroke-width="1.2"/>
<line x1="777.5" y1="1771" x2="777.5" y2="1775.8" stroke="#3f82d2" stroke-width="1.2"/>
<line x1="789.5" y1="1771" x2="786.5" y2="1771" stroke="#3f82d2" stroke-width="1.2"/>
<line x1="789.5" y1="1771" x2="789.5" y2="1775.8" stroke="#3f82d2" stroke-width="1.2"/>
<rect x="981.9" y="1779.4" width="9" height="7" fill="none" stroke="#3f82d2" stroke-width="1.3"/>
<line x1="980.4" y1="1771" x2="983.4" y2="1771" stroke="#3f82d2" stroke-width="1.2"/>
<line x1="980.4" y1="1771" x2="980.4" y2="1775.8" stroke="#3f82d2" stroke-width="1.2"/>
<line x1="992.4" y1="1771" x2="989.4" y2="1771" stroke="#3f82d2" stroke-width="1.2"/>
<line x1="992.4" y1="1771" x2="992.4" y2="1775.8" stroke="#3f82d2" stroke-width="1.2"/>
<rect x="1086.8" y="1779.4" width="9" height="7" fill="none" stroke="#3f82d2" stroke-width="1.3"/>
<line x1="1085.3" y1="1771" x2="1088.3" y2="1771" stroke="#3f82d2" stroke-width="1.2"/>
<line x1="1085.3" y1="1771" x2="1085.3" y2="1775.8" stroke="#3f82d2" stroke-width="1.2"/>
<line x1="1097.3" y1="1771" x2="1094.3" y2="1771" stroke="#3f82d2" stroke-width="1.2"/>
<line x1="1097.3" y1="1771" x2="1097.3" y2="1775.8" stroke="#3f82d2" stroke-width="1.2"/>
<rect x="1242.3" y="1779.4" width="9" height="7" fill="none" stroke="#3f82d2" stroke-width="1.3"/>
<line x1="1240.8" y1="1771" x2="1243.8" y2="1771" stroke="#3f82d2" stroke-width="1.2"/>
<line x1="1240.8" y1="1771" x2="1240.8" y2="1775.8" stroke="#3f82d2" stroke-width="1.2"/>
<line x1="1252.8" y1="1771" x2="1249.8" y2="1771" stroke="#3f82d2" stroke-width="1.2"/>
<line x1="1252.8" y1="1771" x2="1252.8" y2="1775.8" stroke="#3f82d2" stroke-width="1.2"/>
<rect x="779" y="1558" width="9" height="6" fill="none" stroke="#3f82d2" stroke-width="1.2"/>
<rect x="780" y="1564" width="7" height="8" fill="none" stroke="#3f82d2" stroke-width="1.0"/>
<rect x="981.9" y="1558" width="9" height="6" fill="none" stroke="#3f82d2" stroke-width="1.2"/>
<rect x="982.9" y="1564" width="7" height="8" fill="none" stroke="#3f82d2" stroke-width="1.0"/>
<rect x="1086.8" y="1558" width="9" height="6" fill="none" stroke="#3f82d2" stroke-width="1.2"/>
<rect x="1087.8" y="1564" width="7" height="8" fill="none" stroke="#3f82d2" stroke-width="1.0"/>
<rect x="1242.3" y="1558" width="9" height="6" fill="none" stroke="#3f82d2" stroke-width="1.2"/>
<rect x="1243.3" y="1564" width="7" height="8" fill="none" stroke="#3f82d2" stroke-width="1.0"/>
<rect x="457" y="1781" width="4" height="2.5" fill="#3f82d2"/>
<rect x="564" y="1781" width="4" height="2.5" fill="#3f82d2"/>
<rect x="616" y="1781" width="4" height="2.5" fill="#3f82d2"/>
<rect x="724" y="1781" width="4" height="2.5" fill="#3f82d2"/>
<rect x="840" y="1781" width="4" height="2.5" fill="#3f82d2"/>
<rect x="932" y="1781" width="4" height="2.5" fill="#3f82d2"/>
<rect x="1134" y="1781" width="4" height="2.5" fill="#3f82d2"/>
<rect x="1182" y="1781" width="4" height="2.5" fill="#3f82d2"/>
<line x1="442.3" y1="1638.3" x2="578.6" y2="1638.3" stroke="#3f82d2" stroke-width="1.5"/>
<line x1="442.3" y1="1641.9" x2="578.6" y2="1641.9" stroke="#3f82d2" stroke-width="1.5"/>
<line x1="442.3" y1="1704.6" x2="578.6" y2="1704.6" stroke="#3f82d2" stroke-width="1.5"/>
<line x1="442.3" y1="1707.9" x2="578.6" y2="1707.9" stroke="#3f82d2" stroke-width="1.5"/>
<line x1="508.5" y1="1570.4" x2="508.5" y2="1638.3" stroke="#555555" stroke-width="0.8"/>
<line x1="505.5" y1="1573.4" x2="511.5" y2="1567.4" stroke="#3f82d2" stroke-width="1.2"/>
<line x1="505.5" y1="1641.3" x2="511.5" y2="1635.3" stroke="#3f82d2" stroke-width="1.2"/>
<line x1="508.5" y1="1707.9" x2="508.5" y2="1775.8" stroke="#555555" stroke-width="0.8"/>
<line x1="505.5" y1="1710.9" x2="511.5" y2="1704.9" stroke="#3f82d2" stroke-width="1.2"/>
<line x1="505.5" y1="1778.8" x2="511.5" y2="1772.8" stroke="#3f82d2" stroke-width="1.2"/>
<text transform="translate(503.5,1614) rotate(-90) skewX(-15) scale(0.62,1)" font-size="11.5" text-anchor="start" fill="#111111">2000</text>
<text transform="translate(503.5,1751) rotate(-90) skewX(-15) scale(0.62,1)" font-size="11.5" text-anchor="start" fill="#111111">2000</text>
<line x1="581.49" y1="1595.26" x2="672.19" y2="1674.01" stroke="#3f82d2" stroke-width="1.4"/>
<line x1="584.11" y1="1592.24" x2="674.81" y2="1670.99" stroke="#3f82d2" stroke-width="1.4"/>
<line x1="779.5" y1="1593.58" x2="689.2" y2="1670.98" stroke="#3f82d2" stroke-width="1.4"/>
<line x1="782.1" y1="1596.62" x2="691.8" y2="1674.02" stroke="#3f82d2" stroke-width="1.4"/>
<line x1="584.09" y1="1765.83" x2="674.79" y2="1689.53" stroke="#3f82d2" stroke-width="1.4"/>
<line x1="581.51" y1="1762.77" x2="672.21" y2="1686.47" stroke="#3f82d2" stroke-width="1.4"/>
<line x1="782.09" y1="1762.77" x2="691.79" y2="1686.47" stroke="#3f82d2" stroke-width="1.4"/>
<line x1="779.51" y1="1765.83" x2="689.21" y2="1689.53" stroke="#3f82d2" stroke-width="1.4"/>
<rect x="671.25" y="1670.8" width="21.5" height="19.2" fill="none" stroke="#3f82d2" stroke-width="1.3"/>
<rect x="674.5" y="1674.5" width="5" height="2.8" fill="none" stroke="#3f82d2" stroke-width="1" transform="rotate(45 677.0 1675.9)"/>
<rect x="684.5" y="1674.5" width="5" height="2.8" fill="none" stroke="#3f82d2" stroke-width="1" transform="rotate(-45 687.0 1675.9)"/>
<rect x="674.5" y="1683.5" width="5" height="2.8" fill="none" stroke="#3f82d2" stroke-width="1" transform="rotate(-45 677.0 1684.9)"/>
<rect x="684.5" y="1683.5" width="5" height="2.8" fill="none" stroke="#3f82d2" stroke-width="1" transform="rotate(45 687.0 1684.9)"/>
<circle cx="681.8" cy="1680.4" r="24" fill="none" stroke="#111111" stroke-width="0.9"/>
<line x1="706" y1="1680.4" x2="732.65" y2="1680.4" stroke="#555555" stroke-width="0.9"/>
<text transform="translate(722,1676.3) skewX(-15) scale(0.75,1)" font-size="13" text-anchor="start" fill="#111111">4</text>
<circle cx="580" cy="1640.5" r="9" fill="none" stroke="#111111" stroke-width="0.9"/>
<line x1="587" y1="1646" x2="596.5" y2="1656.5" stroke="#111111" stroke-width="0.8"/>
<line x1="596.5" y1="1656.5" x2="613" y2="1656.5" stroke="#555555" stroke-width="0.8"/>
<text transform="translate(604.5,1652.9) skewX(-15) scale(0.75,1)" font-size="13" text-anchor="start" fill="#111111">3</text>
<circle cx="682.3" cy="1680.4" r="1.6" fill="#111"/>
<line x1="682.3" y1="1680.4" x2="679" y2="1721" stroke="#111111" stroke-width="0.8"/>
<line x1="655.6" y1="1721" x2="679" y2="1721" stroke="#555555" stroke-width="0.8"/>
<text transform="translate(659.5,1717.5) skewX(-15) scale(0.68,1)" font-size="9.5" text-anchor="start" fill="#111111">РК2</text>
<line x1="785.12" y1="1635.44" x2="982.82" y2="1718.94" stroke="#3f82d2" stroke-width="1.4"/>
<line x1="786.68" y1="1631.76" x2="984.38" y2="1715.26" stroke="#3f82d2" stroke-width="1.4"/>
<line x1="988.6" y1="1606.2" x2="1088.6" y2="1606.2" stroke="#3f82d2" stroke-width="1.5"/>
<line x1="988.6" y1="1609.5" x2="1088.6" y2="1609.5" stroke="#3f82d2" stroke-width="1.5"/>
<line x1="988.6" y1="1732" x2="1088.6" y2="1732" stroke="#3f82d2" stroke-width="1.5"/>
<line x1="988.6" y1="1735.3" x2="1088.6" y2="1735.3" stroke="#3f82d2" stroke-width="1.5"/>
<line x1="1038.3" y1="1566.4" x2="1038.3" y2="1606.2" stroke="#555555" stroke-width="0.8"/>
<line x1="1035.3" y1="1569.4" x2="1041.3" y2="1563.4" stroke="#3f82d2" stroke-width="1.2"/>
<line x1="1035.3" y1="1609.2" x2="1041.3" y2="1603.2" stroke="#3f82d2" stroke-width="1.2"/>
<line x1="1038.3" y1="1735.3" x2="1038.3" y2="1776" stroke="#555555" stroke-width="0.8"/>
<line x1="1035.3" y1="1738.3" x2="1041.3" y2="1732.3" stroke="#3f82d2" stroke-width="1.2"/>
<line x1="1035.3" y1="1779" x2="1041.3" y2="1773" stroke="#3f82d2" stroke-width="1.2"/>
<text transform="translate(1034,1596) rotate(-90) skewX(-15) scale(0.62,1)" font-size="11.5" text-anchor="start" fill="#111111">1200</text>
<text transform="translate(1034,1764) rotate(-90) skewX(-15) scale(0.62,1)" font-size="11.5" text-anchor="start" fill="#111111">1200</text>
<circle cx="986.3" cy="1607.8" r="12.3" fill="none" stroke="#111111" stroke-width="0.9"/>
<line x1="974.5" y1="1614" x2="966" y2="1618.4" stroke="#111111" stroke-width="0.8"/>
<line x1="952.2" y1="1618.4" x2="966" y2="1618.4" stroke="#555555" stroke-width="0.8"/>
<text transform="translate(955.5,1613.8) skewX(-15) scale(0.75,1)" font-size="13" text-anchor="start" fill="#111111">3</text>
<line x1="1092.29" y1="1606.01" x2="1160.69" y2="1665.51" stroke="#3f82d2" stroke-width="1.4"/>
<line x1="1094.91" y1="1602.99" x2="1163.31" y2="1662.49" stroke="#3f82d2" stroke-width="1.4"/>
<line x1="1242.98" y1="1603" x2="1175.18" y2="1662.5" stroke="#3f82d2" stroke-width="1.4"/>
<line x1="1245.62" y1="1606" x2="1177.82" y2="1665.5" stroke="#3f82d2" stroke-width="1.4"/>
<line x1="1094.93" y1="1738.49" x2="1163.33" y2="1677.49" stroke="#3f82d2" stroke-width="1.4"/>
<line x1="1092.27" y1="1735.51" x2="1160.67" y2="1674.51" stroke="#3f82d2" stroke-width="1.4"/>
<line x1="1245.66" y1="1737.13" x2="1177.86" y2="1674.53" stroke="#3f82d2" stroke-width="1.4"/>
<line x1="1242.94" y1="1740.07" x2="1175.14" y2="1677.47" stroke="#3f82d2" stroke-width="1.4"/>
<rect x="1159.1" y="1660.9" width="20" height="18.2" fill="none" stroke="#3f82d2" stroke-width="1.3"/>
<rect x="1161.6" y="1664.1" width="5" height="2.8" fill="none" stroke="#3f82d2" stroke-width="1" transform="rotate(45 1164.1 1665.5)"/>
<rect x="1171.6" y="1664.1" width="5" height="2.8" fill="none" stroke="#3f82d2" stroke-width="1" transform="rotate(-45 1174.1 1665.5)"/>
<rect x="1161.6" y="1673.1" width="5" height="2.8" fill="none" stroke="#3f82d2" stroke-width="1" transform="rotate(-45 1164.1 1674.5)"/>
<rect x="1171.6" y="1673.1" width="5" height="2.8" fill="none" stroke="#3f82d2" stroke-width="1" transform="rotate(45 1174.1 1674.5)"/>
<circle cx="493.9" cy="1569" r="1.7" fill="#111"/>
<line x1="493.9" y1="1569" x2="508.5" y2="1544.8" stroke="#111111" stroke-width="0.9"/>
<line x1="508.5" y1="1544.8" x2="529.1" y2="1544.8" stroke="#555555" stroke-width="0.9"/>
<text transform="translate(515.4,1541.8) skewX(-15) scale(0.68,1)" font-size="9.5" text-anchor="start" fill="#111111">01</text>
<circle cx="508.5" cy="1640" r="1.7" fill="#111"/>
<line x1="508.5" y1="1640" x2="520.9" y2="1665.8" stroke="#111111" stroke-width="0.9"/>
<line x1="520.9" y1="1665.8" x2="541" y2="1665.8" stroke="#555555" stroke-width="0.9"/>
<text transform="translate(526.5,1662.8) skewX(-15) scale(0.68,1)" font-size="9.5" text-anchor="start" fill="#111111">Р2</text>
<circle cx="509.9" cy="1708.7" r="1.7" fill="#111"/>
<line x1="509.9" y1="1708.7" x2="522.3" y2="1734.6" stroke="#111111" stroke-width="0.9"/>
<line x1="522.3" y1="1734.6" x2="542.9" y2="1734.6" stroke="#555555" stroke-width="0.9"/>
<text transform="translate(528.3,1731.6) skewX(-15) scale(0.68,1)" font-size="9.5" text-anchor="start" fill="#111111">Р2</text>
<circle cx="440.3" cy="1669.4" r="1.7" fill="#111"/>
<line x1="440.3" y1="1669.4" x2="454.9" y2="1688.6" stroke="#111111" stroke-width="0.9"/>
<line x1="454.9" y1="1688.6" x2="474.1" y2="1688.6" stroke="#555555" stroke-width="0.9"/>
<text transform="translate(459.6,1685.6) skewX(-15) scale(0.68,1)" font-size="9.5" text-anchor="start" fill="#111111">Б6</text>
<circle cx="580.8" cy="1675.7" r="1.7" fill="#111"/>
<line x1="580.8" y1="1675.7" x2="595.2" y2="1694.1" stroke="#111111" stroke-width="0.9"/>
<line x1="595.2" y1="1694.1" x2="615.2" y2="1694.1" stroke="#555555" stroke-width="0.9"/>
<text transform="translate(600.1,1691.1) skewX(-15) scale(0.68,1)" font-size="9.5" text-anchor="start" fill="#111111">Б7</text>
<circle cx="499.5" cy="1777" r="1.7" fill="#111"/>
<line x1="499.5" y1="1777" x2="509.9" y2="1800.5" stroke="#111111" stroke-width="0.9"/>
<line x1="509.9" y1="1800.5" x2="529.8" y2="1800.5" stroke="#555555" stroke-width="0.9"/>
<text transform="translate(515.5,1797.5) skewX(-15) scale(0.68,1)" font-size="9.5" text-anchor="start" fill="#111111">Б1</text>
<circle cx="688.4" cy="1777" r="1.7" fill="#111"/>
<line x1="688.4" y1="1777" x2="697.8" y2="1802" stroke="#111111" stroke-width="0.9"/>
<line x1="697.8" y1="1802" x2="718.4" y2="1802" stroke="#555555" stroke-width="0.9"/>
<text transform="translate(703.7,1799) skewX(-15) scale(0.68,1)" font-size="9.5" text-anchor="start" fill="#111111">Б2</text>
<circle cx="885.3" cy="1563.1" r="1.7" fill="#111"/>
<line x1="885.3" y1="1563.1" x2="891.9" y2="1591.2" stroke="#111111" stroke-width="0.9"/>
<line x1="891.9" y1="1591.2" x2="911.8" y2="1591.2" stroke="#555555" stroke-width="0.9"/>
<text transform="translate(897.5,1588.2) skewX(-15) scale(0.68,1)" font-size="9.5" text-anchor="start" fill="#111111">Б3</text>
<circle cx="885.9" cy="1675.7" r="1.7" fill="#111"/>
<line x1="885.9" y1="1675.7" x2="894.2" y2="1659.2" stroke="#111111" stroke-width="0.9"/>
<line x1="894.2" y1="1659.2" x2="909.1" y2="1659.2" stroke="#555555" stroke-width="0.9"/>
<text transform="translate(896,1656.2) skewX(-15) scale(0.68,1)" font-size="9.5" text-anchor="start" fill="#111111">Р3</text>
<circle cx="783.25" cy="1679" r="1.7" fill="#111"/>
<line x1="783.25" y1="1679" x2="796.5" y2="1697.2" stroke="#111111" stroke-width="0.9"/>
<line x1="796.5" y1="1697.2" x2="818" y2="1697.2" stroke="#555555" stroke-width="0.9"/>
<text transform="translate(802.5,1694.2) skewX(-15) scale(0.68,1)" font-size="9.5" text-anchor="start" fill="#111111">Б8</text>
<circle cx="1035" cy="1563.1" r="1.7" fill="#111"/>
<line x1="1035" y1="1563.1" x2="1043.3" y2="1591.2" stroke="#111111" stroke-width="0.9"/>
<line x1="1043.3" y1="1591.2" x2="1063.1" y2="1591.2" stroke="#555555" stroke-width="0.9"/>
<text transform="translate(1048.2,1588.2) skewX(-15) scale(0.68,1)" font-size="9.5" text-anchor="start" fill="#111111">Б4</text>
<circle cx="1024" cy="1605.2" r="1.7" fill="#111"/>
<line x1="1024" y1="1605.2" x2="1030" y2="1630.3" stroke="#111111" stroke-width="0.9"/>
<line x1="1030" y1="1630.3" x2="1049.9" y2="1630.3" stroke="#555555" stroke-width="0.9"/>
<text transform="translate(1035,1627.3) skewX(-15) scale(0.68,1)" font-size="9.5" text-anchor="start" fill="#111111">Р4</text>
<circle cx="986.3" cy="1674" r="1.7" fill="#111"/>
<line x1="986.3" y1="1674" x2="1000.2" y2="1692.3" stroke="#111111" stroke-width="0.9"/>
<line x1="1000.2" y1="1692.3" x2="1020.1" y2="1692.3" stroke="#555555" stroke-width="0.9"/>
<text transform="translate(1005.8,1689.3) skewX(-15) scale(0.68,1)" font-size="9.5" text-anchor="start" fill="#111111">Б9</text>
<circle cx="1041" cy="1733" r="1.7" fill="#111"/>
<line x1="1041" y1="1733" x2="1045" y2="1716.5" stroke="#111111" stroke-width="0.9"/>
<line x1="1045" y1="1716.5" x2="1064.8" y2="1716.5" stroke="#555555" stroke-width="0.9"/>
<text transform="translate(1050.8,1713.5) skewX(-15) scale(0.68,1)" font-size="9.5" text-anchor="start" fill="#111111">Р4</text>
<circle cx="1164.2" cy="1563.1" r="1.7" fill="#111"/>
<line x1="1164.2" y1="1563.1" x2="1170.8" y2="1591.2" stroke="#111111" stroke-width="0.9"/>
<line x1="1170.8" y1="1591.2" x2="1190.7" y2="1591.2" stroke="#555555" stroke-width="0.9"/>
<text transform="translate(1176.7,1588.2) skewX(-15) scale(0.68,1)" font-size="9.5" text-anchor="start" fill="#111111">Б5</text>
<circle cx="1091.3" cy="1669.1" r="1.7" fill="#111"/>
<line x1="1091.3" y1="1669.1" x2="1107.9" y2="1687.3" stroke="#111111" stroke-width="0.9"/>
<line x1="1107.9" y1="1687.3" x2="1127.7" y2="1687.3" stroke="#555555" stroke-width="0.9"/>
<text transform="translate(1111.2,1684.3) skewX(-15) scale(0.68,1)" font-size="9.5" text-anchor="start" fill="#111111">Б10</text>
<circle cx="1169.1" cy="1672.4" r="1.6" fill="#111"/>
<line x1="1169.1" y1="1672.4" x2="1166.5" y2="1713.8" stroke="#111111" stroke-width="0.8"/>
<line x1="1143.6" y1="1713.8" x2="1166.5" y2="1713.8" stroke="#555555" stroke-width="0.8"/>
<text transform="translate(1148,1709.8) skewX(-15) scale(0.68,1)" font-size="9.5" text-anchor="start" fill="#111111">РК3</text>
<circle cx="1247" cy="1676.7" r="1.7" fill="#111"/>
<line x1="1247" y1="1676.7" x2="1260.2" y2="1694.9" stroke="#111111" stroke-width="0.9"/>
<line x1="1260.2" y1="1694.9" x2="1281.8" y2="1694.9" stroke="#555555" stroke-width="0.9"/>
<text transform="translate(1265.5,1691.9) skewX(-15) scale(0.68,1)" font-size="9.5" text-anchor="start" fill="#111111">Б11</text>
<circle cx="886.6" cy="1777.2" r="1.7" fill="#111"/>
<line x1="886.6" y1="1777.2" x2="892.2" y2="1805.3" stroke="#111111" stroke-width="0.9"/>
<line x1="892.2" y1="1805.3" x2="913.1" y2="1805.3" stroke="#555555" stroke-width="0.9"/>
<text transform="translate(898.4,1802.3) skewX(-15) scale(0.68,1)" font-size="9.5" text-anchor="start" fill="#111111">Б3</text>
<circle cx="1039" cy="1777.2" r="1.7" fill="#111"/>
<line x1="1039" y1="1777.2" x2="1045.3" y2="1805.3" stroke="#111111" stroke-width="0.9"/>
<line x1="1045.3" y1="1805.3" x2="1066.25" y2="1805.3" stroke="#555555" stroke-width="0.9"/>
<text transform="translate(1051,1802.3) skewX(-15) scale(0.68,1)" font-size="9.5" text-anchor="start" fill="#111111">Б4</text>
<circle cx="1174.4" cy="1777.2" r="1.7" fill="#111"/>
<line x1="1174.4" y1="1777.2" x2="1180.6" y2="1805.3" stroke="#111111" stroke-width="0.9"/>
<line x1="1180.6" y1="1805.3" x2="1201.6" y2="1805.3" stroke="#555555" stroke-width="0.9"/>
<text transform="translate(1186.9,1802.3) skewX(-15) scale(0.68,1)" font-size="9.5" text-anchor="start" fill="#111111">Б5</text>
<line x1="436.3" y1="1833.4" x2="1250.8" y2="1833.4" stroke="#555555" stroke-width="0.9"/>
<line x1="436.8" y1="1836.9" x2="443.8" y2="1829.9" stroke="#3f82d2" stroke-width="1.2"/>
<line x1="577.7" y1="1836.9" x2="584.7" y2="1829.9" stroke="#3f82d2" stroke-width="1.2"/>
<line x1="780" y1="1836.9" x2="787" y2="1829.9" stroke="#3f82d2" stroke-width="1.2"/>
<line x1="982.9" y1="1836.9" x2="989.9" y2="1829.9" stroke="#3f82d2" stroke-width="1.2"/>
<line x1="1087.8" y1="1836.9" x2="1094.8" y2="1829.9" stroke="#3f82d2" stroke-width="1.2"/>
<line x1="1243.3" y1="1836.9" x2="1250.3" y2="1829.9" stroke="#3f82d2" stroke-width="1.2"/>
<text transform="translate(509.8,1829.4) skewX(-15) scale(0.62,1)" font-size="9.5" text-anchor="middle" fill="#111111">4160</text>
<text transform="translate(681.7,1829.4) skewX(-15) scale(0.62,1)" font-size="9.5" text-anchor="middle" fill="#111111">6000</text>
<text transform="translate(884.4,1829.4) skewX(-15) scale(0.62,1)" font-size="9.5" text-anchor="middle" fill="#111111">6000</text>
<text transform="translate(1039,1829.4) skewX(-15) scale(0.62,1)" font-size="9.5" text-anchor="middle" fill="#111111">3110</text>
<text transform="translate(1168.75,1829.4) skewX(-15) scale(0.62,1)" font-size="9.5" text-anchor="middle" fill="#111111">4580</text>
<line x1="436.3" y1="1853.3" x2="1250.8" y2="1853.3" stroke="#555555" stroke-width="0.9"/>
<line x1="436.8" y1="1856.8" x2="443.8" y2="1849.8" stroke="#3f82d2" stroke-width="1.2"/>
<line x1="1243.3" y1="1856.8" x2="1250.3" y2="1849.8" stroke="#3f82d2" stroke-width="1.2"/>
<text transform="translate(843,1849.5) skewX(-15) scale(0.62,1)" font-size="9.5" text-anchor="middle" fill="#111111">23850</text>
<text transform="translate(625,1923.6) skewX(-15) scale(0.7,1)" font-size="11.5" text-anchor="middle" fill="#111111" textLength="201.43" lengthAdjust="spacingAndGlyphs">Спецификация металлопроката</text>
<line x1="361" y1="1936.6" x2="893.2" y2="1936.6" stroke="#3f82d2" stroke-width="1.5"/>
<line x1="893.2" y1="1936.6" x2="893.2" y2="2255.8" stroke="#3f82d2" stroke-width="1.5"/>
<line x1="361" y1="1982.2" x2="893.2" y2="1982.2" stroke="#3f82d2" stroke-width="1.5"/>
<line x1="620" y1="1936.6" x2="620" y2="2255.8" stroke="#3b3b3b" stroke-width="1.0"/>
<line x1="731.4" y1="1936.6" x2="731.4" y2="2255.8" stroke="#3b3b3b" stroke-width="1.0"/>
<line x1="812.1" y1="1936.6" x2="812.1" y2="2255.8" stroke="#3b3b3b" stroke-width="1.0"/>
<line x1="840.3" y1="1936.6" x2="840.3" y2="2255.8" stroke="#3b3b3b" stroke-width="1.0"/>
<line x1="361" y1="2025.1" x2="893.2" y2="2025.1" stroke="#3b3b3b" stroke-width="1.0"/>
<line x1="361" y1="2050.7" x2="893.2" y2="2050.7" stroke="#3b3b3b" stroke-width="1.0"/>
<line x1="361" y1="2094.3" x2="893.2" y2="2094.3" stroke="#3b3b3b" stroke-width="1.0"/>
<line x1="361" y1="2124.3" x2="893.2" y2="2124.3" stroke="#3b3b3b" stroke-width="1.0"/>
<line x1="361" y1="2152.2" x2="893.2" y2="2152.2" stroke="#3b3b3b" stroke-width="1.0"/>
<line x1="361" y1="2180.5" x2="893.2" y2="2180.5" stroke="#3b3b3b" stroke-width="1.0"/>
<line x1="361" y1="2217.9" x2="893.2" y2="2217.9" stroke="#3b3b3b" stroke-width="1.0"/>
<text transform="translate(489.5,1950.9) skewX(-15) scale(0.7,1)" font-size="11.5" text-anchor="middle" fill="#111111" textLength="87.43" lengthAdjust="spacingAndGlyphs">Наименование</text>
<text transform="translate(489.5,1963.5) skewX(-15) scale(0.7,1)" font-size="11.5" text-anchor="middle" fill="#111111" textLength="51" lengthAdjust="spacingAndGlyphs">профиля</text>
<text transform="translate(489.5,1975.7) skewX(-15) scale(0.7,1)" font-size="11.5" text-anchor="middle" fill="#111111" textLength="58.29" lengthAdjust="spacingAndGlyphs">ГОСТ, ТУ</text>
<text transform="translate(675.2,1950.9) skewX(-15) scale(0.7,1)" font-size="11.5" text-anchor="middle" fill="#111111" textLength="116.57" lengthAdjust="spacingAndGlyphs">Наименование или</text>
<text transform="translate(675.2,1963.5) skewX(-15) scale(0.7,1)" font-size="11.5" text-anchor="middle" fill="#111111" textLength="94.71" lengthAdjust="spacingAndGlyphs">марка металла</text>
<text transform="translate(675.2,1975.7) skewX(-15) scale(0.7,1)" font-size="11.5" text-anchor="middle" fill="#111111" textLength="58.29" lengthAdjust="spacingAndGlyphs">ГОСТ, ТУ</text>
<text transform="translate(771.2,1950.9) skewX(-15) scale(0.7,1)" font-size="11.5" text-anchor="middle" fill="#111111" textLength="65.57" lengthAdjust="spacingAndGlyphs">Номер или</text>
<text transform="translate(771.2,1963.5) skewX(-15) scale(0.7,1)" font-size="11.5" text-anchor="middle" fill="#111111" textLength="51" lengthAdjust="spacingAndGlyphs">размеры</text>
<text transform="translate(771.2,1975.7) skewX(-15) scale(0.7,1)" font-size="11.5" text-anchor="middle" fill="#111111" textLength="51" lengthAdjust="spacingAndGlyphs">профиля</text>
<text transform="translate(826.7,1963.5) skewX(-15) scale(0.7,1)" font-size="11.5" text-anchor="middle" fill="#111111" textLength="24.29" lengthAdjust="spacingAndGlyphs">Поз.</text>
<text transform="translate(865.9,1963.5) skewX(-15) scale(0.7,1)" font-size="11.5" text-anchor="middle" fill="#111111" textLength="57.14" lengthAdjust="spacingAndGlyphs">Масса, т</text>
<text transform="translate(362.5,1995.1) skewX(-15) scale(0.7,1)" font-size="12" text-anchor="start" fill="#111111" textLength="300" lengthAdjust="spacingAndGlyphs">Профили стальные гнутые замкнутые сварные</text>
<text transform="translate(362.5,2007.75) skewX(-15) scale(0.7,1)" font-size="12" text-anchor="start" fill="#111111" textLength="314.29" lengthAdjust="spacingAndGlyphs">квадратные и прямоугольные для строительных</text>
<text transform="translate(362.5,2020) skewX(-15) scale(0.7,1)" font-size="12" text-anchor="start" fill="#111111" textLength="200" lengthAdjust="spacingAndGlyphs">конструкций ГОСТ 30245-2003</text>
<text transform="translate(675.2,2001.3) skewX(-15) scale(0.7,1)" font-size="12" text-anchor="middle" fill="#111111" textLength="31.43" lengthAdjust="spacingAndGlyphs">С235</text>
<text transform="translate(675.2,2013.9) skewX(-15) scale(0.7,1)" font-size="12" text-anchor="middle" fill="#111111" textLength="111.43" lengthAdjust="spacingAndGlyphs">ГОСТ 27772-2015</text>
<rect x="740" y="2000.3" width="9" height="9" fill="none" stroke="#111111" stroke-width="1.0"/>
<text transform="translate(757,2008.8) skewX(-15) scale(0.66,1)" font-size="12.5" text-anchor="start" fill="#111111" textLength="73.64" lengthAdjust="spacingAndGlyphs">160х160х5</text>
<text transform="translate(826.7,2008.8) skewX(-15) scale(0.7,1)" font-size="12.5" text-anchor="middle" fill="#111111">1</text>
<text transform="translate(866,2008.8) skewX(-15) scale(0.66,1)" font-size="12.5" text-anchor="middle" fill="#111111">1,160</text>
<text transform="translate(368,2036) skewX(-15) scale(0.7,1)" font-size="12" text-anchor="start" fill="#111111" textLength="340" lengthAdjust="spacingAndGlyphs">Двутавры стальные горячекатаные с параллельными</text>
<text transform="translate(362.5,2048) skewX(-15) scale(0.7,1)" font-size="12" text-anchor="start" fill="#111111" textLength="202.86" lengthAdjust="spacingAndGlyphs">гранями полок ГОСТ Р 57837-17</text>
<text transform="translate(675.2,2035.3) skewX(-15) scale(0.7,1)" font-size="12" text-anchor="middle" fill="#111111" textLength="31.43" lengthAdjust="spacingAndGlyphs">С235</text>
<text transform="translate(675.2,2048) skewX(-15) scale(0.7,1)" font-size="12" text-anchor="middle" fill="#111111" textLength="111.43" lengthAdjust="spacingAndGlyphs">ГОСТ 27772-2015</text>
<line x1="743" y1="2033.8" x2="751" y2="2033.8" stroke="#3f82d2" stroke-width="1.3"/>
<line x1="743" y1="2042.8" x2="751" y2="2042.8" stroke="#3f82d2" stroke-width="1.3"/>
<line x1="747" y1="2033.8" x2="747" y2="2042.8" stroke="#3f82d2" stroke-width="1.3"/>
<text transform="translate(765,2041.8) skewX(-15) scale(0.66,1)" font-size="12.5" text-anchor="start" fill="#111111" textLength="30.3" lengthAdjust="spacingAndGlyphs">25Б1</text>
<text transform="translate(826.7,2042.8) skewX(-15) scale(0.7,1)" font-size="12.5" text-anchor="middle" fill="#111111">2</text>
<text transform="translate(866,2042.8) skewX(-15) scale(0.66,1)" font-size="12.5" text-anchor="middle" fill="#111111">1,492</text>
<text transform="translate(362.5,2063.3) skewX(-15) scale(0.7,1)" font-size="12" text-anchor="start" fill="#111111" textLength="300" lengthAdjust="spacingAndGlyphs">Профили стальные гнутые замкнутые сварные</text>
<text transform="translate(362.5,2075.9) skewX(-15) scale(0.7,1)" font-size="12" text-anchor="start" fill="#111111" textLength="314.29" lengthAdjust="spacingAndGlyphs">квадратные и прямоугольные для строительных</text>
<text transform="translate(362.5,2088.1) skewX(-15) scale(0.7,1)" font-size="12" text-anchor="start" fill="#111111" textLength="200" lengthAdjust="spacingAndGlyphs">конструкций ГОСТ 30245-2003</text>
<text transform="translate(675.2,2069.5) skewX(-15) scale(0.7,1)" font-size="12" text-anchor="middle" fill="#111111" textLength="31.43" lengthAdjust="spacingAndGlyphs">С235</text>
<text transform="translate(675.2,2082.1) skewX(-15) scale(0.7,1)" font-size="12" text-anchor="middle" fill="#111111" textLength="111.43" lengthAdjust="spacingAndGlyphs">ГОСТ 27772-2015</text>
<rect x="740" y="2068.3" width="9" height="9" fill="none" stroke="#111111" stroke-width="1.0"/>
<text transform="translate(757,2076.8) skewX(-15) scale(0.66,1)" font-size="12.5" text-anchor="start" fill="#111111" textLength="73.64" lengthAdjust="spacingAndGlyphs">100х100х5</text>
<text transform="translate(826.7,2076.8) skewX(-15) scale(0.7,1)" font-size="12.5" text-anchor="middle" fill="#111111">3</text>
<text transform="translate(866,2076.8) skewX(-15) scale(0.66,1)" font-size="12.5" text-anchor="middle" fill="#111111">2,125</text>
<text transform="translate(377,2107.2) skewX(-15) scale(0.7,1)" font-size="12" text-anchor="start" fill="#111111" textLength="321.43" lengthAdjust="spacingAndGlyphs">Уголки стальные горячекатаные неравнополочные</text>
<text transform="translate(362.5,2118.5) skewX(-15) scale(0.7,1)" font-size="12" text-anchor="start" fill="#111111" textLength="88.57" lengthAdjust="spacingAndGlyphs">ГОСТ 8510-93</text>
<text transform="translate(675.2,2106.6) skewX(-15) scale(0.7,1)" font-size="12" text-anchor="middle" fill="#111111" textLength="31.43" lengthAdjust="spacingAndGlyphs">С235</text>
<text transform="translate(675.2,2118.5) skewX(-15) scale(0.7,1)" font-size="12" text-anchor="middle" fill="#111111" textLength="111.43" lengthAdjust="spacingAndGlyphs">ГОСТ 27772-2015</text>
<polyline points="743.5,2100 743.5,2111 753.5,2111" fill="none" stroke="#3f82d2" stroke-width="1.5"/>
<text transform="translate(768.5,2114) skewX(-15) scale(0.66,1)" font-size="12.5" text-anchor="start" fill="#111111" textLength="33.33" lengthAdjust="spacingAndGlyphs">14/9</text>
<text transform="translate(826.7,2114) skewX(-15) scale(0.7,1)" font-size="12.5" text-anchor="middle" fill="#111111">4</text>
<text transform="translate(866,2114) skewX(-15) scale(0.66,1)" font-size="12.5" text-anchor="middle" fill="#111111">0,123</text>
<text transform="translate(362.5,2136.2) skewX(-15) scale(0.7,1)" font-size="12" text-anchor="start" fill="#111111" textLength="214.29" lengthAdjust="spacingAndGlyphs">Прокат листовой горячекатаный</text>
<text transform="translate(362.5,2148.1) skewX(-15) scale(0.7,1)" font-size="12" text-anchor="start" fill="#111111" textLength="108.57" lengthAdjust="spacingAndGlyphs">ГОСТ 19903-2015</text>
<text transform="translate(675.2,2136) skewX(-15) scale(0.7,1)" font-size="12" text-anchor="middle" fill="#111111" textLength="31.43" lengthAdjust="spacingAndGlyphs">С235</text>
<text transform="translate(675.2,2148.1) skewX(-15) scale(0.7,1)" font-size="12" text-anchor="middle" fill="#111111" textLength="111.43" lengthAdjust="spacingAndGlyphs">ГОСТ 27772-2015</text>
<text transform="translate(771.2,2143) skewX(-15) scale(0.66,1)" font-size="12.5" text-anchor="middle" fill="#111111" textLength="71.21" lengthAdjust="spacingAndGlyphs">Лист 10 мм</text>
<text transform="translate(826.7,2143) skewX(-15) scale(0.7,1)" font-size="12.5" text-anchor="middle" fill="#111111">5</text>
<text transform="translate(866,2143) skewX(-15) scale(0.66,1)" font-size="12.5" text-anchor="middle" fill="#111111">0,279</text>
<text transform="translate(362.5,2164.5) skewX(-15) scale(0.7,1)" font-size="12" text-anchor="start" fill="#111111" textLength="214.29" lengthAdjust="spacingAndGlyphs">Прокат листовой горячекатаный</text>
<text transform="translate(362.5,2176) skewX(-15) scale(0.7,1)" font-size="12" text-anchor="start" fill="#111111" textLength="108.57" lengthAdjust="spacingAndGlyphs">ГОСТ 19903-2015</text>
<text transform="translate(675.2,2163.8) skewX(-15) scale(0.7,1)" font-size="12" text-anchor="middle" fill="#111111" textLength="31.43" lengthAdjust="spacingAndGlyphs">С235</text>
<text transform="translate(675.2,2176) skewX(-15) scale(0.7,1)" font-size="12" text-anchor="middle" fill="#111111" textLength="111.43" lengthAdjust="spacingAndGlyphs">ГОСТ 27772-2015</text>
<text transform="translate(771.2,2170.3) skewX(-15) scale(0.66,1)" font-size="12.5" text-anchor="middle" fill="#111111" textLength="64.09" lengthAdjust="spacingAndGlyphs">Лист 5 мм</text>
<text transform="translate(826.7,2170.3) skewX(-15) scale(0.7,1)" font-size="12.5" text-anchor="middle" fill="#111111">6</text>
<text transform="translate(866,2170.3) skewX(-15) scale(0.66,1)" font-size="12.5" text-anchor="middle" fill="#111111">0,026</text>
<text transform="translate(362.5,2190.7) skewX(-15) scale(0.7,1)" font-size="12" text-anchor="start" fill="#111111" textLength="300" lengthAdjust="spacingAndGlyphs">Профили стальные гнутые замкнутые сварные</text>
<text transform="translate(362.5,2203.3) skewX(-15) scale(0.7,1)" font-size="12" text-anchor="start" fill="#111111" textLength="314.29" lengthAdjust="spacingAndGlyphs">квадратные и прямоугольные для строительных</text>
<text transform="translate(362.5,2215.6) skewX(-15) scale(0.7,1)" font-size="12" text-anchor="start" fill="#111111" textLength="200" lengthAdjust="spacingAndGlyphs">конструкций ГОСТ 30245-2003</text>
<text transform="translate(675.2,2196.8) skewX(-15) scale(0.7,1)" font-size="12" text-anchor="middle" fill="#111111" textLength="31.43" lengthAdjust="spacingAndGlyphs">С235</text>
<text transform="translate(675.2,2209.5) skewX(-15) scale(0.7,1)" font-size="12" text-anchor="middle" fill="#111111" textLength="111.43" lengthAdjust="spacingAndGlyphs">ГОСТ 27772-2015</text>
<rect x="740" y="2194.1" width="9" height="9" fill="none" stroke="#111111" stroke-width="1.0"/>
<text transform="translate(757,2202.6) skewX(-15) scale(0.66,1)" font-size="12.5" text-anchor="start" fill="#111111" textLength="57.27" lengthAdjust="spacingAndGlyphs">50х50х5</text>
<text transform="translate(826.7,2202.6) skewX(-15) scale(0.7,1)" font-size="12.5" text-anchor="middle" fill="#111111">7</text>
<text transform="translate(866,2202.6) skewX(-15) scale(0.66,1)" font-size="12.5" text-anchor="middle" fill="#111111">0,211</text>
<text transform="translate(362.5,2234.3) skewX(-15) scale(0.7,1)" font-size="12" text-anchor="start" fill="#111111" textLength="201.43" lengthAdjust="spacingAndGlyphs">Трубы стальные прямоугольные</text>
<text transform="translate(362.5,2246.9) skewX(-15) scale(0.7,1)" font-size="12" text-anchor="start" fill="#111111" textLength="91.43" lengthAdjust="spacingAndGlyphs">ГОСТ 8645-68</text>
<text transform="translate(675.2,2235) skewX(-15) scale(0.7,1)" font-size="12" text-anchor="middle" fill="#111111" textLength="31.43" lengthAdjust="spacingAndGlyphs">С235</text>
<text transform="translate(675.2,2247.2) skewX(-15) scale(0.7,1)" font-size="12" text-anchor="middle" fill="#111111" textLength="111.43" lengthAdjust="spacingAndGlyphs">ГОСТ 27772-2015</text>
<rect x="742" y="2235.3" width="12" height="4" fill="none" stroke="#111111" stroke-width="1.0"/>
<text transform="translate(762,2240.8) skewX(-15) scale(0.66,1)" font-size="12.5" text-anchor="start" fill="#111111" textLength="60.61" lengthAdjust="spacingAndGlyphs">120х40х4</text>
<text transform="translate(826.7,2240.8) skewX(-15) scale(0.7,1)" font-size="12.5" text-anchor="middle" fill="#111111">8</text>
<text transform="translate(866,2240.8) skewX(-15) scale(0.66,1)" font-size="12.5" text-anchor="middle" fill="#111111">0,920</text>
<line x1="976.3" y1="1938.75" x2="976.3" y2="2066" stroke="#ebc68e" stroke-width="0.9" stroke-dasharray="30 2 2 2"/>
<line x1="1029.3" y1="1938.75" x2="1029.3" y2="2066" stroke="#ebc68e" stroke-width="0.9" stroke-dasharray="30 2 2 2"/>
<line x1="1105.3" y1="1938.75" x2="1105.3" y2="2066" stroke="#ebc68e" stroke-width="0.9" stroke-dasharray="30 2 2 2"/>
<line x1="1181.75" y1="1938.75" x2="1181.75" y2="2066" stroke="#ebc68e" stroke-width="0.9" stroke-dasharray="30 2 2 2"/>
<line x1="1220.9" y1="1938.75" x2="1220.9" y2="2066" stroke="#ebc68e" stroke-width="0.9" stroke-dasharray="30 2 2 2"/>
<line x1="1279.1" y1="1938.75" x2="1279.1" y2="2066" stroke="#ebc68e" stroke-width="0.9" stroke-dasharray="30 2 2 2"/>
<circle cx="976.8" cy="2074.6" r="7.1" fill="#fff" stroke="#3a3a3a" stroke-width="0.95"/>
<text transform="translate(977.1,2078.1) skewX(-15) scale(0.644,1)" font-size="9.3" text-anchor="middle" fill="#222">1</text>
<circle cx="1029.8" cy="2074.6" r="7.1" fill="#fff" stroke="#3a3a3a" stroke-width="0.95"/>
<text transform="translate(1030.1,2078.1) skewX(-15) scale(0.644,1)" font-size="9.3" text-anchor="middle" fill="#222">2</text>
<circle cx="1105.8" cy="2074.6" r="7.1" fill="#fff" stroke="#3a3a3a" stroke-width="0.95"/>
<text transform="translate(1106.1,2078.1) skewX(-15) scale(0.644,1)" font-size="9.3" text-anchor="middle" fill="#222">3</text>
<circle cx="1182.25" cy="2074.6" r="7.1" fill="#fff" stroke="#3a3a3a" stroke-width="0.95"/>
<text transform="translate(1182.55,2078.1) skewX(-15) scale(0.644,1)" font-size="9.3" text-anchor="middle" fill="#222">4</text>
<circle cx="1221.4" cy="2074.6" r="7.1" fill="#fff" stroke="#3a3a3a" stroke-width="0.95"/>
<text transform="translate(1221.7,2078.1) skewX(-15) scale(0.644,1)" font-size="9.3" text-anchor="middle" fill="#222">5</text>
<circle cx="1279.6" cy="2074.6" r="7.1" fill="#fff" stroke="#3a3a3a" stroke-width="0.95"/>
<text transform="translate(1279.9,2078.1) skewX(-15) scale(0.644,1)" font-size="9.3" text-anchor="middle" fill="#222">6</text>
<line x1="958.5" y1="1954.2" x2="1296.9" y2="1954.2" stroke="#ebc68e" stroke-width="0.9"/>
<line x1="958.5" y1="2032.6" x2="1296.9" y2="2032.6" stroke="#ebc68e" stroke-width="0.9"/>
<circle cx="952.6" cy="1940" r="6.7" fill="#fff" stroke="#3a3a3a" stroke-width="0.95"/>
<text transform="translate(952.9,1943.15) skewX(-15) scale(0.552,1)" font-size="8.37" text-anchor="middle" fill="#222">Б2</text>
<circle cx="951.85" cy="1954.2" r="6.7" fill="#fff" stroke="#3a3a3a" stroke-width="0.95"/>
<text transform="translate(952.15,1957.7) skewX(-15) scale(0.644,1)" font-size="9.3" text-anchor="middle" fill="#222">Б</text>
<circle cx="951.85" cy="2032.6" r="6.7" fill="#fff" stroke="#3a3a3a" stroke-width="0.95"/>
<text transform="translate(952.15,2036.1) skewX(-15) scale(0.644,1)" font-size="9.3" text-anchor="middle" fill="#222">А</text>
<line x1="958.5" y1="1942" x2="971.6" y2="1953" stroke="#ebc68e" stroke-width="0.9"/>
<line x1="976.3" y1="1953" x2="976.3" y2="2032.6" stroke="#a89a80" stroke-width="2.0"/>
<line x1="1029.3" y1="1953" x2="1029.3" y2="2032.6" stroke="#a89a80" stroke-width="2.0"/>
<line x1="1105.3" y1="1953" x2="1105.3" y2="2032.6" stroke="#a89a80" stroke-width="2.0"/>
<line x1="1181.75" y1="1953" x2="1181.75" y2="2032.6" stroke="#a89a80" stroke-width="2.0"/>
<line x1="1220.9" y1="1953" x2="1220.9" y2="2032.6" stroke="#a89a80" stroke-width="2.0"/>
<line x1="1279.1" y1="1953" x2="1279.1" y2="2032.6" stroke="#a89a80" stroke-width="2.0"/>
<line x1="973.9" y1="1953.5" x2="1280.3" y2="1953.5" stroke="#3a8ae6" stroke-width="2.6"/>
<line x1="973.9" y1="1979.6" x2="1280.3" y2="1979.6" stroke="#3a8ae6" stroke-width="2.6"/>
<line x1="973.9" y1="2005.25" x2="1280.3" y2="2005.25" stroke="#3a8ae6" stroke-width="2.6"/>
<line x1="973.9" y1="2031.4" x2="1280.3" y2="2031.4" stroke="#3a8ae6" stroke-width="2.6"/>
<line x1="1105.3" y1="1951" x2="1280.3" y2="1951" stroke="#2f6fc0" stroke-width="2.0"/>
<line x1="1028.66" y1="1964.47" x2="1104.66" y2="2027.37" stroke="#8f8f92" stroke-width="1.4"/>
<line x1="1029.94" y1="1962.93" x2="1105.94" y2="2025.83" stroke="#8f8f92" stroke-width="1.4"/>
<line x1="1104.66" y1="1962.93" x2="1028.66" y2="2025.83" stroke="#8f8f92" stroke-width="1.4"/>
<line x1="1105.94" y1="1964.47" x2="1029.94" y2="2027.37" stroke="#8f8f92" stroke-width="1.4"/>
<rect x="1063.5" y="1991" width="8" height="7" fill="none" stroke="#8f8f92" stroke-width="1.0"/>
<line x1="1104.92" y1="1978.12" x2="1181.37" y2="2009.72" stroke="#8f8f92" stroke-width="1.4"/>
<line x1="1105.68" y1="1976.28" x2="1182.13" y2="2007.88" stroke="#8f8f92" stroke-width="1.4"/>
<line x1="1181.75" y1="1967.25" x2="1220.9" y2="1967.25" stroke="#8f8f92" stroke-width="1.6"/>
<line x1="1181.75" y1="2014.3" x2="1220.9" y2="2014.3" stroke="#8f8f92" stroke-width="1.6"/>
<line x1="1220.27" y1="1968.02" x2="1278.47" y2="2015.57" stroke="#8f8f92" stroke-width="1.4"/>
<line x1="1221.53" y1="1966.48" x2="1279.73" y2="2014.03" stroke="#8f8f92" stroke-width="1.4"/>
<line x1="1278.47" y1="1966.48" x2="1220.27" y2="2014.03" stroke="#8f8f92" stroke-width="1.4"/>
<line x1="1279.73" y1="1968.02" x2="1221.53" y2="2015.57" stroke="#8f8f92" stroke-width="1.4"/>
<rect x="1247" y="1987.5" width="7.5" height="7" fill="none" stroke="#8f8f92" stroke-width="1.0"/>
<rect x="974.3" y="2032" width="4" height="2.5" fill="#666"/>
<rect x="1027.3" y="2032" width="4" height="2.5" fill="#666"/>
<rect x="1103.3" y="2032" width="4" height="2.5" fill="#666"/>
<rect x="1179.75" y="2032" width="4" height="2.5" fill="#666"/>
<rect x="1218.9" y="2032" width="4" height="2.5" fill="#666"/>
<rect x="1277.1" y="2032" width="4" height="2.5" fill="#666"/>
<line x1="973.5" y1="1942.3" x2="1030" y2="1942.3" stroke="#555555" stroke-width="0.8"/>
<line x1="973.8" y1="1944.8" x2="978.8" y2="1939.8" stroke="#3f82d2" stroke-width="1.2"/>
<line x1="1026.8" y1="1944.8" x2="1031.8" y2="1939.8" stroke="#3f82d2" stroke-width="1.2"/>
<text transform="translate(1003,1938.75) skewX(-15) scale(0.66,1)" font-size="10" text-anchor="middle" fill="#111111">4239</text>
<line x1="1103" y1="1938.75" x2="1282" y2="1938.75" stroke="#555555" stroke-width="0.8"/>
<line x1="1102.8" y1="1941.25" x2="1107.8" y2="1936.25" stroke="#3f82d2" stroke-width="1.2"/>
<line x1="1179.25" y1="1941.25" x2="1184.25" y2="1936.25" stroke="#3f82d2" stroke-width="1.2"/>
<line x1="1218.4" y1="1941.25" x2="1223.4" y2="1936.25" stroke="#3f82d2" stroke-width="1.2"/>
<line x1="1277.8" y1="1941.25" x2="1282.8" y2="1936.25" stroke="#3f82d2" stroke-width="1.2"/>
<text transform="translate(1143,1938) skewX(-15) scale(0.66,1)" font-size="10" text-anchor="middle" fill="#111111">6061</text>
<text transform="translate(1200.7,1938) skewX(-15) scale(0.66,1)" font-size="10" text-anchor="middle" fill="#111111">3110</text>
<text transform="translate(1250.6,1938) skewX(-15) scale(0.66,1)" font-size="10" text-anchor="middle" fill="#111111">4661</text>
<line x1="972.75" y1="1950" x2="972.75" y2="2035" stroke="#555555" stroke-width="0.8"/>
<line x1="970.25" y1="1956" x2="975.25" y2="1951" stroke="#3f82d2" stroke-width="1.2"/>
<line x1="970.25" y1="1982.1" x2="975.25" y2="1977.1" stroke="#3f82d2" stroke-width="1.2"/>
<line x1="970.25" y1="2007.75" x2="975.25" y2="2002.75" stroke="#3f82d2" stroke-width="1.2"/>
<line x1="970.25" y1="2033.9" x2="975.25" y2="2028.9" stroke="#3f82d2" stroke-width="1.2"/>
<text transform="translate(968.5,1973.5) rotate(-90) skewX(-15) scale(0.62,1)" font-size="10" text-anchor="start" fill="#111111">1926</text>
<text transform="translate(968.5,1999.4) rotate(-90) skewX(-15) scale(0.62,1)" font-size="10" text-anchor="start" fill="#111111">1926</text>
<text transform="translate(968.5,2025.3) rotate(-90) skewX(-15) scale(0.62,1)" font-size="10" text-anchor="start" fill="#111111">1926</text>
<line x1="973.5" y1="2052.3" x2="1282" y2="2052.3" stroke="#555555" stroke-width="0.8"/>
<line x1="973.8" y1="2054.8" x2="978.8" y2="2049.8" stroke="#3f82d2" stroke-width="1.2"/>
<line x1="1026.8" y1="2054.8" x2="1031.8" y2="2049.8" stroke="#3f82d2" stroke-width="1.2"/>
<line x1="1102.8" y1="2054.8" x2="1107.8" y2="2049.8" stroke="#3f82d2" stroke-width="1.2"/>
<line x1="1179.25" y1="2054.8" x2="1184.25" y2="2049.8" stroke="#3f82d2" stroke-width="1.2"/>
<line x1="1218.4" y1="2054.8" x2="1223.4" y2="2049.8" stroke="#3f82d2" stroke-width="1.2"/>
<line x1="1276.6" y1="2054.8" x2="1281.6" y2="2049.8" stroke="#3f82d2" stroke-width="1.2"/>
<text transform="translate(1003.2,2048.5) skewX(-15) scale(0.66,1)" font-size="10" text-anchor="middle" fill="#111111">4160</text>
<text transform="translate(1067.3,2048.5) skewX(-15) scale(0.66,1)" font-size="10" text-anchor="middle" fill="#111111">6000</text>
<text transform="translate(1143.3,2048.5) skewX(-15) scale(0.66,1)" font-size="10" text-anchor="middle" fill="#111111">6000</text>
<text transform="translate(1201.2,2048.5) skewX(-15) scale(0.66,1)" font-size="10" text-anchor="middle" fill="#111111">3110</text>
<text transform="translate(1250.2,2048.5) skewX(-15) scale(0.66,1)" font-size="10" text-anchor="middle" fill="#111111">4585</text>
<line x1="973.5" y1="2063.4" x2="1282" y2="2063.4" stroke="#555555" stroke-width="0.8"/>
<line x1="973.8" y1="2065.9" x2="978.8" y2="2060.9" stroke="#3f82d2" stroke-width="1.2"/>
<line x1="1276.6" y1="2065.9" x2="1281.6" y2="2060.9" stroke="#3f82d2" stroke-width="1.2"/>
<text transform="translate(1126,2059.9) skewX(-15) scale(0.66,1)" font-size="10" text-anchor="middle" fill="#111111">23850</text>
<text transform="translate(1008.4,1964.4) skewX(-15) scale(0.66,1)" font-size="10" text-anchor="start" fill="#111111">Пр1</text>
<line x1="1001.25" y1="1967.25" x2="1026.19" y2="1967.25" stroke="#555555" stroke-width="0.8"/>
<circle cx="995.31" cy="1953" r="1.5" fill="#111"/>
<line x1="1001.25" y1="1967.25" x2="995.31" y2="1953" stroke="#111111" stroke-width="0.7"/>
<circle cx="986.29" cy="1980.31" r="1.5" fill="#111"/>
<line x1="1001.25" y1="1967.25" x2="986.29" y2="1980.31" stroke="#111111" stroke-width="0.7"/>
<circle cx="994.13" cy="2005.25" r="1.5" fill="#111"/>
<line x1="1001.25" y1="1967.25" x2="994.13" y2="2005.25" stroke="#111111" stroke-width="0.7"/>
<circle cx="996.5" cy="2031.38" r="1.5" fill="#111"/>
<line x1="1001.25" y1="1967.25" x2="996.5" y2="2031.38" stroke="#111111" stroke-width="0.7"/>
<text transform="translate(1067.75,1964.4) skewX(-15) scale(0.66,1)" font-size="10" text-anchor="start" fill="#111111">Пр2</text>
<line x1="1060.63" y1="1967.25" x2="1085.56" y2="1967.25" stroke="#555555" stroke-width="0.8"/>
<circle cx="1054.69" cy="1953" r="1.5" fill="#111"/>
<line x1="1060.63" y1="1967.25" x2="1054.69" y2="1953" stroke="#111111" stroke-width="0.7"/>
<circle cx="1045.66" cy="1980.31" r="1.5" fill="#111"/>
<line x1="1060.63" y1="1967.25" x2="1045.66" y2="1980.31" stroke="#111111" stroke-width="0.7"/>
<circle cx="1053.98" cy="2005.25" r="1.5" fill="#111"/>
<line x1="1060.63" y1="1967.25" x2="1053.98" y2="2005.25" stroke="#111111" stroke-width="0.7"/>
<circle cx="1055.16" cy="2031.38" r="1.5" fill="#111"/>
<line x1="1060.63" y1="1967.25" x2="1055.16" y2="2031.38" stroke="#111111" stroke-width="0.7"/>
<text transform="translate(1139,1964.4) skewX(-15) scale(0.66,1)" font-size="10" text-anchor="start" fill="#111111">Пр3</text>
<line x1="1133.06" y1="1967.25" x2="1156.81" y2="1967.25" stroke="#555555" stroke-width="0.8"/>
<circle cx="1126.41" cy="1953" r="1.5" fill="#111"/>
<line x1="1133.06" y1="1967.25" x2="1126.41" y2="1953" stroke="#111111" stroke-width="0.7"/>
<circle cx="1117.15" cy="1980.31" r="1.5" fill="#111"/>
<line x1="1133.06" y1="1967.25" x2="1117.15" y2="1980.31" stroke="#111111" stroke-width="0.7"/>
<circle cx="1125.23" cy="2005.25" r="1.5" fill="#111"/>
<line x1="1133.06" y1="1967.25" x2="1125.23" y2="2005.25" stroke="#111111" stroke-width="0.7"/>
<circle cx="1126.65" cy="2031.38" r="1.5" fill="#111"/>
<line x1="1133.06" y1="1967.25" x2="1126.65" y2="2031.38" stroke="#111111" stroke-width="0.7"/>
<text transform="translate(1216,1964.4) skewX(-15) scale(0.66,1)" font-size="10" text-anchor="start" fill="#111111">Пр4</text>
<line x1="1210.25" y1="1967.25" x2="1234" y2="1967.25" stroke="#555555" stroke-width="0.8"/>
<circle cx="1202.65" cy="1953" r="1.5" fill="#111"/>
<line x1="1210.25" y1="1967.25" x2="1202.65" y2="1953" stroke="#111111" stroke-width="0.7"/>
<circle cx="1193.63" cy="1980.31" r="1.5" fill="#111"/>
<line x1="1210.25" y1="1967.25" x2="1193.63" y2="1980.31" stroke="#111111" stroke-width="0.7"/>
<circle cx="1202.41" cy="2005.25" r="1.5" fill="#111"/>
<line x1="1210.25" y1="1967.25" x2="1202.41" y2="2005.25" stroke="#111111" stroke-width="0.7"/>
<circle cx="1203.6" cy="2031.38" r="1.5" fill="#111"/>
<line x1="1210.25" y1="1967.25" x2="1203.6" y2="2031.38" stroke="#111111" stroke-width="0.7"/>
<text transform="translate(1263.7,1964.4) skewX(-15) scale(0.66,1)" font-size="10" text-anchor="start" fill="#111111">Пр5</text>
<line x1="1255.38" y1="1967.25" x2="1279.13" y2="1967.25" stroke="#555555" stroke-width="0.8"/>
<circle cx="1249.91" cy="1953" r="1.5" fill="#111"/>
<line x1="1255.38" y1="1967.25" x2="1249.91" y2="1953" stroke="#111111" stroke-width="0.7"/>
<circle cx="1241.13" cy="1980.31" r="1.5" fill="#111"/>
<line x1="1255.38" y1="1967.25" x2="1241.13" y2="1980.31" stroke="#111111" stroke-width="0.7"/>
<circle cx="1249.44" cy="2005.25" r="1.5" fill="#111"/>
<line x1="1255.38" y1="1967.25" x2="1249.44" y2="2005.25" stroke="#111111" stroke-width="0.7"/>
<circle cx="1250.63" cy="2031.38" r="1.5" fill="#111"/>
<line x1="1255.38" y1="1967.25" x2="1250.63" y2="2031.38" stroke="#111111" stroke-width="0.7"/>
<text transform="translate(1171,1923) skewX(-15) scale(0.66,1)" font-size="10" text-anchor="start" fill="#111111">Пр6</text>
<line x1="1165.1" y1="1924.5" x2="1188.9" y2="1924.5" stroke="#555555" stroke-width="0.8"/>
<circle cx="1158" cy="1950.2" r="1.5" fill="#111"/>
<line x1="1165.1" y1="1924.5" x2="1158" y2="1950.2" stroke="#111111" stroke-width="0.7"/>
<circle cx="1205.5" cy="1950.2" r="1.5" fill="#111"/>
<circle cx="1254.2" cy="1950.2" r="1.5" fill="#111"/>
</svg></body></html>
